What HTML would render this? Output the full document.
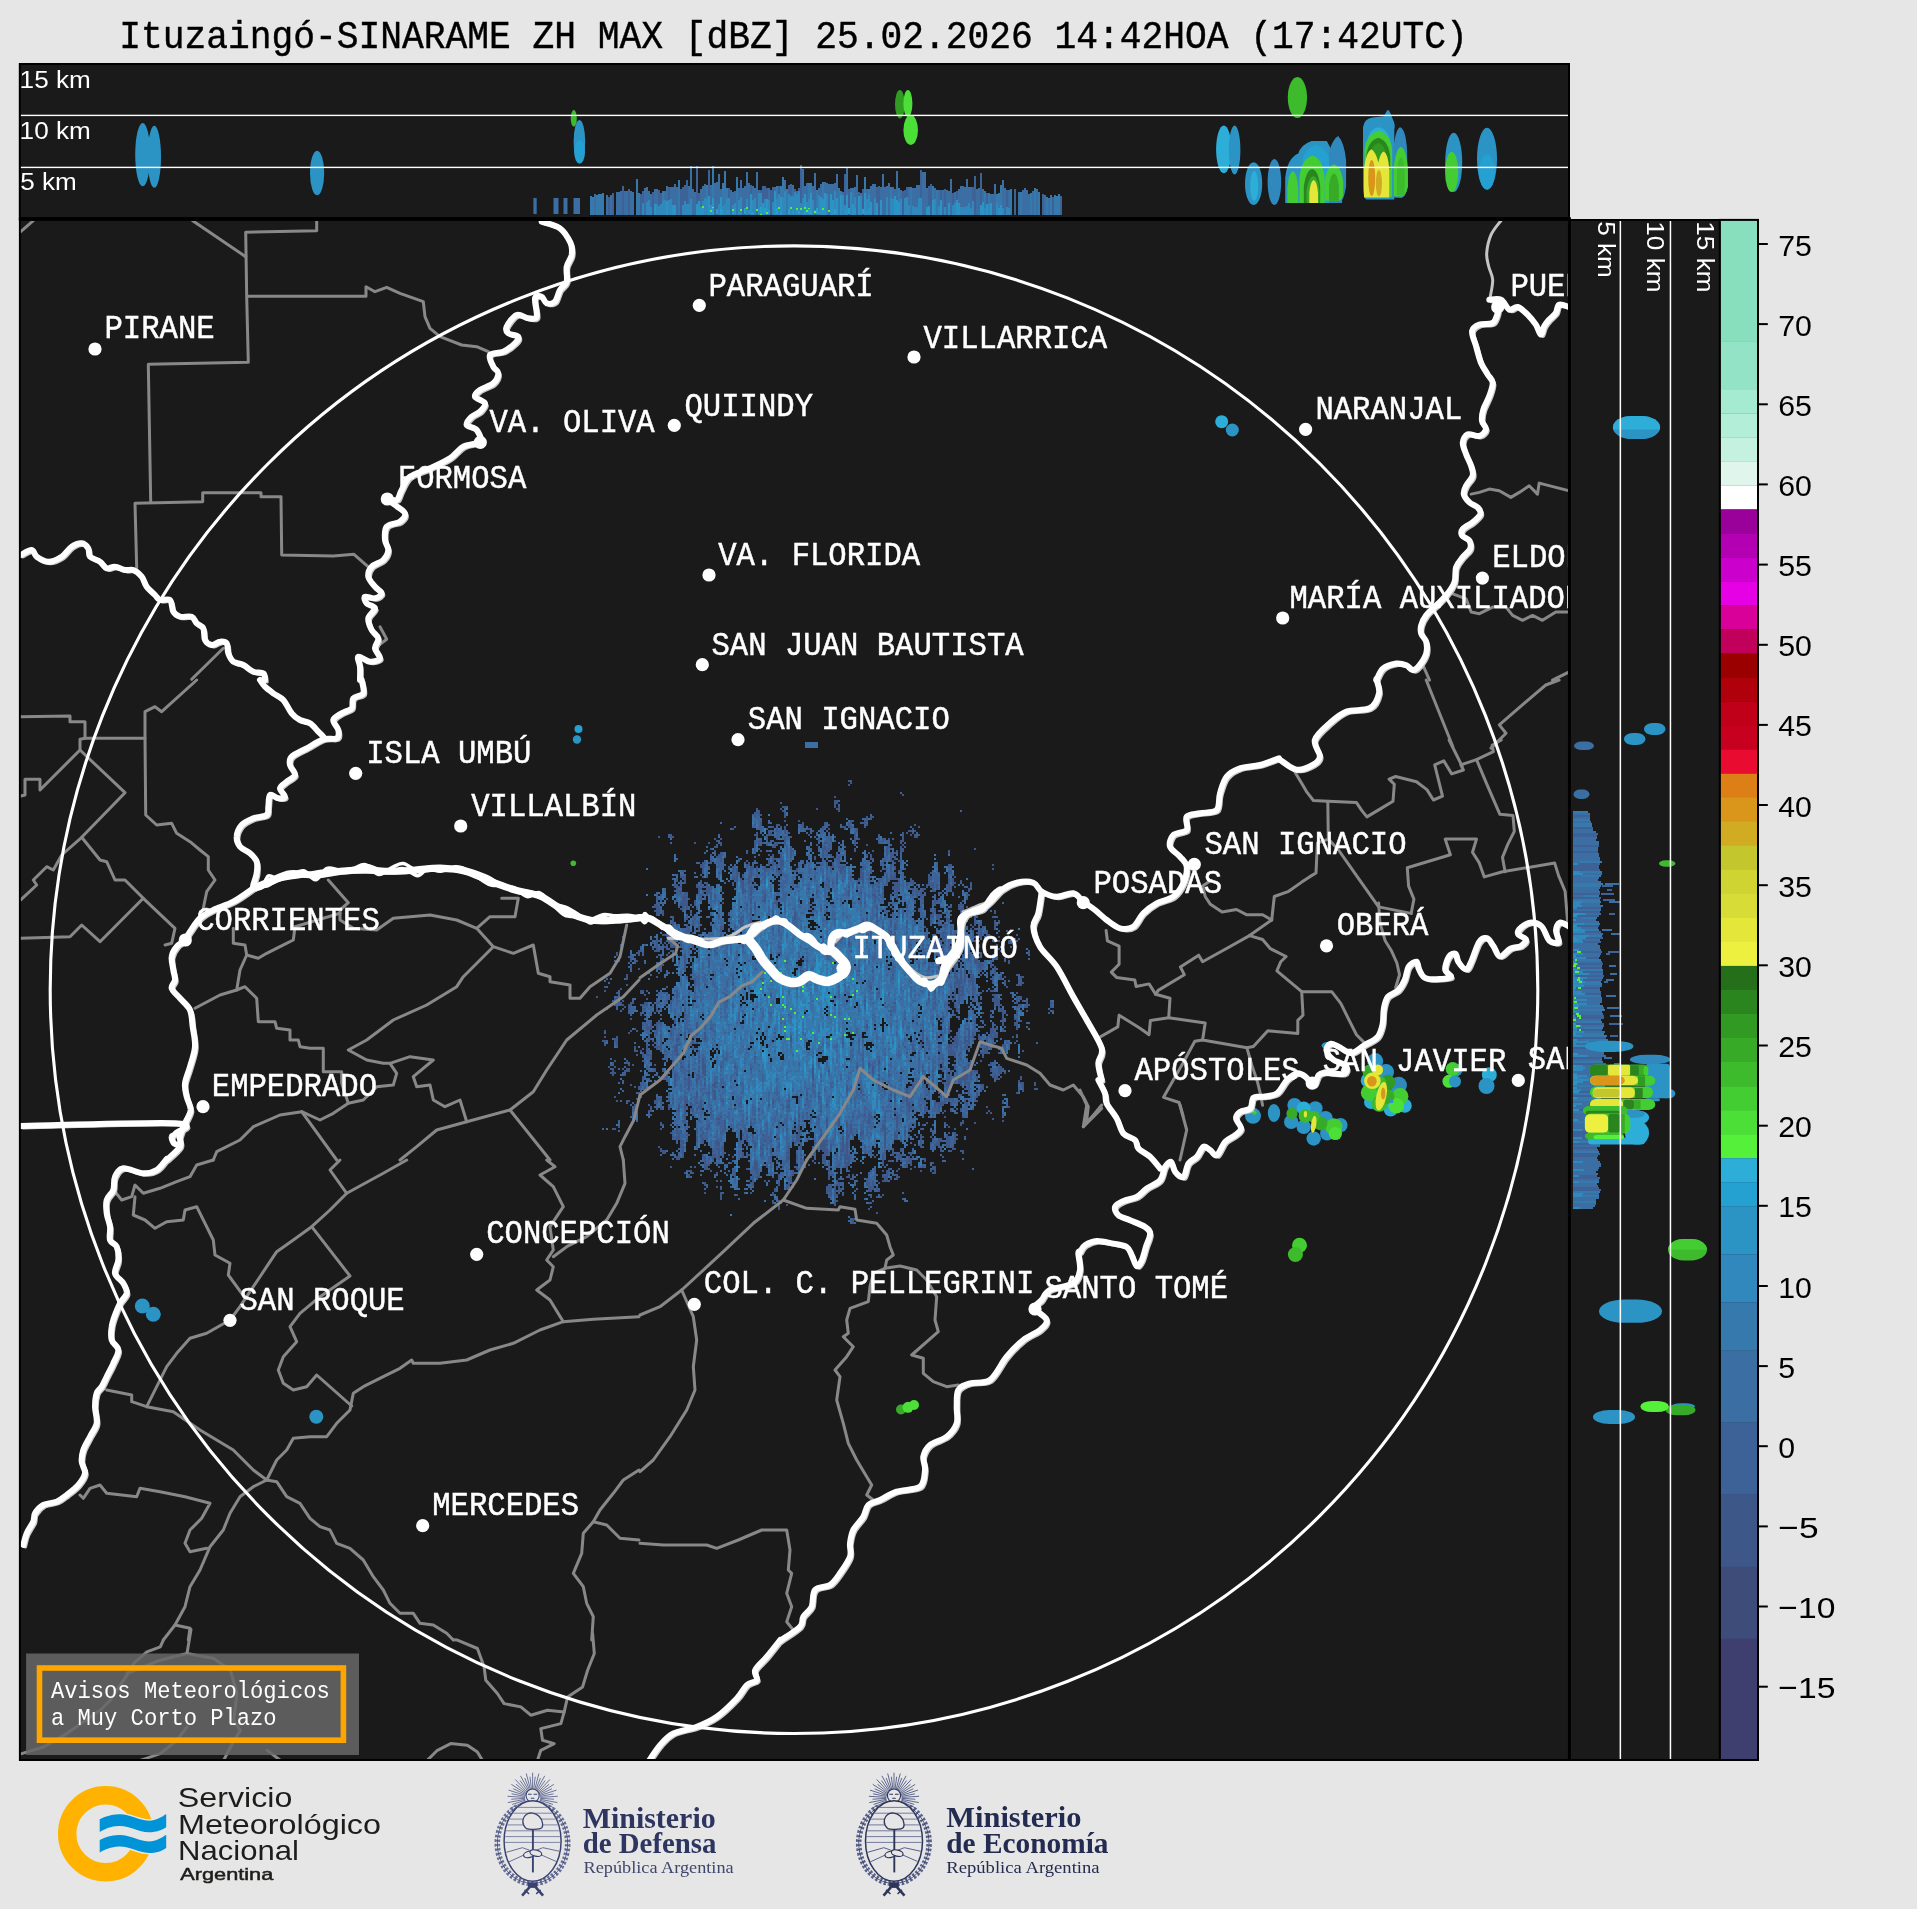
<!DOCTYPE html>
<html><head><meta charset="utf-8"><title>radar</title>
<style>html,body{margin:0;padding:0;background:#e6e6e6;overflow:hidden}svg{display:block}text{font-family:"Liberation Sans",sans-serif}.m{font-family:"Liberation Mono",monospace}.s{font-family:"Liberation Serif",serif}</style>
</head><body>
<svg width="1917" height="1909" viewBox="0 0 1917 1909" style="will-change:transform">
<rect x="18.8" y="63" width="1551.2" height="157" fill="#000"/>
<rect x="20.8" y="65" width="1547.2" height="152.3" fill="#1a1a1a"/>
<rect x="18.9" y="219" width="1702.4" height="1542" fill="#000"/>
<rect x="18.9" y="217.3" width="1552" height="4" fill="#000"/>
<rect x="20.85" y="220.9" width="1547.1" height="1538.1" fill="#1a1a1a"/>
<rect x="1570.9" y="220.9" width="148" height="1538.1" fill="#1a1a1a"/>
<text class="m" x="119.3" y="48.2" font-size="39.6" fill="#000" textLength="1348.5" lengthAdjust="spacingAndGlyphs" stroke="#000" stroke-width="0.45">Ituzaingó-SINARAME ZH MAX [dBZ] 25.02.2026 14:42HOA (17:42UTC)</text>
<clipPath id="ct"><rect x="20.8" y="65" width="1547.2" height="152.3"/></clipPath>
<g clip-path="url(#ct)">
<ellipse cx="142.7" cy="154.7" rx="7.5" ry="31.6" fill="#2b94c5"/>
<ellipse cx="154.3" cy="156.8" rx="6.7" ry="31" fill="#2b94c5"/>
<ellipse cx="317.1" cy="173" rx="7.1" ry="22.2" fill="#2b94c5"/>
<ellipse cx="573.8" cy="118.4" rx="3" ry="8.4" fill="#3dbb2d"/>
<ellipse cx="579.4" cy="141.7" rx="5.8" ry="21.8" fill="#2b94c5"/>
<ellipse cx="579.6" cy="152" rx="5.4" ry="11.5" fill="#25a1d1"/>
<ellipse cx="899.9" cy="104.2" rx="4.9" ry="14.2" fill="#319a23"/>
<ellipse cx="907.9" cy="103.4" rx="4.5" ry="13.4" fill="#4cdf38"/>
<ellipse cx="910.7" cy="130" rx="7.3" ry="15" fill="#4cdf38"/>
<ellipse cx="1223.8" cy="149.4" rx="7.7" ry="23.9" fill="#2daed9"/>
<ellipse cx="1234.6" cy="150" rx="5.8" ry="24.4" fill="#2b94c5"/>
<ellipse cx="1297.4" cy="97.5" rx="9.6" ry="20.6" fill="#3dbb2d"/>
<ellipse cx="1253.6" cy="183.7" rx="8.6" ry="21.4" fill="#2b94c5"/>
<ellipse cx="1254.2" cy="186" rx="4" ry="15" fill="#2daed9"/>
<ellipse cx="1274.4" cy="182" rx="6.8" ry="23" fill="#3088bd"/>
<ellipse cx="1487" cy="158.8" rx="10" ry="31" fill="#2b94c5"/>
<ellipse cx="1487" cy="172" rx="8" ry="17.5" fill="#25a1d1"/>
<ellipse cx="1453.7" cy="162.4" rx="8.5" ry="29.6" fill="#2b94c5"/>
<ellipse cx="1451.7" cy="172" rx="6.6" ry="20" fill="#44cd33"/>
<path d="M1285.2 202.9L1285.2 177.7Q1287.4 158 1298.3 153.6Q1300.5 144.8 1311.5 140.9L1326.8 140.9Q1330.1 147 1331.2 149.2L1331.2 202.9Z" fill="#2b94c5"/>
<path d="M1329 202.9L1329 151.4Q1333.4 138.3 1338.2 136.1Q1344.3 142.6 1346.1 160.2L1346.1 186.5Q1344.3 197.4 1342.1 200L1342.1 202.9Z" fill="#3088bd"/>
<path d="M1302.7 202.9L1302.7 158Q1307.1 147 1315.8 144.8Q1324.6 147 1329 158L1329 202.9Z" fill="#25a1d1"/>
<path d="M1287.4 202.9L1287.4 188.7Q1288.5 173.3 1292.8 171.1Q1297.2 173.3 1298.3 188.7L1298.3 202.9Z" fill="#44cd33"/>
<path d="M1299.4 202.9L1299.4 177.7Q1301.6 158 1312.6 155.8Q1322.4 158 1324.6 177.7L1324.6 202.9Z" fill="#44cd33"/>
<path d="M1303.8 202.9L1303.8 186.5Q1306 170 1312.1 168.9Q1318.5 170 1320.2 186.5L1320.2 202.9Z" fill="#2b851f"/>
<path d="M1306.6 202.9L1306.6 190.8Q1308.2 177.7 1313.2 175.9Q1318.5 177.7 1319.4 190.8L1319.4 202.9Z" fill="#37aa28"/>
<path d="M1309.3 202.9L1309.3 193Q1310.4 181 1313.7 179.9Q1316.9 181 1318 193L1318 202.9Z" fill="#e4e63a"/>
<path d="M1324.6 200.7L1324.6 182.1Q1326.8 165.6 1333.8 164.6Q1341 165.6 1343.2 182.1L1343.2 195.2Q1342.1 200.7 1337.8 200.7Z" fill="#44cd33"/>
<path d="M1329 200.7L1329 186.5Q1330.1 174.4 1333.8 173.3Q1337.8 174.4 1338.9 186.5L1338.9 200.7Z" fill="#37aa28"/>
<path d="M1363 186.5L1363 127.3Q1364 118.5 1372.8 117.4L1383.8 116.3Q1387.1 109.8 1388.2 109.8Q1390.3 112 1392.5 118.5Q1395.8 125.1 1394.3 129.5L1394.3 199.6L1366.2 199.6Q1363 197.4 1363 186.5Z" fill="#2b94c5"/>
<path d="M1393.6 197.4L1393.6 147Q1395.8 128.4 1400.2 127.3Q1405.7 129.5 1407 149.2L1407.9 186.5Q1405.7 197.4 1401.3 197.9Z" fill="#3088bd"/>
<path d="M1366.2 147Q1367.3 129.5 1378.3 127.3Q1389.2 128.4 1391.4 147Z" fill="#2daed9"/>
<path d="M1364.5 196.3L1364.5 149.2Q1366.2 135 1378.3 130.6Q1390.3 133.4 1392.1 149.2L1392.1 197Z" fill="#44cd33"/>
<path d="M1366.2 168.9L1366.2 158Q1367.3 140.9 1378.3 137.8Q1389.2 140.9 1390.3 158L1390.3 168.9Z" fill="#2b851f"/>
<path d="M1370.2 164.6L1370.2 155.8Q1371.7 144.8 1378.3 143.1Q1384.9 144.8 1386.4 155.8L1386.4 164.6Z" fill="#319a23"/>
<path d="M1364 197.4L1364 168.9Q1366.2 151.4 1371.7 149.2Q1376.1 152.5 1378.3 162.4Q1380.5 152.5 1383.8 151.4Q1388.2 153.6 1389.2 168.9L1389.2 197.4Z" fill="#e4e63a"/>
<ellipse cx="1371.7" cy="178.1" rx="3.5" ry="18" fill="#d9961b"/>
<ellipse cx="1378.9" cy="183.2" rx="3.1" ry="13.1" fill="#d1ac22"/>
<path d="M1393.6 196.3L1393.6 168.9Q1395.8 148.1 1400.9 147Q1406.1 148.1 1407.9 168.9L1407.9 186.5Q1405.7 196.3 1401.3 196.5Z" fill="#44cd33"/>
<path d="M1396.9 195.2L1396.9 173.3Q1398 158 1400.9 156.9Q1403.9 158 1404.8 173.3L1404.8 195.2Z" fill="#3dbb2d"/>
<rect x="533.4" y="198" width="3.3" height="16" fill="#3b6ea3"/>
<rect x="553.5" y="198" width="5" height="16" fill="#3b6ea3"/>
<rect x="563.5" y="198" width="4" height="16" fill="#3b6ea3"/>
<rect x="573.5" y="198" width="6.5" height="16" fill="#3b6ea3"/>
<path d="M591 195.7v19.1M593 197v17.8M597 195.2v19.6M599 193.5v21.3M601 193.6v21.2M603 193.1v21.7M637 179.4v35.4M639 193.3v21.5M645 204.6v10.2M653 205.8v9M663 191v23.8M677 201v13.8M679 179.7v35.1M679 198.5v16.3M681 204.5v10.3M693 202.8v12M695 204.3v10.5M707 185.4v29.4M713 166.4v48.4M715 201.1v13.7M717 195v19.8M723 182.5v32.3M725 171.1v43.7M727 188.1v26.7M731 204.6v10.2M737 176.8v38M737 202.6v12.2M743 201v13.8M745 199.6v15.2M749 196.4v18.4M757 193.6v21.2M771 192.5v22.3M777 185.5v29.3M781 185.8v29M783 177v37.8M787 189.2v25.6M787 201v13.8M809 183.2v31.6M811 183.4v31.4M815 192.6v22.2M817 189.6v25.2M817 192.6v22.2M823 182.3v32.5M829 195.1v19.7M839 187.5v27.3M839 199.6v15.2M841 190.9v23.9M849 204.5v10.3M853 188.1v26.7M857 200.7v14.1M863 199.1v15.7M865 176.9v37.9M869 188.9v25.9M873 198.1v16.7M879 194.9v19.9M883 198.6v16.2M885 199.6v15.2M889 204.6v10.2M891 186.6v28.2M899 188.4v26.4M903 201v13.8M911 186.8v28M911 197.1v17.7M923 199.8v15M925 205.7v9.1M931 198.5v16.3M933 186.4v28.4M937 190.4v24.4M937 203.6v11.2M943 203.3v11.5M947 205.1v9.7M951 203.9v10.9M975 203.4v11.4M977 202.1v12.7M979 208.8v6M985 190.9v23.9M989 193.1v21.7M993 207.3v7.5M995 207.4v7.4M997 193.9v20.9M999 193.2v21.6M1001 184.6v30.2M1005 208v6.8M1011 189.4v25.4M1021 192v22.8M1031 193.1v21.7M1035 188.3v26.5M1039 192.1v22.7M1047 196.5v18.3M1051 195.4v19.4M1055 194.5v20.3M1057 195.8v19M1059 194.2v20.6" stroke="#367aad" stroke-width="2" fill="none" shape-rendering="crispEdges"/>
<path d="M595 194.4v20.4M607 195.4v19.4M611 194.6v20.2M617 191.7v23.1M619 191.9v22.9M621 190.5v24.3M625 191.3v23.5M627 190.6v24.2M631 190.6v24.2M633 191.8v23M645 187.5v27.3M647 187.3v27.5M649 191.1v23.7M651 194.2v20.6M655 188.8v26M657 189.4v25.4M665 190.6v24.2M667 186.3v28.5M671 186.6v28.2M673 187v27.8M675 184v30.8M677 187.4v27.4M689 185.5v29.3M691 165.6v49.2M693 189.1v25.7M695 192v22.8M701 188.6v26.2M703 186.2v28.6M705 183.6v31.2M711 185.4v29.4M715 182.5v32.3M717 182.4v32.4M719 173.8v41M721 188.6v26.2M731 189.6v25.2M733 191.6v23.2M735 190.7v24.1M739 187.9v26.9M741 180v34.8M743 187.5v27.3M745 186.4v28.4M747 171.6v43.2M749 182.9v31.9M753 185.5v29.3M755 188.2v26.6M757 171.5v43.3M759 190.3v24.5M769 188.3v26.5M775 187.3v27.5M785 180.4v34.4M793 185.3v29.5M797 190.6v24.2M803 168.8v46M805 186.3v28.5M807 183.4v31.4M813 186.3v28.5M815 172.8v42M819 188v26.8M821 184.3v30.5M825 181.8v33M827 182.5v32.3M829 183.7v31.1M831 184v30.8M833 184v30.8M835 182.8v32M837 173.6v41.2M843 191.6v23.2M847 168.2v46.6M851 188.1v26.7M855 187.2v27.6M857 175.2v39.6M861 192.5v22.3M867 188.9v25.9M871 186v28.8M873 184.3v30.5M875 183.8v31M881 187.2v27.6M883 173.6v41.2M885 186.7v28.1M887 186.4v28.4M889 183.3v31.5M893 186.9v27.9M895 189.3v25.5M897 170.5v44.3M901 190.4v24.4M909 187v27.8M913 188v26.8M915 187.7v27.1M917 185.4v29.4M919 184.7v30.1M923 172.2v42.6M925 171.7v43.1M927 188v26.8M935 187.9v26.9M939 190v24.8M943 190.1v24.7M947 189.7v25.1M949 191.2v23.6M951 178.9v35.9M955 192.1v22.7M959 188.5v26.3M961 185.7v29.1M963 186.2v28.6M965 186.5v28.3M967 178.5v36.3M969 187.4v27.4M971 187.1v27.7M977 189.1v25.7M979 188.4v26.4M983 188.6v26.2M991 194.1v20.7M993 193.7v21.1M995 183.8v31M1003 180.1v34.7M1005 188.1v26.7M1009 189.7v25.1M1019 191.9v22.9M1023 190.3v24.5M1025 188.1v26.7M1027 190.1v24.7M1029 193.5v21.3M1033 190.5v24.3M1037 189.1v25.7M1045 194.7v20.1M1049 197.5v17.3" stroke="#3b6ea3" stroke-width="2" fill="none" shape-rendering="crispEdges"/>
<path d="M609 196.6v18.2M613 193.3v21.5M623 186.1v28.7M629 189.3v25.5M641 193.6v21.2M643 190.9v23.9M653 192v22.8M659 189.9v24.9M661 193.1v21.7M669 187.3v27.5M681 188.8v26M683 186.9v27.9M685 185.3v29.5M687 180.2v34.6M697 165.8v49M699 192.6v22.2M709 169.8v45M729 188v26.8M751 185v29.8M761 189.5v25.3M763 185.5v29.3M765 185.6v29.2M767 187.9v26.9M771 189.5v25.3M773 187.3v27.5M779 185.6v29.2M789 184.7v30.1M791 183.7v31.1M795 189v25.8M799 187.5v27.3M801 165.3v49.5M845 173.9v40.9M849 188.5v26.3M859 191.6v23.2M863 189.1v25.7M877 187.3v27.5M879 185.6v29.2M903 190.9v23.9M905 190.4v24.4M907 186.6v28.2M921 169.6v45.2M929 185.7v29.1M931 184v30.8M941 190.3v24.5M945 189.2v25.6M953 192.9v21.9M957 190.5v24.3M973 187.4v27.4M975 175.5v39.3M981 172.8v42M987 193.2v21.6M1007 190v24.8M1015 189.4v25.4M1043 194.4v20.4M1053 196.6v18.2M1061 196.2v18.6" stroke="#3c6298" stroke-width="2" fill="none" shape-rendering="crispEdges"/>
<path d="M643 202.7v12.1M647 202.3v12.5M649 200.2v14.6M651 206.5v8.3M657 203.7v11.1M659 205.6v9.2M661 204.4v10.4M663 201.2v13.6M665 200.4v14.4M669 200.4v14.4M671 199.3v15.5M683 204.6v10.2M685 200.5v14.3M687 203.7v11.1M689 203.9v10.9M691 199.3v15.5M703 200.8v14M705 198v16.8M707 198.9v15.9M719 204.4v10.4M723 205.6v9.2M725 204.1v10.7M727 197.7v17.1M729 197.8v17M733 205v9.8M735 202.7v12.1M739 199.7v15.1M741 196.9v17.9M747 199.1v15.7M753 200.2v14.6M755 197.7v17.1M759 193.3v21.5M761 192.5v22.3M765 198.6v16.2M769 200.4v14.4M773 202.3v12.5M777 199.3v15.5M779 194.2v20.6M783 197.3v17.5M785 190.6v24.2M789 194v20.8M791 195.8v19M793 196.1v18.7M795 192v22.8M797 194v20.8M799 190.5v24.3M801 202.9v11.9M803 197.5v17.3M807 201.6v13.2M809 199.1v15.7M813 200v14.8M819 194.7v20.1M827 193.5v21.3M835 191.1v23.7M843 194.6v20.2M845 204.5v10.3M851 191.7v23.1M855 197v17.8M861 195.5v19.3M867 199.1v15.7M869 195.2v19.6M875 198.1v16.7M887 197v17.8M891 197.7v17.1M893 198.9v15.9M901 199v15.8M905 197.9v16.9M907 197.2v17.6M909 205.1v9.7M913 206.3v8.5M915 207v7.8M917 207.2v7.6M919 197.9v16.9M921 197.8v17M935 199.3v15.5M939 205.7v9.1M945 207.1v7.7M953 205.2v9.6M955 202.5v12.3M961 207.4v7.4M963 206.7v8.1M965 207v7.8M967 205.9v8.9M969 202.5v12.3M971 207.5v7.3M973 201.4v13.4M985 208.2v6.6M989 204.3v10.5M997 202.9v11.9M1003 207.7v7.1M1007 206.6v8.2M1009 207.9v6.9" stroke="#3088bd" stroke-width="2" fill="none" shape-rendering="crispEdges"/>
<path d="M655 204.1v10.7M667 200.5v14.3M673 204.9v9.9M675 205.2v9.6M697 204.3v10.5M699 201.1v13.7M701 206.6v8.2M703 207v6.8M709 196.1v18.7M711 205.3v9.5M713 198v16.8M721 196.7v18.1M723 209.5v4.3M727 209.6v4.2M729 210.1v3.7M735 208.1v5.7M739 211.5v2.3M741 210.5v3.3M749 210v3.8M751 193.6v21.2M759 208v5.8M763 202.9v11.9M767 198.6v16.2M767 209.6v4.2M775 191.4v23.4M781 196.5v18.3M793 209.5v4.3M797 207.9v5.9M805 193.6v21.2M807 207.3v6.5M811 192.7v22.1M815 210.1v3.7M819 211.5v2.3M821 197.4v17.4M823 198.6v16.2M823 209.1v4.7M825 192.8v22M825 211.7v2.1M831 194.4v20.4M833 199.8v15M833 208.7v5.1M837 197.5v17.3M837 211.7v2.1M841 194.8v20M841 208v5.8M845 209.1v4.7M847 195.1v19.7M847 208.3v5.5M853 203.5v11.3M855 207.9v5.9M859 196.1v18.7M865 193.2v21.6M865 209.7v4.1M867 211.3v2.5M869 207.9v5.9M871 201.9v12.9M877 203.3v11.5M881 199.7v15.1M895 196v18.8M897 200.3v14.5M899 201.8v13M927 207.4v7.4M929 206.4v8.4M933 199.7v15.1M941 200.4v14.4M949 202.9v11.9M957 200.3v14.5M959 202.9v11.9M981 204.8v10M983 202v12.8M987 203.6v11.2M991 203.4v11.4M999 208.4v6.4M1001 204.7v10.1" stroke="#2b94c5" stroke-width="2" fill="none" shape-rendering="crispEdges"/>
<path d="M703 206.4v2M711 210.2v2M713 206.8v2M717 208.5v2M733 209.4v2M741 209.3v2M747 207.4v2M757 209.4v2M761 212.5v2M767 212v2M779 207.4v2M791 206.6v2M797 208v2M801 207.8v2M805 207.4v2M807 209.9v2M809 207.9v2M815 211.4v2M817 208.6v2M823 208.1v2M829 209.9v2M835 212.4v2" stroke="#55f03a" stroke-width="2" fill="none" shape-rendering="crispEdges"/>
<path d="M713 208.1v5.7M717 208.6v5.2M721 209.4v4.4M733 211v2.8M745 207.5v6.3M753 211.7v2.1M761 207.1v6.7M765 208.4v5.4M769 209.5v4.3M777 207.5v6.3M781 211.5v2.3M789 209.4v4.4M799 210.7v3.1M805 211.6v2.2M809 209.4v4.4M811 211.4v2.4M817 208.1v5.7M835 208.7v5.1M849 207.5v6.3M863 209.4v4.4" stroke="#25a1d1" stroke-width="2" fill="none" shape-rendering="crispEdges"/>
<rect x="20.5" y="114.7" width="1547.6" height="1.4" fill="#fff"/>
<rect x="20.5" y="166.7" width="1547.6" height="1.4" fill="#fff"/>
</g>
<text x="19.6" y="87.5" font-size="24.6" fill="#fff" textLength="71.2" lengthAdjust="spacingAndGlyphs">15 km</text>
<text x="19.6" y="138.9" font-size="24.6" fill="#fff" textLength="71.2" lengthAdjust="spacingAndGlyphs">10 km</text>
<text x="20.2" y="190.2" font-size="24.6" fill="#fff" textLength="56.5" lengthAdjust="spacingAndGlyphs">5 km</text>
<g clip-path="url(#cm2)">
<clipPath id="cm2"><rect x="20.85" y="220.9" width="1547.1" height="1538.1"/></clipPath>
<path d="M597 996v2M603 1040v2M605 986v2M605 990v2M605 1030v2M605 1036v2M605 1040v2M605 1044v2M609 1066v2M611 1072v2M613 1000v2M613 1062v2M613 1068v8M613 1128v2M615 998v2M615 1038v4M615 1060v2M615 1066v2M615 1072v2M615 1096v2M615 1128v2M617 952v4M617 992v2M617 996v4M617 1036v10M617 1100v2M619 956v6M619 1126v2M621 944v4M621 988v2M621 1002v4M623 1000v2M623 1004v2M623 1008v2M623 1068v2M625 1006v2M625 1070v2M625 1074v2M627 974v6M627 984v2M627 1060v4M627 1068v4M627 1100v2M629 956v2M629 1004v6M629 1032v2M629 1064v2M629 1068v4M629 1100v2M631 960v2M631 966v2M631 1002v4M631 1018v2M631 1030v2M631 1084v2M633 1002v2M633 1064v2M633 1116v2M635 1028v2M635 1046v6M635 1086v2M635 1104v12M637 952v2M637 960v2M637 1030v2M637 1050v2M637 1054v2M637 1098v2M639 950v6M639 968v2M639 1086v4M639 1092v2M641 950v2M641 990v4M641 1004v2M641 1012v4M641 1050v2M641 1084v4M643 990v2M643 1004v2M643 1008v2M643 1024v2M643 1048v2M643 1052v6M643 1060v2M643 1076v4M645 944v2M645 994v2M645 1002v4M645 1008v2M645 1022v2M645 1086v6M647 990v2M647 998v2M647 1002v4M647 1024v6M647 1044v6M647 1052v4M647 1066v2M649 1026v4M649 1034v2M649 1038v2M649 1050v2M649 1054v2M649 1086v2M649 1104v2M649 1110v2M651 1022v8M651 1032v2M651 1054v6M651 1106v6M651 1114v2M653 942v2M653 948v2M653 1040v2M655 904v4M655 910v2M655 950v2M655 1024v2M655 1032v2M655 1036v2M655 1046v2M655 1064v2M655 1068v4M655 1100v4M657 896v4M657 904v12M657 920v2M657 940v12M657 976v2M657 1002v2M657 1008v4M657 1022v12M657 1046v4M657 1098v6M659 836v2M659 902v2M659 906v8M659 950v2M659 954v2M659 964v2M659 972v2M659 1002v2M659 1020v4M659 1046v2M659 1098v2M659 1146v2M661 894v2M661 956v4M661 964v2M661 1022v4M661 1030v2M661 1034v18M661 1098v6M661 1106v4M661 1122v4M661 1128v2M661 1148v4M663 910v6M663 934v2M663 944v2M663 964v2M663 1070v2M663 1076v2M663 1124v2M663 1150v4M665 934v2M665 942v2M665 946v2M665 992v2M665 1050v2M665 1054v2M665 1150v4M667 898v2M667 930v2M667 936v2M667 944v6M667 954v2M667 986v2M667 994v2M667 1000v2M667 1076v2M667 1080v2M669 938v2M669 952v2M669 1094v2M669 1098v4M669 1104v6M671 834v4M671 932v4M671 942v2M671 946v2M671 950v2M671 1000v6M671 1030v6M671 1132v2M671 1166v2M673 836v2M673 916v12M673 946v2M673 954v2M673 1060v2M673 1068v2M673 1098v2M673 1102v2M673 1136v2M675 884v4M675 946v2M675 1018v6M675 1046v6M675 1074v12M677 878v4M677 884v6M677 892v2M677 924v2M677 990v8M677 1038v4M677 1044v12M677 1074v2M677 1110v2M677 1124v10M677 1136v4M677 1156v4M679 886v2M679 890v2M679 930v2M679 956v2M679 960v4M679 1022v2M679 1034v2M679 1038v2M679 1044v2M679 1104v8M679 1132v8M679 1156v4M681 876v2M681 886v2M681 890v4M681 902v4M681 908v2M681 940v6M681 1062v2M681 1066v2M681 1130v4M681 1140v2M681 1144v4M683 870v2M683 876v2M683 896v14M683 936v2M683 948v2M683 1066v2M683 1120v2M683 1140v4M683 1146v12M685 876v8M685 892v14M685 954v16M685 1008v4M685 1014v2M685 1018v2M685 1032v8M685 1078v2M685 1096v2M685 1100v24M685 1172v2M687 892v2M687 896v2M687 900v10M687 914v6M687 924v4M687 930v2M687 976v2M687 1098v6M687 1106v2M687 1134v2M687 1138v4M689 898v2M689 928v4M689 936v2M689 962v2M689 998v2M689 1030v2M689 1064v4M689 1070v4M689 1076v14M689 1134v2M689 1170v2M689 1174v4M691 912v2M691 934v4M691 978v2M691 1098v2M691 1102v4M691 1108v2M691 1170v2M693 916v2M693 920v6M693 932v2M693 940v2M693 944v6M693 956v2M693 962v2M693 1002v4M693 1040v4M693 1048v2M693 1108v4M693 1114v2M693 1172v2M695 842v2M695 900v6M695 918v2M695 978v8M695 992v2M695 1166v2M697 884v4M697 908v2M697 1022v8M697 1034v2M697 1042v2M697 1074v2M697 1078v6M697 1092v6M697 1102v2M697 1108v2M697 1128v6M697 1136v6M697 1146v2M699 886v8M699 922v2M699 926v6M699 934v2M699 940v2M699 1050v2M699 1056v2M699 1060v2M699 1066v2M699 1070v2M699 1074v6M699 1106v2M699 1120v2M701 864v4M701 874v2M701 880v6M701 888v2M701 894v2M701 898v2M701 1100v10M701 1128v2M701 1134v4M703 862v12M703 876v2M703 886v2M703 890v4M703 1058v16M703 1132v2M703 1138v6M703 1154v4M705 862v2M705 890v2M705 984v2M705 1032v8M705 1064v12M705 1078v2M705 1082v4M705 1156v14M705 1182v4M705 1192v2M707 876v2M707 882v14M707 1128v2M707 1138v2M707 1164v6M709 842v2M709 862v2M709 866v2M709 886v8M709 960v8M709 1092v2M709 1124v4M709 1158v2M709 1164v2M709 1168v2M711 848v2M711 854v2M711 860v4M711 886v4M711 892v8M711 906v2M711 914v2M711 924v2M711 942v2M711 948v2M711 1028v2M711 1108v2M711 1112v2M711 1170v2M713 1084v2M713 1090v2M713 1150v2M713 1154v6M715 838v2M715 846v2M715 850v2M715 894v4M715 946v2M715 950v2M715 1082v6M715 1090v10M715 1154v4M715 1162v2M717 840v2M717 846v2M717 856v2M717 866v2M717 944v4M717 952v2M717 1082v2M717 1118v2M717 1140v6M717 1148v2M717 1172v2M717 1180v2M717 1186v2M719 854v4M719 872v2M719 914v4M719 1118v2M719 1122v2M719 1142v4M719 1148v12M721 838v2M721 842v4M721 852v10M721 926v6M721 934v8M721 1066v2M721 1116v2M721 1132v2M721 1188v2M721 1192v8M723 902v2M723 926v4M723 1100v2M723 1130v2M723 1146v4M723 1152v2M725 938v2M725 1058v2M725 1120v10M727 994v2M727 998v4M729 866v4M729 912v2M729 942v2M729 1154v2M731 916v2M731 1162v2M733 828v2M733 866v6M733 876v4M733 882v4M733 976v4M733 982v4M733 1128v2M733 1156v2M733 1170v2M735 878v2M735 926v2M735 1066v2M735 1108v2M735 1172v6M737 868v14M737 1074v2M737 1194v2M739 858v4M739 920v2M739 1140v2M741 878v4M741 918v8M741 1006v2M741 1102v2M741 1140v2M743 874v4M743 880v14M743 916v2M743 920v2M743 926v2M743 944v4M743 1134v2M743 1148v2M743 1152v6M745 890v2M745 1128v2M747 852v2M747 860v2M747 864v4M747 904v2M747 1118v2M747 1130v2M747 1134v8M747 1154v2M747 1168v2M749 862v4M749 876v8M749 1154v2M751 866v12M751 880v2M751 886v10M751 898v6M751 908v6M751 918v8M751 928v2M751 1068v2M751 1122v4M751 1178v2M751 1182v2M751 1192v2M753 866v4M753 942v2M753 1018v2M753 1134v4M753 1140v2M753 1176v10M755 812v6M755 824v2M755 834v2M755 840v8M755 850v2M755 902v8M755 930v2M755 1056v2M755 1118v2M755 1142v6M755 1160v10M757 808v2M757 812v2M757 832v6M757 866v6M757 876v2M757 1162v12M757 1176v4M759 810v6M759 840v6M759 848v2M759 926v2M759 1108v2M759 1174v4M761 814v2M761 822v4M761 840v2M761 850v2M761 1146v4M761 1154v2M763 842v2M763 900v2M763 984v2M763 1134v2M763 1144v2M763 1148v2M763 1152v2M765 866v6M765 876v2M765 894v8M765 1140v2M765 1180v2M767 828v2M767 834v6M767 844v2M767 1148v2M767 1164v4M769 830v6M769 850v2M769 854v2M769 858v8M769 1104v2M771 832v4M771 890v2M771 994v2M771 1140v2M771 1148v6M771 1156v2M771 1162v2M771 1166v2M771 1174v2M773 826v2M773 830v2M773 846v2M773 854v12M773 868v2M773 910v6M773 918v2M773 922v2M773 928v2M773 1100v4M773 1192v4M773 1200v4M775 844v4M775 858v2M775 898v2M775 902v2M775 1032v2M775 1188v4M777 824v2M777 828v4M777 838v2M777 842v4M777 864v8M777 900v6M777 1134v2M777 1138v2M777 1156v2M777 1166v2M779 824v2M779 870v4M779 884v2M779 916v2M779 924v2M779 930v2M779 946v2M779 952v2M779 1122v2M779 1138v2M779 1142v6M779 1174v6M779 1182v4M779 1200v2M779 1204v6M781 802v2M781 808v2M781 826v2M781 854v20M781 952v2M781 1168v2M783 806v2M783 810v2M783 860v6M783 1166v2M785 806v2M785 812v6M785 820v2M785 826v8M785 836v8M785 908v2M787 1106v2M787 1128v2M787 1152v2M787 1156v6M787 1172v2M787 1184v6M787 1204v2M789 832v2M789 1100v2M789 1104v4M789 1146v14M789 1178v2M789 1184v2M791 836v2M791 846v12M791 1036v6M791 1176v6M793 850v2M793 1140v2M793 1170v6M793 1182v2M793 1186v2M795 912v8M795 1118v2M795 1124v2M795 1128v2M795 1132v2M795 1142v2M797 868v4M797 884v4M797 1134v8M797 1154v6M797 1162v2M797 1166v4M799 820v2M799 866v2M799 898v4M799 1114v4M799 1120v2M799 1124v18M801 966v2M801 970v2M801 1130v2M801 1134v2M801 1138v2M801 1142v8M801 1154v2M801 1158v2M801 1162v2M803 822v6M803 958v2M803 970v2M803 1116v2M803 1120v2M805 864v2M805 1104v2M807 960v2M807 970v2M807 976v2M807 1092v4M807 1098v2M807 1112v2M809 828v2M809 834v2M809 888v2M809 902v2M809 1132v2M809 1136v2M809 1164v2M811 1118v2M811 1156v2M813 830v2M813 1066v14M813 1084v2M813 1138v2M813 1152v2M813 1160v2M815 856v4M815 876v2M815 1142v2M815 1146v8M817 808v2M817 844v2M817 890v4M817 1116v2M817 1146v4M819 838v2M819 1092v2M819 1096v4M819 1118v2M821 864v2M821 908v2M821 1106v2M821 1110v2M821 1130v2M821 1134v6M821 1142v8M823 826v4M823 848v10M823 876v2M823 1138v14M823 1154v8M825 822v4M825 842v2M825 846v4M825 1140v26M827 842v2M827 850v2M827 854v2M827 862v8M827 878v2M827 884v2M827 910v2M827 914v2M827 1104v2M827 1118v10M827 1140v2M827 1144v2M827 1148v6M827 1186v8M829 824v2M829 828v2M829 844v2M829 848v2M829 880v2M829 886v2M829 896v2M829 954v2M829 1070v2M829 1162v4M829 1168v4M829 1174v6M829 1186v6M829 1194v2M831 838v4M831 854v2M831 866v2M831 870v2M831 1144v8M831 1166v2M831 1170v2M831 1174v2M831 1184v12M833 856v2M833 862v6M833 882v2M833 1174v2M835 796v2M835 800v8M835 836v2M835 840v2M835 918v2M835 1186v20M837 800v4M837 808v2M837 854v2M837 858v2M837 874v10M837 1154v2M837 1166v2M837 1172v2M837 1180v2M837 1184v2M837 1194v2M837 1200v2M839 806v6M839 856v8M839 866v2M839 1114v2M839 1118v8M839 1164v2M839 1178v2M839 1182v10M841 866v8M841 1150v2M841 1154v2M841 1158v2M841 1188v2M843 826v2M843 866v4M843 880v2M843 932v2M843 1042v2M843 1132v2M843 1136v16M843 1186v2M843 1194v2M845 826v4M845 866v2M845 870v2M845 1154v10M845 1166v2M847 1086v6M847 1122v6M847 1130v30M847 1162v6M847 1176v2M849 780v2M849 784v2M849 822v6M849 886v2M849 890v6M849 942v4M849 1134v4M849 1156v10M849 1170v2M849 1174v4M851 780v4M851 820v4M851 826v2M851 876v2M851 950v2M851 1124v10M851 1178v2M853 820v2M853 1116v2M853 1134v2M853 1174v2M853 1178v2M853 1218v6M855 832v14M855 848v4M857 828v4M857 886v4M857 1066v2M857 1130v2M859 838v2M859 878v4M859 970v2M859 1040v2M861 868v12M861 892v2M861 902v2M861 1088v6M861 1132v4M863 822v2M863 866v4M863 872v12M863 920v2M863 1040v2M863 1058v2M863 1094v2M863 1130v4M865 820v4M865 826v2M865 902v2M865 1000v2M865 1004v2M865 1114v2M865 1146v2M865 1152v2M867 816v6M867 824v2M867 844v2M867 854v2M867 918v6M867 928v2M867 934v2M867 938v2M867 1024v4M867 1178v8M869 860v2M869 878v2M869 1062v6M869 1114v2M869 1118v6M869 1182v10M869 1208v2M871 816v4M871 854v6M871 862v2M871 868v4M871 922v2M871 926v8M871 986v4M871 1116v2M871 1150v2M871 1170v2M871 1186v6M871 1196v2M871 1202v2M873 816v2M873 850v2M873 858v2M873 884v4M873 894v2M873 970v2M873 1066v8M873 1180v10M875 894v4M875 900v2M875 1156v2M877 906v4M877 912v6M877 920v2M877 928v6M877 1154v2M877 1188v2M877 1196v2M877 1212v2M879 834v2M879 838v2M879 842v2M879 880v4M879 886v2M879 890v2M879 894v2M879 948v2M879 992v2M879 1060v4M879 1074v2M879 1078v2M879 1082v4M879 1182v2M879 1190v2M881 870v2M881 1196v2M883 838v4M883 862v2M883 866v2M883 888v2M883 892v2M883 896v2M883 926v14M883 1124v6M883 1154v12M883 1170v2M883 1174v4M883 1180v2M883 1194v2M885 860v2M885 864v2M885 868v2M885 872v2M885 910v2M885 1002v2M885 1116v2M885 1120v2M885 1126v22M885 1152v2M885 1176v6M887 846v10M887 874v10M887 906v2M887 912v2M887 1170v12M889 838v2M889 846v2M889 1070v2M889 1074v2M889 1098v4M889 1160v2M889 1168v4M891 848v2M891 852v10M891 864v8M891 874v6M891 920v6M891 930v8M891 940v2M891 1010v2M891 1014v2M891 1094v2M891 1160v2M891 1178v2M893 838v2M893 854v2M893 860v2M893 876v4M893 882v2M893 886v4M893 908v2M893 912v2M893 934v2M893 974v2M893 978v2M893 1148v8M895 852v2M895 856v4M895 862v2M895 866v4M895 872v8M895 882v8M895 892v2M895 924v6M895 932v4M895 938v6M895 1002v2M895 1094v8M895 1112v2M895 1132v8M895 1156v2M897 850v2M897 878v2M897 882v18M897 942v2M897 1116v12M897 1130v2M897 1134v6M897 1154v2M897 1170v2M897 1174v6M899 860v2M899 870v2M899 880v10M899 908v2M899 912v2M899 1154v6M899 1168v2M899 1176v2M901 840v4M901 846v6M901 860v2M901 1140v2M901 1148v4M901 1154v4M901 1160v2M901 1164v2M903 794v2M903 832v10M903 844v2M903 848v4M903 910v8M905 868v2M905 876v2M905 938v2M905 962v2M905 1018v2M905 1046v2M905 1092v2M905 1126v2M905 1130v6M905 1164v2M907 832v2M907 882v4M907 904v4M907 920v4M907 926v2M907 932v2M907 1052v2M907 1088v18M907 1160v8M909 830v2M909 938v2M909 942v6M909 1086v2M909 1102v10M909 1128v4M909 1134v4M909 1156v6M911 830v2M911 834v2M911 878v6M911 944v2M911 948v4M911 1106v2M911 1152v4M911 1158v8M911 1168v2M913 828v2M913 832v2M913 880v6M913 888v4M913 894v2M913 938v2M913 1044v6M913 1084v6M913 1156v2M915 824v2M915 830v2M915 834v4M915 900v4M915 906v2M915 910v2M915 920v2M915 958v2M915 1050v2M915 1166v2M917 836v2M917 884v2M917 888v10M917 1014v2M917 1022v2M917 1082v2M917 1136v2M919 826v2M919 834v2M919 890v2M919 908v4M919 964v4M919 1052v2M919 1058v2M919 1072v2M921 892v6M921 906v2M921 930v2M921 1042v2M921 1104v2M921 1128v2M921 1134v14M921 1170v2M923 888v4M923 894v2M923 898v2M923 902v2M923 940v2M923 944v2M923 948v2M923 954v2M923 1030v12M923 1044v2M923 1066v2M923 1070v2M923 1076v2M923 1124v2M923 1136v2M923 1164v4M925 888v2M925 926v2M925 952v4M925 962v2M925 1106v6M925 1158v4M927 884v4M927 928v2M927 936v4M927 1038v2M927 1094v2M927 1102v2M927 1106v6M927 1122v2M929 874v12M929 966v4M929 992v4M929 998v2M929 1048v2M929 1058v2M929 1078v8M929 1090v4M931 872v2M931 876v4M931 884v2M931 908v2M931 914v4M931 920v4M931 1136v2M931 1142v2M931 1170v2M933 882v10M933 912v6M933 934v2M933 970v2M933 1024v2M933 1070v2M933 1074v16M933 1114v2M933 1124v2M933 1130v2M933 1138v2M933 1162v2M933 1166v4M933 1172v2M935 890v2M935 900v6M935 908v4M935 938v10M935 988v6M935 996v2M935 1002v2M935 1100v8M935 1144v2M935 1166v8M937 884v6M937 900v2M937 914v6M937 922v2M937 932v2M937 938v14M937 954v2M937 1102v2M937 1142v4M939 872v2M939 914v8M939 924v2M939 942v2M939 956v4M939 962v8M939 1046v2M939 1050v2M939 1058v2M939 1064v2M939 1092v2M939 1096v2M939 1102v10M939 1138v8M941 892v2M941 900v2M941 914v2M941 924v2M941 952v6M941 966v2M941 970v8M941 982v2M941 1024v2M941 1096v2M941 1102v4M941 1138v4M941 1146v6M943 932v10M943 944v10M943 978v8M943 1016v6M943 1058v2M943 1062v2M943 1066v2M943 1070v2M943 1078v2M943 1082v2M943 1102v4M943 1112v2M943 1156v2M945 916v2M945 924v4M945 932v2M945 936v2M945 940v2M945 944v2M945 1098v6M945 1110v2M945 1116v2M945 1122v2M947 884v2M947 888v2M947 892v2M947 912v2M947 918v2M947 924v2M947 1072v14M947 1092v2M947 1096v4M947 1124v2M947 1134v14M949 850v4M949 864v4M949 870v4M949 878v14M949 918v4M949 940v2M949 946v2M949 952v6M949 968v2M949 974v4M949 1002v2M949 1006v2M949 1026v8M949 1044v4M949 1050v6M949 1074v18M949 1094v2M949 1098v4M949 1126v2M949 1132v2M949 1136v12M951 864v2M951 870v4M951 886v4M951 906v2M951 910v2M951 914v2M951 926v2M951 930v8M951 946v2M951 958v2M951 962v2M951 986v2M951 994v2M951 1008v2M951 1036v2M951 1040v2M951 1044v12M951 1070v2M951 1074v2M951 1082v4M951 1098v2M951 1102v4M951 1110v2M951 1150v2M953 878v8M953 892v2M953 954v14M953 998v4M953 1012v2M953 1038v2M953 1044v2M953 1050v6M953 1098v4M953 1146v4M955 876v2M955 882v2M955 886v2M955 932v6M955 946v2M955 950v28M955 982v6M955 990v10M955 1004v4M955 1014v2M955 1036v8M955 1046v2M955 1052v6M955 1060v2M955 1064v6M955 1080v2M955 1128v2M955 1132v12M955 1148v2M957 956v2M957 962v2M957 976v8M957 1008v4M957 1034v14M957 1138v2M959 904v6M959 916v2M959 928v2M959 980v24M959 1008v2M959 1018v2M959 1028v2M959 1054v2M959 1078v6M959 1096v2M959 1100v2M961 880v2M961 904v2M961 908v16M961 932v2M961 964v2M961 970v14M961 986v2M961 990v2M961 994v2M961 1052v2M961 1058v2M961 1078v8M961 1094v2M961 1108v4M961 1122v4M961 1150v2M963 900v2M963 904v14M963 920v10M963 932v2M963 938v2M963 942v8M963 954v2M963 986v10M963 1076v4M963 1116v2M963 1120v4M963 1150v4M965 942v8M965 968v14M965 1036v8M965 1046v2M965 1066v6M965 1074v12M965 1088v2M965 1092v2M965 1100v4M967 894v2M967 898v2M967 906v2M967 910v4M967 916v2M967 948v10M967 1018v2M967 1028v2M967 1040v2M967 1044v2M967 1048v2M967 1070v2M967 1074v6M967 1082v2M967 1102v4M969 888v4M969 894v2M969 930v2M969 954v6M969 980v2M969 1028v16M969 1064v4M969 1082v12M971 882v2M971 886v2M971 924v2M971 928v2M971 970v12M971 1046v2M971 1066v14M971 1096v2M971 1104v2M973 912v2M973 926v2M973 930v2M973 974v22M973 998v4M973 1032v6M973 1040v2M973 1108v2M975 848v2M975 914v12M975 928v2M975 936v2M975 940v2M975 954v2M975 958v6M975 988v2M975 1020v4M975 1026v2M975 1038v2M975 1070v2M975 1122v2M977 916v2M977 932v2M977 936v2M977 940v2M977 948v2M977 954v2M977 958v6M977 994v2M977 1070v2M977 1076v6M977 1092v6M977 1100v2M979 934v2M979 944v4M979 956v2M979 962v6M979 1002v2M979 1030v2M979 1034v6M979 1042v2M981 924v2M981 928v10M981 952v2M981 962v10M981 974v2M981 992v2M981 1040v6M981 1052v2M981 1060v2M981 1084v2M981 1088v2M983 964v2M983 990v2M983 1012v2M983 1020v2M983 1052v2M983 1056v2M983 1084v6M985 1024v2M985 1048v6M987 930v12M987 1036v18M987 1106v2M987 1112v2M989 934v2M989 1110v2M991 962v6M991 970v2M991 974v2M991 978v2M991 990v2M991 1010v2M991 1014v2M991 1028v10M991 1062v4M991 1068v4M991 1112v2M993 864v2M993 868v2M993 916v2M993 976v8M993 986v2M993 990v2M993 994v2M993 1000v2M993 1028v6M993 1036v4M993 1046v2M993 1072v2M993 1076v2M993 1118v2M995 910v4M995 920v10M995 938v2M995 958v2M995 966v8M995 994v10M995 1024v2M995 1028v2M995 1032v6M995 1074v4M997 916v2M997 944v2M997 948v2M997 954v2M997 996v10M997 1028v2M997 1034v4M997 1076v4M999 920v4M999 930v2M999 936v2M999 940v2M999 948v2M999 998v10M999 1052v2M999 1064v10M999 1078v2M1001 972v2M1001 976v4M1001 1004v2M1001 1008v4M1001 1066v8M1001 1076v2M1003 948v2M1003 1010v16M1003 1028v4M1003 1044v2M1003 1100v4M1003 1114v2M1003 1120v2M1005 976v2M1005 980v4M1005 1012v2M1005 1044v8M1005 1072v2M1007 930v2M1007 986v2M1007 1042v2M1009 932v2M1009 940v4M1009 960v4M1009 1106v2M1013 938v2M1013 1036v2M1015 938v2M1015 1018v2M1015 1022v4M1015 1042v2M1017 934v2M1017 974v2M1017 984v2M1017 992v2M1017 996v8M1017 1006v2M1017 1010v6M1017 1018v12M1017 1034v2M1017 1040v2M1017 1092v2M1019 980v2M1019 984v2M1019 998v2M1019 1004v2M1019 1080v2M1019 1090v2M1021 976v4M1021 982v4M1021 996v4M1021 1004v4M1021 1020v2M1021 1076v4M1021 1082v2M1023 976v2M1023 982v2M1023 1000v2M1023 1050v2M1023 1082v10M1025 1006v2M1027 1000v8M1027 1010v2M1029 950v4M1029 1004v2M1035 1082v4M1035 1088v2M1037 1088v2M1049 1012v2M1051 1002v2M1051 1006v2M1053 1010v2" stroke="#3d5788" stroke-width="2" fill="none" shape-rendering="crispEdges"/>
<path d="M603 1128v2M605 980v2M605 1032v2M605 1042v2M607 978v2M607 986v2M607 1040v2M609 982v2M611 978v2M611 1058v2M611 1064v2M611 1068v2M613 1038v2M613 1064v2M615 960v2M615 996v2M615 1000v2M615 1004v2M615 1042v4M617 1000v10M617 1046v2M619 990v6M619 998v2M619 1002v4M619 1068v2M619 1082v2M619 1120v6M619 1130v2M621 1010v2M621 1074v2M621 1100v2M623 936v2M623 1072v4M623 1080v4M623 1090v2M625 978v2M625 1062v2M625 1066v2M625 1072v2M627 1102v2M629 962v2M629 966v2M629 1010v4M629 1062v2M631 954v6M631 964v2M631 968v4M631 1006v10M631 1104v2M631 1116v2M633 956v2M633 998v4M633 1006v6M633 1102v2M633 1106v6M633 1118v2M635 958v6M635 1008v2M635 1042v2M635 1116v4M637 1092v2M637 1110v2M637 1120v2M641 946v4M641 1070v2M641 1082v2M641 1088v4M643 950v6M643 992v2M643 1006v2M643 1010v4M643 1022v2M643 1026v4M643 1080v6M645 962v2M645 1006v2M645 1010v2M645 1014v2M645 1018v2M645 1024v8M645 1040v2M645 1054v4M645 1060v4M645 1076v4M645 1082v4M647 1006v2M647 1016v2M647 1020v4M647 1030v4M647 1038v6M647 1050v2M647 1056v4M647 1064v2M647 1068v2M647 1072v2M647 1078v2M649 972v2M649 1008v2M649 1012v2M649 1020v4M649 1030v4M649 1036v2M649 1040v2M649 1044v2M649 1048v2M649 1052v2M649 1056v8M649 1066v6M649 1074v2M649 1078v4M649 1112v4M651 974v2M651 1006v10M651 1020v2M651 1038v2M651 1050v4M651 1062v2M651 1070v2M653 906v2M653 940v2M653 946v2M653 1006v2M653 1010v2M653 1044v2M653 1068v4M655 936v2M655 940v8M655 1002v2M655 1012v2M655 1030v2M655 1034v2M655 1042v2M655 1074v2M655 1080v2M655 1106v2M657 892v4M657 900v4M657 938v2M657 956v2M657 962v2M657 968v2M657 990v2M657 998v4M657 1004v4M657 1034v2M657 1040v6M657 1074v2M657 1094v4M657 1104v6M659 898v2M659 904v2M659 914v2M659 940v2M659 946v4M659 962v2M659 966v4M659 992v4M659 1000v2M659 1006v2M659 1010v4M659 1024v6M659 1048v2M659 1096v2M659 1100v2M661 896v6M661 906v8M661 940v4M661 946v4M661 954v2M661 960v4M661 966v6M661 990v10M661 1004v2M661 1008v2M661 1014v2M661 1018v2M661 1026v4M661 1032v2M661 1096v2M661 1104v2M661 1154v2M663 902v2M663 946v6M663 954v2M663 992v2M663 996v2M663 1058v2M663 1068v2M663 1078v2M663 1102v2M663 1108v2M665 888v4M665 976v2M665 1000v6M665 1008v2M665 1048v2M665 1052v2M665 1056v4M665 1076v4M667 932v4M667 940v2M667 970v4M667 992v2M667 996v4M667 1006v2M667 1028v2M667 1050v12M667 1072v4M667 1078v2M669 834v4M669 934v4M669 940v4M669 948v2M669 972v2M669 996v4M669 1038v2M669 1050v4M669 1078v8M669 1092v2M669 1096v2M671 842v2M671 916v2M671 920v4M671 936v6M671 944v2M671 1006v6M671 1028v2M671 1036v4M671 1042v2M671 1054v2M671 1058v2M671 1104v4M671 1124v2M673 878v2M673 928v4M673 938v8M673 950v4M673 956v6M673 998v4M673 1026v16M673 1046v2M673 1050v10M673 1062v2M673 1070v4M673 1094v4M673 1100v2M673 1104v2M673 1130v6M673 1138v2M673 1152v2M673 1158v2M675 874v2M675 880v4M675 890v2M675 900v4M675 944v2M675 990v2M675 994v4M675 1008v8M675 1026v4M675 1044v2M675 1052v4M675 1070v4M675 1086v2M675 1120v4M675 1130v4M675 1136v4M675 1154v4M677 858v2M677 874v2M677 890v2M677 894v8M677 926v2M677 934v2M677 972v2M677 988v2M677 998v8M677 1034v4M677 1042v2M677 1058v4M677 1064v2M677 1072v2M677 1076v6M677 1084v2M677 1092v2M677 1108v2M677 1112v4M677 1118v4M677 1134v2M677 1140v4M677 1150v2M679 888v2M679 892v4M679 906v2M679 924v2M679 928v2M679 934v6M679 964v4M679 992v6M679 1000v2M679 1014v4M679 1024v2M679 1028v2M679 1032v2M679 1036v2M679 1040v4M679 1054v2M679 1058v4M679 1076v4M679 1098v2M679 1102v2M679 1112v8M679 1128v4M679 1148v2M679 1152v4M681 870v2M681 874v2M681 880v6M681 888v2M681 894v4M681 900v2M681 936v4M681 946v2M681 950v2M681 970v6M681 978v8M681 1006v6M681 1026v2M681 1030v2M681 1042v4M681 1054v2M681 1058v4M681 1064v2M681 1068v4M681 1084v8M681 1096v8M681 1106v2M681 1126v2M681 1134v6M681 1142v2M681 1148v6M681 1156v2M683 872v4M683 878v2M683 882v2M683 894v2M683 910v2M683 928v8M683 938v4M683 944v4M683 954v4M683 968v2M683 996v4M683 1060v6M683 1068v6M683 1098v2M683 1106v2M683 1114v4M683 1122v2M683 1134v4M683 1144v2M685 870v2M685 874v2M685 906v4M685 918v4M685 928v10M685 950v4M685 970v2M685 996v2M685 1000v8M685 1012v2M685 1016v2M685 1022v10M685 1040v2M685 1054v2M685 1068v10M685 1080v8M685 1090v6M685 1098v2M685 1126v4M685 1132v6M685 1142v2M685 1146v2M687 894v2M687 898v2M687 928v2M687 932v2M687 936v2M687 958v2M687 966v2M687 978v2M687 1014v16M687 1070v2M687 1074v2M687 1078v8M687 1088v2M687 1092v2M687 1096v2M687 1108v2M687 1112v2M687 1122v8M687 1132v2M687 1136v2M687 1170v2M687 1174v2M689 906v4M689 920v4M689 926v2M689 932v2M689 938v2M689 946v10M689 992v4M689 1002v2M689 1006v12M689 1020v2M689 1024v2M689 1028v2M689 1032v2M689 1044v2M689 1048v2M689 1056v2M689 1060v4M689 1068v2M689 1090v2M689 1126v2M691 904v2M691 910v2M691 914v2M691 924v2M691 930v2M691 940v2M691 944v2M691 956v2M691 974v2M691 986v2M691 990v2M691 1028v4M691 1034v2M691 1038v2M691 1042v2M691 1074v4M691 1080v6M691 1094v2M691 1110v2M691 1166v2M691 1172v2M691 1176v2M693 906v2M693 918v2M693 964v12M693 978v2M693 998v2M693 1006v2M693 1036v2M693 1046v2M693 1056v2M693 1064v2M693 1068v2M693 1088v2M693 1096v2M693 1104v4M693 1112v2M695 872v2M695 876v2M695 914v4M695 920v6M695 928v4M695 948v2M695 974v4M695 986v6M695 994v6M695 1036v2M695 1042v2M695 1048v2M695 1058v2M695 1062v2M695 1068v2M695 1072v2M695 1096v10M695 1112v2M695 1116v2M695 1154v2M697 862v2M697 894v2M697 906v2M697 912v6M697 920v4M697 926v2M697 930v2M697 936v2M697 976v10M697 996v2M697 1006v2M697 1030v4M697 1048v2M697 1052v2M697 1076v2M697 1084v4M697 1090v2M697 1098v4M697 1106v2M697 1110v4M697 1122v6M697 1134v2M697 1142v4M697 1148v2M699 862v2M699 884v2M699 894v6M699 918v4M699 924v2M699 942v6M699 950v2M699 956v6M699 968v2M699 974v18M699 996v2M699 1012v6M699 1032v2M699 1052v4M699 1058v2M699 1062v2M699 1068v2M699 1072v2M699 1102v4M699 1108v2M699 1112v2M699 1118v2M701 886v2M701 896v2M701 900v2M701 910v2M701 916v2M701 924v2M701 936v2M701 990v6M701 998v4M701 1076v2M701 1080v6M701 1088v4M701 1096v4M701 1110v8M701 1120v4M701 1126v2M701 1130v2M701 1138v6M701 1164v2M701 1170v2M701 1174v2M703 884v2M703 894v2M703 962v8M703 972v2M703 976v6M703 996v2M703 1004v2M703 1012v2M703 1038v2M703 1054v4M703 1074v4M703 1088v2M703 1092v4M703 1100v2M703 1104v4M703 1110v4M703 1126v2M703 1130v2M703 1134v4M703 1158v4M703 1182v2M705 852v2M705 860v2M705 864v4M705 882v2M705 886v2M705 896v4M705 928v2M705 934v4M705 940v2M705 974v10M705 986v2M705 1024v6M705 1040v2M705 1056v8M705 1080v2M705 1086v4M705 1092v2M705 1128v2M705 1132v8M705 1144v2M705 1188v2M707 846v2M707 870v6M707 916v2M707 958v2M707 974v2M707 978v4M707 984v2M707 1036v6M707 1092v4M707 1112v2M707 1118v10M707 1130v8M707 1140v2M707 1160v4M707 1184v4M709 868v2M709 932v10M709 956v4M709 970v4M709 1010v2M709 1014v4M709 1078v2M709 1084v8M709 1094v14M709 1120v4M709 1128v2M709 1156v2M709 1160v4M711 856v4M711 890v2M711 900v6M711 912v2M711 922v2M711 932v4M711 938v4M711 946v2M711 950v2M711 954v2M711 1020v8M711 1104v4M711 1110v2M711 1114v6M711 1122v2M711 1128v2M711 1134v2M711 1140v8M711 1156v2M711 1162v2M713 858v4M713 900v2M713 932v4M713 970v4M713 976v10M713 1024v8M713 1038v2M713 1044v4M713 1050v2M713 1086v4M713 1092v8M713 1110v2M713 1114v6M713 1148v2M713 1152v2M713 1160v2M715 852v4M715 862v2M715 888v2M715 898v6M715 922v6M715 940v6M715 948v2M715 952v4M715 972v6M715 982v6M715 990v2M715 998v6M715 1024v2M715 1030v6M715 1040v2M715 1076v6M715 1136v2M715 1140v14M715 1174v2M717 844v2M717 858v6M717 898v2M717 928v2M717 940v4M717 948v2M717 954v2M717 986v4M717 992v6M717 1008v2M717 1056v2M717 1060v2M717 1076v6M717 1086v2M717 1106v4M717 1116v2M717 1120v6M717 1130v10M717 1146v2M717 1150v10M717 1162v2M717 1174v2M719 834v2M719 840v4M719 858v10M719 870v2M719 874v6M719 900v6M719 908v4M719 918v2M719 922v2M719 930v2M719 936v4M719 1090v2M719 1114v4M719 1120v2M719 1124v2M719 1138v4M719 1146v2M719 1160v4M719 1166v2M721 822v2M721 862v12M721 888v4M721 918v8M721 932v2M721 942v4M721 968v2M721 972v2M721 1008v2M721 1012v2M721 1016v2M721 1062v4M721 1068v4M721 1074v2M721 1078v10M721 1094v8M721 1112v4M721 1118v14M721 1134v8M721 1146v6M721 1154v2M721 1180v2M721 1186v2M723 852v4M723 858v12M723 892v2M723 898v2M723 920v6M723 932v2M723 942v2M723 946v2M723 964v2M723 972v2M723 992v2M723 1050v2M723 1054v4M723 1060v8M723 1078v6M723 1088v2M723 1092v2M723 1098v2M723 1102v4M723 1120v10M723 1132v4M723 1142v4M723 1150v2M723 1154v4M723 1192v2M725 856v2M725 864v2M725 882v2M725 940v6M725 950v4M725 962v2M725 988v2M725 992v6M725 1000v14M725 1016v2M725 1032v2M725 1082v6M725 1090v2M725 1114v2M725 1118v2M725 1130v4M725 1152v2M725 1164v6M727 942v8M727 952v6M727 980v8M727 990v2M727 996v2M727 1002v6M727 1014v4M727 1052v10M727 1116v2M727 1164v2M727 1174v2M729 914v2M729 918v4M729 924v2M729 928v4M729 936v6M729 978v2M729 1024v2M729 1032v2M729 1098v2M729 1108v2M729 1112v8M729 1128v2M729 1162v2M729 1170v2M731 828v2M731 918v2M731 922v2M731 940v14M731 974v2M731 1056v2M731 1076v6M731 1086v2M731 1104v2M731 1108v2M731 1124v4M731 1186v2M733 872v4M733 966v2M733 972v4M733 980v2M733 988v2M733 992v2M733 1002v6M733 1050v2M733 1074v2M733 1092v2M733 1118v4M733 1124v4M733 1160v2M733 1168v2M733 1172v4M735 826v2M735 864v14M735 880v2M735 888v2M735 924v2M735 928v6M735 958v2M735 986v2M735 1032v2M735 1036v2M735 1062v4M735 1068v2M735 1072v2M735 1078v2M735 1106v2M735 1168v4M735 1178v6M735 1194v2M737 882v4M737 926v2M737 930v2M737 950v10M737 1022v2M737 1066v8M737 1096v2M737 1100v2M737 1124v4M737 1130v2M737 1186v2M739 872v4M739 900v12M739 914v4M739 922v2M739 1012v10M739 1098v2M739 1102v6M739 1110v2M739 1122v4M739 1128v2M739 1132v8M739 1142v6M739 1150v10M739 1178v2M739 1198v2M741 882v6M741 912v2M741 916v2M741 926v4M741 938v2M741 1002v2M741 1036v4M741 1082v4M741 1092v2M741 1096v6M741 1104v4M741 1110v2M741 1114v2M741 1120v2M741 1124v2M741 1128v2M741 1142v6M741 1150v8M743 910v2M743 914v2M743 918v2M743 922v4M743 932v2M743 938v2M743 948v6M743 962v4M743 1010v6M743 1026v2M743 1046v2M743 1082v12M743 1110v2M743 1114v14M743 1132v2M743 1136v8M745 862v2M745 872v2M745 878v2M745 884v2M745 888v2M745 892v2M745 896v2M745 902v2M745 908v2M745 952v2M745 978v2M745 984v4M745 1058v2M745 1062v2M745 1124v4M745 1130v4M745 1136v4M745 1144v2M745 1188v2M745 1192v2M747 850v2M747 868v2M747 878v2M747 882v2M747 890v2M747 902v2M747 906v8M747 916v2M747 1048v2M747 1052v2M747 1104v2M747 1112v2M747 1116v2M747 1122v2M747 1132v2M747 1146v4M747 1152v2M747 1156v2M749 866v10M749 884v16M749 914v2M749 920v4M749 926v2M749 936v4M749 942v2M749 960v2M749 974v2M749 982v2M749 986v4M749 1086v2M749 1136v2M749 1142v4M749 1160v2M749 1168v2M749 1180v2M749 1184v4M751 878v2M751 882v4M751 896v2M751 904v4M751 914v4M751 926v2M751 930v2M751 936v6M751 944v4M751 950v2M751 992v2M751 1036v4M751 1044v2M751 1064v4M751 1070v4M751 1118v4M751 1134v2M751 1170v4M751 1176v2M751 1184v6M753 814v2M753 826v2M753 862v4M753 870v6M753 880v2M753 884v10M753 896v2M753 922v2M753 926v2M753 940v2M753 944v6M753 1020v2M753 1066v2M753 1104v12M753 1118v2M753 1122v4M753 1138v2M753 1142v2M753 1166v10M753 1186v2M755 820v4M755 826v2M755 848v2M755 852v2M755 856v2M755 860v2M755 874v2M755 882v4M755 910v6M755 944v2M755 948v2M755 954v2M755 968v2M755 1010v2M755 1014v2M755 1052v2M755 1058v6M755 1106v10M755 1120v4M755 1138v4M755 1148v4M755 1154v2M755 1158v2M755 1170v8M757 810v2M757 814v6M757 828v2M757 840v4M757 862v2M757 872v4M757 958v6M757 968v2M757 1006v2M757 1130v2M757 1134v6M757 1142v4M757 1160v2M757 1174v2M759 816v14M759 838v2M759 854v2M759 874v2M759 922v4M759 928v4M759 950v2M759 954v6M759 1064v2M759 1070v2M759 1102v2M759 1110v2M759 1114v2M759 1118v2M759 1168v6M761 818v4M761 826v8M761 838v2M761 842v4M761 864v2M761 874v2M761 880v4M761 978v2M761 1008v2M761 1120v2M761 1128v6M761 1138v8M761 1150v4M761 1156v2M763 828v2M763 834v2M763 866v4M763 872v4M763 878v2M763 890v4M763 896v4M763 978v4M763 1012v6M763 1074v8M763 1110v4M763 1136v8M763 1146v2M763 1150v2M763 1154v6M763 1164v2M765 872v4M765 878v6M765 890v4M765 902v2M765 924v6M765 1116v2M765 1124v2M765 1130v2M765 1134v6M765 1144v2M767 840v4M767 850v2M767 868v4M767 914v2M767 944v2M767 1030v2M767 1122v26M767 1152v4M767 1162v2M767 1174v2M769 822v2M769 826v2M769 842v2M769 868v8M769 900v2M769 906v10M769 1012v2M769 1092v12M769 1106v2M769 1136v8M769 1156v8M769 1172v2M769 1180v2M771 822v2M771 826v2M771 830v2M771 840v4M771 856v2M771 862v2M771 866v4M771 884v6M771 920v6M771 942v2M771 948v6M771 972v2M771 976v4M771 992v2M771 996v2M771 1012v6M771 1130v10M771 1142v6M771 1154v2M771 1158v4M771 1164v2M771 1168v6M773 834v2M773 840v2M773 844v2M773 866v2M773 870v2M773 902v8M773 916v2M773 920v2M773 924v4M773 930v6M773 938v2M773 1000v4M773 1098v2M773 1104v4M773 1118v2M773 1122v4M773 1154v2M773 1172v2M773 1176v2M775 830v2M775 836v2M775 842v2M775 862v4M775 874v2M775 878v2M775 894v4M775 900v2M775 1028v2M775 1036v2M775 1040v2M775 1050v2M775 1092v2M775 1100v2M775 1116v6M775 1158v2M775 1172v2M775 1194v2M775 1198v2M777 826v2M777 832v6M777 858v4M777 872v4M777 892v4M777 906v2M777 952v4M777 958v6M777 966v2M777 1078v4M777 1086v10M777 1098v2M777 1110v6M777 1136v2M777 1140v2M777 1146v6M777 1154v2M777 1160v4M777 1168v2M777 1172v2M777 1180v2M777 1186v6M777 1196v2M779 830v8M779 842v2M779 852v2M779 858v2M779 862v4M779 874v2M779 880v2M779 888v2M779 892v4M779 898v4M779 914v2M779 918v6M779 926v4M779 932v4M779 940v6M779 948v2M779 1092v2M779 1096v6M779 1120v2M779 1124v10M779 1136v2M779 1148v4M779 1166v2M779 1180v2M781 828v6M781 842v2M781 848v2M781 852v2M781 876v4M781 882v6M781 898v2M781 906v2M781 918v2M781 932v8M781 942v2M781 946v6M781 954v2M781 1018v2M781 1022v2M781 1104v2M781 1114v4M781 1164v2M781 1172v4M781 1202v2M783 834v6M783 852v2M783 856v4M783 866v4M783 872v4M783 880v22M783 926v2M783 930v2M783 1104v6M783 1122v2M783 1128v4M783 1160v6M783 1168v2M783 1172v6M785 808v4M785 844v2M785 874v4M785 880v4M785 886v2M785 892v16M785 910v4M785 1022v2M785 1118v6M785 1160v6M787 806v2M787 824v2M787 830v10M787 844v14M787 860v2M787 874v10M787 892v4M787 934v4M787 958v2M787 962v2M787 1072v2M787 1100v6M787 1108v4M787 1114v14M787 1130v22M787 1154v2M787 1162v2M787 1166v6M787 1174v6M789 836v4M789 904v2M789 990v4M789 1014v2M789 1094v6M789 1102v2M789 1108v4M789 1138v2M789 1142v4M789 1160v6M789 1168v2M789 1176v2M789 1180v4M789 1186v4M791 858v4M791 866v4M791 882v2M791 888v2M791 1016v2M791 1034v2M791 1042v6M791 1118v2M791 1170v6M791 1182v2M793 852v4M793 870v2M793 876v12M793 908v2M793 916v14M793 938v4M793 1054v2M793 1088v4M793 1128v2M793 1134v6M795 854v2M795 864v2M795 870v4M795 876v2M795 886v2M795 892v2M795 906v6M795 920v16M795 1116v2M795 1120v2M795 1136v2M795 1140v2M795 1144v2M795 1166v2M795 1172v2M797 874v2M797 912v18M797 988v2M797 994v2M797 1094v2M797 1128v2M797 1142v2M797 1150v4M797 1160v2M797 1172v2M799 826v2M799 862v4M799 868v2M799 872v2M799 886v2M799 890v2M799 896v2M799 904v4M799 918v2M799 952v6M799 1062v4M799 1096v8M799 1106v8M799 1118v2M799 1122v2M799 1142v2M799 1146v4M799 1168v2M801 824v8M801 860v2M801 864v2M801 872v2M801 906v2M801 912v2M801 920v2M801 924v6M801 946v2M801 968v2M801 972v8M801 1096v2M801 1132v2M801 1150v4M801 1156v2M801 1160v2M801 1164v6M803 828v2M803 860v4M803 872v2M803 876v6M803 884v2M803 912v2M803 962v4M803 1032v2M803 1112v4M803 1118v2M803 1124v4M803 1154v2M803 1158v10M805 828v4M805 840v2M805 866v2M805 908v2M805 926v2M805 948v2M805 1010v2M805 1034v2M805 1040v2M805 1082v2M805 1086v2M805 1154v2M805 1166v2M807 826v4M807 832v2M807 862v2M807 884v2M807 888v2M807 892v2M807 948v2M807 952v2M807 956v4M807 962v8M807 972v4M807 978v2M807 1088v4M807 1096v2M807 1100v6M807 1108v2M807 1114v6M807 1138v4M809 846v6M809 854v6M809 862v12M809 876v2M809 882v6M809 890v4M809 896v4M809 904v6M809 932v4M809 1052v2M809 1088v2M809 1100v8M809 1116v2M809 1122v2M809 1138v2M811 828v6M811 848v4M811 862v2M811 868v6M811 880v2M811 904v2M811 908v2M811 912v2M811 932v2M811 936v8M811 968v2M811 972v4M811 992v2M811 1094v4M811 1100v2M811 1116v2M811 1120v4M811 1130v2M813 896v2M813 902v2M813 906v2M813 910v4M813 916v2M813 930v2M813 940v2M813 944v2M813 966v4M813 1000v2M813 1052v2M813 1056v2M813 1064v2M813 1080v4M813 1086v8M813 1146v4M813 1154v2M815 836v2M815 866v2M815 870v6M815 878v4M815 908v4M815 960v2M815 980v2M815 984v2M815 1084v4M815 1090v8M815 1138v4M815 1144v2M815 1154v6M815 1162v2M817 832v4M817 838v2M817 862v2M817 866v4M817 872v2M817 880v2M817 884v6M817 894v4M817 910v4M817 1118v8M817 1142v2M819 840v4M819 846v6M819 862v2M819 886v2M819 890v2M819 896v2M819 1048v2M819 1062v6M819 1094v2M819 1100v4M819 1110v2M819 1114v4M819 1120v10M819 1136v10M819 1162v2M821 828v10M821 862v2M821 866v6M821 892v2M821 904v4M821 910v2M821 1046v2M821 1054v2M821 1074v4M821 1080v2M821 1096v10M821 1108v2M821 1112v4M821 1128v2M821 1132v2M821 1140v2M823 830v4M823 844v4M823 858v8M823 868v8M823 878v4M823 918v4M823 924v2M823 936v6M823 1042v4M823 1050v2M823 1134v4M823 1162v2M825 826v4M825 836v2M825 840v2M825 844v2M825 850v8M825 860v2M825 882v16M825 900v2M825 904v2M825 910v4M825 920v2M825 1088v4M827 822v6M827 830v2M827 836v6M827 846v4M827 852v2M827 856v4M827 870v8M827 880v4M827 886v4M827 892v4M827 902v2M827 908v2M827 920v4M827 930v6M827 952v8M827 1042v2M827 1060v8M827 1098v6M827 1106v2M827 1116v2M827 1128v12M827 1142v2M827 1154v2M829 832v12M829 846v2M829 850v2M829 854v2M829 860v2M829 876v4M829 882v4M829 888v4M829 946v8M829 956v4M829 1012v4M829 1044v2M829 1068v2M829 1072v4M829 1096v2M829 1100v2M829 1150v6M829 1160v2M829 1166v2M829 1172v2M829 1184v2M829 1192v2M829 1196v2M831 836v2M831 842v8M831 856v2M831 860v2M831 868v2M831 872v2M831 904v2M831 918v2M831 948v2M831 978v2M831 1082v6M831 1140v4M831 1172v2M831 1196v4M833 878v4M833 884v4M833 904v4M833 910v10M833 1082v2M833 1086v2M833 1138v8M833 1172v2M833 1180v2M835 858v4M835 866v2M835 890v2M835 906v2M835 912v4M835 920v6M835 944v4M835 950v2M835 956v2M835 1046v2M835 1122v2M835 1128v12M835 1144v2M835 1154v2M835 1158v2M835 1162v2M835 1166v2M835 1184v2M837 852v2M837 856v2M837 860v8M837 872v2M837 884v2M837 888v2M837 898v2M837 944v2M837 958v2M837 982v2M837 1044v4M837 1050v2M837 1060v2M837 1080v2M837 1118v2M837 1122v4M837 1152v2M837 1156v10M837 1182v2M837 1190v2M837 1196v2M839 800v2M839 804v2M839 846v6M839 854v2M839 864v2M839 868v4M839 938v4M839 986v2M839 990v8M839 1012v2M839 1112v2M839 1116v2M839 1126v2M839 1132v2M839 1160v4M839 1166v2M839 1192v2M841 824v4M841 844v2M841 848v4M841 854v4M841 860v2M841 864v2M841 898v4M841 904v2M841 936v8M841 1074v6M841 1138v2M841 1142v8M841 1152v2M841 1156v2M841 1160v6M841 1168v4M841 1178v2M841 1182v4M841 1190v2M843 842v2M843 850v2M843 854v2M843 864v2M843 870v10M843 894v2M843 912v4M843 930v2M843 934v6M843 1022v2M843 1034v8M843 1044v4M843 1104v2M843 1128v2M843 1134v2M843 1152v4M843 1166v2M843 1178v2M843 1182v4M843 1188v2M843 1192v2M845 846v2M845 850v6M845 864v2M845 868v2M845 872v6M845 888v2M845 894v2M845 942v2M845 984v4M845 990v2M845 1144v10M845 1164v2M847 818v2M847 862v2M847 890v6M847 916v2M847 992v2M847 1002v2M847 1080v2M847 1084v2M847 1092v4M847 1102v2M847 1120v2M847 1128v2M847 1160v2M847 1168v4M849 866v8M849 876v4M849 882v4M849 888v2M849 896v2M849 932v2M849 936v6M849 946v2M849 986v2M849 992v4M849 1000v2M849 1072v2M849 1076v4M849 1088v2M849 1116v2M849 1124v10M849 1138v10M849 1150v6M849 1182v2M849 1220v2M851 824v2M851 828v2M851 872v4M851 878v4M851 934v2M851 942v6M851 964v2M851 970v2M851 1050v12M851 1072v2M851 1086v2M851 1098v6M851 1120v4M851 1154v8M851 1166v2M851 1218v6M853 826v2M853 882v6M853 892v2M853 896v4M853 902v2M853 906v2M853 1042v2M853 1048v4M853 1054v4M853 1070v2M853 1112v4M853 1118v4M853 1124v2M853 1128v6M853 1136v4M853 1148v2M853 1152v2M853 1158v4M853 1176v2M855 828v4M855 902v2M855 938v2M855 990v8M855 1096v12M855 1110v2M855 1124v2M855 1128v2M855 1132v2M855 1156v2M855 1160v2M855 1176v2M855 1180v6M855 1190v2M855 1194v2M855 1198v2M855 1218v2M855 1222v2M857 832v2M857 836v4M857 842v2M857 880v6M857 970v2M857 974v2M857 1028v6M857 1062v4M857 1068v2M857 1090v8M857 1116v4M857 1124v2M857 1128v2M857 1132v2M857 1180v2M857 1188v2M859 892v4M859 900v4M859 938v2M859 946v2M859 954v2M859 960v10M859 974v2M859 1006v6M859 1038v2M859 1042v12M859 1066v2M859 1082v2M859 1094v2M859 1098v2M859 1102v2M859 1110v8M861 822v2M861 886v6M861 894v8M861 904v4M861 910v2M861 914v2M861 922v2M861 1054v2M861 1080v8M861 1096v2M861 1114v2M861 1124v8M861 1136v4M863 818v2M863 862v4M863 870v2M863 884v4M863 918v2M863 1038v2M863 1042v6M863 1050v8M863 1060v12M863 1090v2M863 1098v4M863 1114v4M863 1120v10M863 1134v6M863 1142v4M863 1150v2M865 818v2M865 824v2M865 860v2M865 864v6M865 892v10M865 904v4M865 960v2M865 968v2M865 996v4M865 1002v2M865 1006v4M865 1026v2M865 1034v2M865 1094v2M865 1100v2M865 1106v8M865 1116v6M865 1144v2M865 1148v4M865 1156v2M865 1198v2M867 822v2M867 856v2M867 862v2M867 866v2M867 870v6M867 878v2M867 914v4M867 924v4M867 930v4M867 936v2M867 940v4M867 946v2M867 1020v2M867 1028v2M867 1096v2M867 1108v2M867 1116v2M867 1120v4M867 1126v10M867 1150v4M869 852v2M869 872v6M869 880v8M869 894v4M869 934v2M869 948v10M869 960v4M869 980v8M869 990v2M869 1072v2M869 1110v4M869 1116v2M869 1124v4M869 1132v2M869 1136v4M869 1146v2M869 1150v4M869 1172v10M869 1194v2M869 1202v2M871 814v2M871 872v2M871 876v2M871 880v2M871 884v2M871 916v6M871 924v2M871 934v4M871 982v4M871 992v2M871 998v2M871 1064v2M871 1112v4M871 1118v12M871 1132v4M871 1148v2M871 1152v4M871 1172v2M871 1178v8M871 1194v2M871 1206v2M873 860v2M873 878v4M873 888v6M873 896v4M873 902v2M873 906v14M873 924v2M873 956v6M873 966v4M873 972v2M873 976v6M873 992v2M873 1002v2M873 1014v2M873 1018v2M873 1062v4M873 1074v4M873 1116v4M873 1122v6M873 1154v2M873 1176v2M873 1200v2M875 884v2M875 888v6M875 898v2M875 902v6M875 914v2M875 944v6M875 952v8M875 1016v2M875 1020v2M875 1026v2M875 1060v4M875 1066v2M875 1112v2M875 1138v2M875 1146v2M875 1166v14M875 1182v4M875 1188v4M877 838v2M877 882v6M877 890v2M877 896v4M877 904v2M877 910v2M877 918v2M877 922v6M877 934v4M877 962v2M877 992v8M877 1034v6M877 1046v2M877 1056v2M877 1142v2M877 1174v2M877 1180v2M877 1186v2M877 1190v2M879 836v2M879 840v2M879 878v2M879 884v2M879 888v2M879 892v2M879 898v4M879 920v2M879 928v2M879 936v4M879 942v6M879 950v2M879 956v4M879 988v4M879 994v4M879 1056v4M879 1064v8M879 1076v2M879 1080v2M879 1086v4M879 1092v2M879 1150v2M879 1188v2M879 1194v4M881 840v4M881 862v4M881 878v4M881 894v4M881 900v4M881 908v2M881 914v6M881 956v2M881 962v6M881 1090v2M881 1094v2M881 1098v2M881 1128v4M883 842v2M883 858v4M883 864v2M883 868v2M883 876v12M883 890v2M883 894v2M883 898v4M883 920v6M883 940v2M883 944v6M883 1042v2M883 1050v2M883 1078v2M883 1082v4M883 1088v4M883 1096v2M883 1106v4M883 1120v4M883 1130v2M883 1152v2M885 838v4M885 850v2M885 856v4M885 876v2M885 884v2M885 908v2M885 912v2M885 916v4M885 934v8M885 1006v2M885 1048v2M885 1052v4M885 1066v2M885 1084v4M885 1090v6M885 1110v6M885 1118v2M885 1122v4M885 1148v4M885 1154v6M885 1166v2M885 1174v2M887 840v4M887 856v4M887 868v2M887 872v2M887 884v2M887 910v2M887 914v4M887 958v2M887 962v8M887 974v2M887 1006v2M887 1106v2M887 1110v2M887 1128v2M887 1132v2M887 1164v2M889 840v6M889 848v6M889 860v2M889 878v4M889 902v2M889 910v2M889 926v14M889 992v4M889 1004v2M889 1010v2M889 1042v2M889 1048v2M889 1064v2M889 1072v2M889 1076v2M889 1080v4M889 1094v4M889 1104v4M889 1110v2M889 1130v2M889 1144v2M889 1148v4M889 1172v4M889 1180v2M891 832v2M891 844v2M891 872v2M891 894v6M891 902v2M891 914v2M891 918v2M891 926v2M891 938v2M891 942v12M891 968v4M891 976v6M891 1006v2M891 1012v2M891 1018v2M891 1022v6M891 1062v6M891 1074v2M891 1084v10M891 1096v4M891 1106v2M891 1110v2M891 1114v4M891 1124v2M891 1134v2M891 1154v2M891 1168v2M891 1172v2M893 850v4M893 856v2M893 862v6M893 870v6M893 892v2M893 900v6M893 914v4M893 936v8M893 964v10M893 976v2M893 982v2M893 1002v2M893 1006v6M893 1042v2M893 1088v2M893 1118v2M893 1142v2M893 1160v2M893 1172v4M895 890v2M895 894v4M895 902v2M895 914v2M895 918v2M895 922v2M895 930v2M895 936v2M895 944v2M895 966v2M895 970v2M895 998v2M895 1004v8M895 1068v2M895 1086v2M895 1090v4M895 1102v6M895 1110v2M895 1116v4M895 1130v2M895 1152v2M895 1174v2M895 1178v2M897 852v4M897 858v2M897 902v2M897 920v10M897 940v2M897 954v6M897 1020v2M897 1026v2M897 1032v4M897 1054v2M897 1072v2M897 1112v4M897 1128v2M897 1132v2M897 1152v2M897 1156v6M899 872v2M899 878v2M899 890v2M899 910v2M899 914v4M899 946v4M899 1044v4M899 1050v8M899 1080v2M899 1088v2M899 1114v12M899 1128v4M899 1152v2M901 792v2M901 852v8M901 862v4M901 868v4M901 874v2M901 884v2M901 900v2M901 988v2M901 998v2M901 1054v2M901 1068v2M901 1076v6M901 1084v2M901 1106v6M901 1114v2M901 1118v2M901 1122v2M901 1136v4M901 1158v2M903 872v20M903 908v2M903 918v4M903 990v2M903 1020v8M903 1042v4M903 1070v2M903 1094v10M903 1106v2M903 1110v2M903 1148v4M903 1154v2M903 1160v2M903 1166v2M903 1192v2M903 1198v2M905 842v2M905 846v2M905 894v2M905 900v2M905 934v4M905 940v6M905 952v10M905 964v4M905 974v2M905 1010v8M905 1038v4M905 1088v2M905 1098v4M905 1128v2M905 1136v4M905 1158v4M905 1166v2M905 1200v2M907 886v4M907 908v10M907 924v2M907 928v4M907 1026v4M907 1048v2M907 1056v2M907 1076v2M907 1106v10M907 1118v4M907 1156v4M909 882v4M909 888v2M909 900v4M909 910v2M909 936v2M909 940v2M909 948v8M909 964v4M909 980v2M909 1022v2M909 1026v4M909 1060v2M909 1088v10M909 1100v2M909 1112v8M909 1124v4M909 1152v2M909 1162v2M911 826v2M911 888v2M911 894v4M911 912v2M911 916v2M911 936v8M911 946v2M911 952v4M911 966v2M911 972v2M911 976v4M911 982v2M911 986v12M911 1004v2M911 1034v2M911 1042v4M911 1058v2M911 1082v2M911 1088v18M911 1108v4M911 1114v2M911 1122v6M911 1130v2M911 1142v2M913 830v2M913 892v2M913 896v4M913 910v2M913 920v2M913 924v12M913 1000v2M913 1010v2M913 1016v4M913 1022v2M913 1040v4M913 1050v2M913 1082v2M913 1090v4M913 1096v2M913 1100v4M913 1106v4M913 1112v2M913 1118v2M913 1122v2M913 1128v2M913 1148v6M913 1158v2M915 882v2M915 888v8M915 922v4M915 950v2M915 954v4M915 960v2M915 990v2M915 994v4M915 1000v2M915 1034v8M915 1044v2M915 1048v2M915 1056v2M915 1068v2M915 1072v4M915 1078v4M915 1084v10M915 1108v2M915 1122v6M915 1134v2M915 1144v2M917 832v4M917 940v2M917 962v2M917 1016v4M917 1024v2M917 1078v4M917 1088v2M917 1110v2M917 1158v2M919 886v2M919 892v4M919 898v2M919 930v2M919 938v2M919 960v4M919 968v4M919 974v2M919 994v2M919 1032v2M919 1050v2M919 1054v4M919 1060v12M919 1078v4M919 1098v10M919 1144v2M921 888v4M921 898v8M921 908v10M921 926v2M921 942v2M921 948v2M921 976v4M921 982v2M921 986v2M921 990v2M921 1024v2M921 1028v2M921 1034v2M921 1038v2M921 1044v6M921 1094v8M921 1106v6M921 1166v2M923 896v2M923 900v2M923 908v2M923 912v6M923 936v4M923 942v2M923 946v2M923 950v4M923 956v4M923 962v4M923 990v4M923 1020v10M923 1064v2M923 1068v2M923 1072v2M923 1078v10M923 1098v6M923 1112v6M923 1128v2M923 1140v4M923 1146v2M923 1158v2M925 892v4M925 916v2M925 932v6M925 948v4M925 956v6M925 1048v10M925 1070v6M925 1084v14M925 1100v6M925 1112v2M925 1164v4M927 918v2M927 930v6M927 944v2M927 948v2M927 970v2M927 974v2M927 978v2M927 1002v4M927 1036v2M927 1040v6M927 1088v6M927 1098v2M929 944v8M929 962v4M929 970v2M929 974v2M929 982v2M929 988v4M929 996v2M929 1000v4M929 1040v8M929 1056v2M929 1062v2M929 1066v8M929 1076v2M929 1086v2M929 1094v6M929 1112v2M929 1116v2M931 880v4M931 886v2M931 910v2M931 918v2M931 924v2M931 962v2M931 966v2M931 1010v2M931 1016v4M931 1128v4M931 1144v6M931 1162v2M931 1168v2M933 866v2M933 870v4M933 876v4M933 896v2M933 900v12M933 918v6M933 936v2M933 944v2M933 962v6M933 972v2M933 978v2M933 982v2M933 994v2M933 998v2M933 1002v8M933 1014v6M933 1022v2M933 1030v2M933 1036v2M933 1058v12M933 1072v2M933 1108v4M933 1116v2M933 1132v4M933 1140v4M933 1146v4M935 872v16M935 894v6M935 912v2M935 934v2M935 948v4M935 986v2M935 994v2M935 998v4M935 1004v6M935 1056v2M935 1060v4M935 1066v4M935 1108v4M935 1132v2M935 1136v2M935 1140v4M935 1146v4M937 862v6M937 870v2M937 874v10M937 902v2M937 928v4M937 952v2M937 960v2M937 966v2M937 970v8M937 1004v2M937 1010v2M937 1014v4M937 1032v8M937 1042v2M937 1104v10M937 1140v2M939 876v6M939 884v2M939 888v2M939 892v4M939 898v6M939 910v2M939 922v2M939 932v2M939 938v4M939 944v8M939 954v2M939 960v2M939 970v4M939 986v8M939 1000v2M939 1016v2M939 1044v2M939 1048v2M939 1054v4M939 1060v4M939 1066v4M939 1112v2M939 1146v2M941 896v4M941 902v2M941 906v2M941 910v2M941 916v2M941 920v4M941 928v2M941 932v6M941 940v4M941 948v2M941 962v2M941 968v2M941 978v4M941 986v2M941 1020v2M941 1030v4M941 1036v2M941 1044v16M941 1062v2M941 1068v2M941 1074v4M941 1080v2M941 1094v2M941 1098v4M941 1106v2M941 1154v2M943 890v2M943 906v2M943 912v2M943 924v4M943 930v2M943 958v4M943 968v2M943 976v2M943 986v2M943 992v2M943 1012v4M943 1022v2M943 1028v2M943 1032v10M943 1054v4M943 1060v2M943 1064v2M943 1068v2M943 1100v2M943 1140v2M943 1150v2M943 1160v2M945 912v2M945 922v2M945 928v4M945 934v2M945 938v2M945 942v2M945 946v2M945 950v6M945 962v2M945 968v2M945 1002v6M945 1016v2M945 1026v8M945 1066v4M945 1082v6M945 1124v2M945 1136v2M945 1140v2M945 1144v2M945 1160v2M947 886v2M947 890v2M947 894v2M947 908v4M947 916v2M947 920v2M947 926v4M947 932v4M947 952v4M947 980v2M947 994v2M947 1002v4M947 1008v8M947 1046v4M947 1068v4M947 1086v4M947 1100v2M949 868v2M949 874v4M949 906v2M949 914v2M949 922v2M949 936v4M949 942v4M949 948v4M949 962v2M949 970v2M949 978v2M949 984v2M949 1022v4M949 1038v2M949 1048v2M949 1058v2M949 1068v4M949 1150v2M951 866v4M951 874v2M951 878v4M951 884v2M951 890v2M951 904v2M951 920v2M951 924v2M951 928v2M951 938v6M951 948v2M951 952v6M951 960v2M951 964v10M951 976v2M951 982v4M951 988v6M951 996v4M951 1014v4M951 1030v2M951 1072v2M951 1076v6M951 1086v2M951 1100v2M951 1108v2M951 1136v12M953 874v2M953 924v6M953 934v6M953 990v2M953 994v2M953 1010v2M953 1014v2M953 1042v2M953 1046v4M953 1070v2M953 1082v2M953 1102v4M953 1108v2M953 1132v2M953 1136v10M955 930v2M955 978v4M955 988v2M955 1002v2M955 1044v2M955 1048v4M955 1072v2M955 1076v4M955 1082v2M955 1100v4M955 1112v2M957 930v4M957 936v2M957 954v2M957 958v4M957 966v2M957 972v4M957 984v4M957 1000v8M957 1016v2M957 1032v2M957 1048v4M957 1066v2M957 1070v6M957 1078v2M957 1098v8M957 1108v2M957 1112v2M957 1134v2M959 896v2M959 930v6M959 938v2M959 956v2M959 972v2M959 978v2M959 1004v2M959 1010v2M959 1016v2M959 1030v16M959 1052v2M959 1056v10M959 1076v2M959 1094v2M961 810v2M961 882v2M961 902v2M961 906v2M961 926v6M961 958v2M961 962v2M961 966v4M961 984v2M961 988v2M961 992v2M961 996v6M961 1036v2M961 1040v12M961 1054v4M961 1060v2M961 1064v2M961 1076v2M961 1102v2M963 930v2M963 934v4M963 940v2M963 956v2M963 978v8M963 996v8M963 1042v2M963 1048v2M963 1060v4M963 1066v10M963 1080v2M963 1108v2M963 1112v4M963 1158v2M965 886v2M965 892v2M965 910v2M965 914v6M965 922v2M965 938v4M965 950v6M965 962v6M965 982v4M965 994v2M965 1024v12M965 1044v2M965 1048v2M965 1056v2M965 1072v2M965 1098v2M965 1104v14M965 1136v4M967 886v2M967 892v2M967 896v2M967 926v2M967 940v8M967 958v4M967 976v2M967 988v4M967 1022v4M967 1036v2M967 1042v2M967 1046v2M967 1054v2M967 1058v2M967 1062v8M967 1072v2M967 1080v2M967 1084v6M967 1092v2M967 1098v2M967 1106v6M967 1114v4M969 934v2M969 948v6M969 960v2M969 970v2M969 978v2M969 982v6M969 990v4M969 1014v2M969 1020v2M969 1024v4M969 1044v2M969 1048v4M969 1062v2M969 1068v2M969 1074v8M969 1094v2M969 1100v2M971 884v2M971 888v2M971 916v2M971 946v2M971 952v6M971 960v4M971 966v4M971 982v4M971 988v2M971 996v2M971 1004v2M971 1008v2M971 1036v2M971 1062v4M971 1080v2M971 1088v2M971 1094v2M971 1098v4M973 932v6M973 940v2M973 1004v4M973 1010v4M973 1016v6M973 1024v2M973 1028v4M973 1038v2M973 1070v6M973 1078v2M973 1168v2M975 978v10M975 990v12M975 1016v4M975 1024v2M975 1028v8M975 1064v2M975 1072v2M975 1076v2M975 1096v6M975 1104v2M977 920v4M977 928v2M977 952v2M977 956v2M977 964v6M977 996v2M977 1000v2M977 1030v2M977 1072v2M977 1084v4M977 1090v2M979 922v12M979 936v2M979 940v2M979 960v2M979 968v6M979 986v2M979 994v2M979 1004v4M979 1074v2M979 1092v4M981 920v4M981 938v2M981 954v4M981 996v4M981 1002v2M981 1020v2M981 1026v2M981 1036v4M981 1046v2M981 1050v2M981 1086v2M981 1090v2M983 926v4M983 932v4M983 962v2M983 966v4M983 972v2M983 1022v2M983 1026v2M983 1036v2M983 1040v12M983 1054v2M985 926v2M985 930v4M985 938v2M985 960v4M985 966v2M985 970v2M985 1034v2M985 1038v2M985 1044v4M987 964v2M987 972v4M987 990v2M987 1032v2M987 1086v2M989 988v2M989 1034v4M989 1042v2M989 1046v2M989 1052v2M989 1064v2M991 910v2M991 960v2M991 972v2M991 1016v2M991 1038v2M991 1048v2M991 1074v2M993 894v2M993 954v2M993 960v2M993 964v2M993 968v6M993 998v2M993 1016v2M993 1022v6M993 1034v2M993 1040v4M993 1062v4M993 1068v4M993 1074v2M995 916v2M995 974v2M995 990v2M995 1004v4M995 1030v2M995 1042v2M995 1060v6M995 1068v6M995 1078v4M997 924v2M997 946v2M997 956v4M997 968v2M997 982v2M997 986v2M997 990v2M997 994v2M997 1026v2M997 1032v2M997 1066v10M999 976v4M999 994v2M999 1008v4M999 1074v2M1001 946v2M1001 950v2M1001 974v2M1001 994v2M1001 998v2M1001 1020v2M1001 1038v2M1001 1048v4M1003 902v2M1003 1008v2M1003 1046v4M1003 1068v4M1003 1094v2M1003 1106v2M1003 1112v2M1003 1116v2M1005 958v4M1005 984v2M1005 1010v2M1005 1018v4M1005 1026v2M1005 1030v2M1005 1040v2M1005 1070v2M1007 1014v2M1007 1040v2M1007 1102v6M1009 980v2M1009 1042v8M1011 942v2M1011 946v2M1011 992v2M1013 1000v2M1013 1006v2M1015 1002v2M1015 1014v4M1017 940v2M1017 1008v2M1017 1016v2M1017 1036v2M1019 938v2M1019 974v6M1019 982v2M1019 996v2M1019 1000v2M1019 1006v2M1019 1020v2M1019 1082v2M1019 1086v4M1019 1092v2M1021 980v2M1021 1010v2M1021 1084v4M1025 1000v2M1025 1004v2M1027 998v2M1027 1022v2M1027 1026v2M1029 954v2M1029 958v2M1029 1022v2M1037 1042v2M1049 1008v2M1051 1000v2M1051 1004v2M1051 1010v2M1053 1002v6" stroke="#3c6298" stroke-width="2" fill="none" shape-rendering="crispEdges"/>
<path d="M607 1008v2M607 1042v2M607 1128v2M611 916v2M611 1062v2M615 956v2M615 1046v2M617 1124v2M619 996v2M619 1000v2M619 1092v2M621 1078v2M621 1088v2M625 1058v2M631 950v4M633 954v2M633 958v2M633 1012v2M633 1028v2M633 1112v4M635 954v2M635 998v2M635 1006v2M635 1010v2M637 1010v2M637 1112v4M639 1046v2M641 1034v2M641 1052v2M641 1096v2M643 946v4M643 1032v2M643 1036v2M643 1086v4M645 960v2M645 1032v6M645 1058v2M645 1074v2M647 868v2M647 1008v8M647 1018v2M647 1060v4M647 1074v2M647 1084v2M647 1114v2M649 978v2M649 992v2M649 1002v6M649 1014v4M649 1024v2M649 1064v2M649 1116v2M651 938v2M651 942v4M651 1002v2M651 1064v2M651 1068v2M651 1080v2M653 1004v2M653 1008v2M653 1026v2M653 1030v2M653 1038v2M653 1076v2M653 1110v2M655 894v2M657 934v4M657 964v4M657 970v2M657 994v2M657 1036v4M657 1072v2M659 892v2M659 896v2M659 944v2M659 996v4M659 1004v2M659 1030v2M659 1034v12M659 1102v6M661 902v2M661 932v2M661 938v2M661 1002v2M661 1006v2M661 1010v2M663 888v8M663 898v2M663 904v2M663 952v2M663 958v2M663 994v2M663 998v10M663 1022v6M663 1032v10M663 1044v6M663 1052v2M663 1106v2M663 1126v2M665 892v6M665 900v4M665 974v2M665 988v2M665 994v6M665 1024v4M665 1044v4M665 1062v2M665 1070v6M667 974v2M667 1002v2M667 1026v2M667 1030v2M667 1040v6M667 1048v2M667 1096v2M667 1100v2M667 1150v2M669 994v2M669 1006v2M669 1026v2M669 1032v6M669 1040v8M669 1054v4M669 1072v2M669 1088v2M671 838v2M671 1012v2M671 1040v2M671 1044v4M671 1050v4M671 1056v2M671 1094v8M671 1154v2M673 874v2M673 884v2M673 898v2M673 932v2M673 936v2M673 972v2M673 988v6M673 996v2M673 1002v10M673 1018v2M673 1024v2M673 1042v4M673 1048v2M673 1074v4M673 1082v2M673 1086v8M673 1106v2M673 1116v2M673 1122v2M673 1154v2M675 854v6M675 878v2M675 894v2M675 922v12M675 938v4M675 954v2M675 986v4M675 992v2M675 998v10M675 1030v6M675 1038v6M675 1056v14M675 1088v6M675 1100v2M675 1106v2M675 1112v2M675 1118v2M675 1124v2M675 1128v2M675 1134v2M677 876v2M677 928v6M677 940v2M677 968v2M677 986v2M677 1006v12M677 1020v2M677 1028v6M677 1056v2M677 1062v2M677 1066v6M677 1082v2M677 1088v4M677 1094v14M677 1116v2M677 1122v2M679 870v2M679 882v2M679 896v2M679 900v6M679 926v2M679 932v2M679 942v2M679 946v2M679 974v2M679 982v2M679 988v4M679 998v2M679 1002v8M679 1012v2M679 1026v2M679 1030v2M679 1048v6M679 1056v2M679 1068v2M679 1072v4M679 1080v10M679 1096v2M679 1100v2M679 1120v6M681 872v2M681 898v2M681 928v8M681 958v12M681 976v2M681 986v2M681 1000v6M681 1012v4M681 1020v6M681 1028v2M681 1032v2M681 1036v6M681 1046v4M681 1056v2M681 1072v6M681 1080v4M681 1094v2M681 1104v2M681 1120v6M681 1128v2M681 1154v2M683 892v2M683 942v2M683 950v4M683 958v10M683 972v2M683 986v10M683 1002v2M683 1018v2M683 1032v4M683 1074v18M683 1094v4M683 1100v2M683 1104v2M683 1108v6M683 1118v2M683 1124v4M683 1130v4M683 1138v2M685 910v4M685 916v2M685 924v2M685 938v12M685 974v22M685 998v2M685 1020v2M685 1042v4M685 1050v2M685 1058v10M685 1088v2M685 1130v2M685 1138v4M685 1148v2M687 934v2M687 938v20M687 960v4M687 990v2M687 994v4M687 1002v4M687 1008v6M687 1030v4M687 1046v2M687 1052v4M687 1058v4M687 1064v6M687 1072v2M687 1076v2M687 1086v2M687 1090v2M687 1094v2M687 1114v2M687 1120v2M687 1172v2M687 1176v2M689 916v2M689 942v4M689 956v2M689 982v4M689 990v2M689 1018v2M689 1022v2M689 1026v2M689 1038v2M689 1042v2M689 1046v2M689 1050v6M689 1058v2M689 1092v2M689 1100v6M691 918v6M691 926v4M691 946v2M691 950v4M691 958v4M691 966v2M691 992v4M691 1020v2M691 1024v4M691 1032v2M691 1036v2M691 1040v2M691 1044v2M691 1070v2M691 1078v2M691 1086v8M691 1096v2M691 1100v2M691 1112v2M693 976v2M693 994v4M693 1008v2M693 1024v2M693 1028v8M693 1054v2M693 1058v6M693 1066v2M693 1070v2M693 1082v6M693 1090v6M693 1098v6M695 926v2M695 952v2M695 972v2M695 1002v6M695 1014v16M695 1032v4M695 1038v4M695 1050v2M695 1060v2M695 1064v4M695 1070v2M695 1074v8M695 1084v2M695 1088v2M695 1092v4M695 1106v6M695 1114v2M695 1128v2M695 1146v4M697 876v2M697 896v4M697 902v4M697 918v2M697 924v2M697 938v4M697 944v4M697 950v2M697 958v6M697 972v4M697 986v4M697 992v4M697 998v8M697 1018v4M697 1036v2M697 1054v2M697 1058v2M697 1062v4M697 1068v6M697 1088v2M697 1104v2M697 1116v2M697 1120v2M699 882v2M699 900v2M699 904v4M699 910v2M699 916v2M699 938v2M699 948v2M699 952v4M699 962v6M699 970v4M699 992v2M699 1004v4M699 1010v2M699 1018v14M699 1034v4M699 1042v2M699 1046v4M699 1064v2M699 1080v6M699 1088v2M699 1096v6M699 1110v2M699 1114v4M699 1122v16M699 1140v2M701 890v4M701 902v2M701 934v2M701 938v4M701 968v6M701 976v4M701 982v4M701 996v2M701 1002v2M701 1008v2M701 1012v4M701 1022v4M701 1028v4M701 1034v4M701 1042v4M701 1054v16M701 1072v4M701 1078v2M701 1086v2M701 1092v4M701 1118v2M701 1124v2M701 1132v2M701 1150v2M701 1160v2M703 898v2M703 932v2M703 938v6M703 948v2M703 958v4M703 970v2M703 974v2M703 982v2M703 986v10M703 998v2M703 1002v2M703 1006v6M703 1016v2M703 1020v4M703 1032v6M703 1040v2M703 1048v6M703 1078v2M703 1084v4M703 1090v2M703 1096v4M703 1102v2M703 1114v12M703 1128v2M703 1164v4M703 1170v2M705 868v8M705 894v2M705 932v2M705 938v2M705 942v4M705 954v2M705 958v2M705 962v2M705 966v4M705 972v2M705 988v6M705 996v2M705 1020v4M705 1030v2M705 1042v4M705 1050v6M705 1076v2M705 1090v2M705 1108v4M705 1116v2M705 1120v2M705 1124v4M705 1154v2M707 850v2M707 860v10M707 934v8M707 944v2M707 948v4M707 954v4M707 960v2M707 966v2M707 970v2M707 982v2M707 988v4M707 994v6M707 1018v4M707 1024v12M707 1042v6M707 1052v2M707 1060v2M707 1066v2M707 1070v2M707 1074v2M707 1088v4M707 1096v4M707 1104v6M707 1116v2M707 1154v6M709 884v2M709 894v6M709 902v2M709 916v2M709 942v4M709 952v2M709 968v2M709 974v4M709 982v2M709 986v6M709 994v8M709 1006v4M709 1012v2M709 1018v2M709 1024v2M709 1028v2M709 1032v2M709 1038v2M709 1046v2M709 1050v2M709 1062v4M709 1072v2M709 1076v2M709 1080v4M709 1108v2M709 1118v2M709 1130v8M709 1142v4M709 1152v2M711 936v2M711 944v2M711 952v2M711 956v10M711 968v2M711 980v6M711 990v10M711 1002v4M711 1008v2M711 1016v2M711 1030v8M711 1042v2M711 1056v2M711 1086v2M711 1092v2M711 1100v4M711 1124v4M711 1130v4M711 1136v4M711 1158v4M713 848v2M713 852v2M713 856v2M713 886v4M713 892v2M713 902v8M713 912v4M713 918v4M713 924v8M713 936v2M713 940v2M713 948v2M713 960v10M713 986v2M713 990v8M713 1004v2M713 1012v2M713 1022v2M713 1032v6M713 1040v4M713 1072v2M713 1076v8M713 1100v2M713 1106v2M713 1112v2M713 1120v4M713 1130v2M713 1136v2M713 1140v8M715 858v4M715 890v4M715 904v2M715 920v2M715 928v2M715 936v4M715 956v4M715 962v10M715 978v4M715 988v2M715 992v6M715 1004v8M715 1014v2M715 1018v2M715 1022v2M715 1026v4M715 1036v4M715 1042v8M715 1072v4M715 1088v2M715 1100v6M715 1118v8M715 1128v2M715 1132v4M715 1176v2M717 864v2M717 868v2M717 876v2M717 884v14M717 900v2M717 914v14M717 930v10M717 950v2M717 956v4M717 962v4M717 968v4M717 974v2M717 982v2M717 990v2M717 998v10M717 1010v2M717 1046v2M717 1050v6M717 1058v2M717 1062v12M717 1084v2M717 1088v2M717 1096v10M717 1110v6M717 1126v4M717 1160v2M717 1164v2M719 836v2M719 868v2M719 884v4M719 894v6M719 906v2M719 912v2M719 920v2M719 926v4M719 932v4M719 940v2M719 944v2M719 950v2M719 954v6M719 962v4M719 970v2M719 1038v2M719 1042v8M719 1082v8M719 1092v4M719 1098v2M719 1112v2M719 1126v6M719 1134v4M721 874v2M721 894v6M721 904v2M721 910v8M721 946v4M721 962v6M721 970v2M721 976v6M721 984v2M721 988v6M721 996v12M721 1010v2M721 1014v2M721 1018v4M721 1032v2M721 1036v2M721 1040v2M721 1044v2M721 1060v2M721 1072v2M721 1076v2M721 1088v6M721 1102v10M721 1142v4M721 1152v2M721 1158v2M721 1162v2M721 1170v2M723 856v2M723 880v2M723 912v4M723 918v2M723 934v8M723 944v2M723 950v4M723 956v8M723 966v6M723 974v18M723 998v12M723 1016v2M723 1026v8M723 1052v2M723 1058v2M723 1068v10M723 1084v2M723 1090v2M723 1094v4M723 1106v2M723 1110v10M723 1136v6M723 1162v2M725 852v4M725 870v2M725 946v4M725 954v2M725 960v2M725 964v4M725 976v12M725 990v2M725 998v2M725 1014v2M725 1018v4M725 1030v2M725 1034v10M725 1052v6M725 1060v6M725 1076v2M725 1080v2M725 1088v2M725 1092v4M725 1098v10M725 1110v2M725 1116v2M725 1136v2M725 1140v2M725 1172v2M727 934v2M727 940v2M727 950v2M727 958v2M727 962v2M727 970v2M727 976v4M727 988v2M727 992v2M727 1008v2M727 1012v2M727 1018v8M727 1032v2M727 1046v6M727 1074v6M727 1110v6M727 1128v4M727 1158v2M727 1166v2M729 872v2M729 880v2M729 944v2M729 956v8M729 966v2M729 972v6M729 980v8M729 990v14M729 1008v2M729 1012v2M729 1026v6M729 1034v2M729 1052v8M729 1092v2M729 1102v2M729 1106v2M729 1110v2M729 1120v6M731 864v2M731 870v2M731 876v4M731 910v6M731 920v2M731 924v4M731 938v2M731 954v6M731 968v6M731 976v2M731 980v2M731 1024v2M731 1030v2M731 1052v2M731 1060v4M731 1070v2M731 1074v2M731 1082v4M731 1088v2M731 1092v12M731 1106v2M731 1110v14M731 1174v6M731 1182v2M733 906v12M733 920v6M733 928v2M733 962v4M733 968v4M733 986v2M733 990v2M733 994v4M733 1008v6M733 1018v2M733 1024v2M733 1028v2M733 1040v2M733 1044v6M733 1052v12M733 1076v2M733 1082v10M733 1094v2M733 1108v10M733 1122v2M733 1130v2M733 1180v8M735 898v2M735 902v2M735 906v2M735 914v2M735 918v6M735 934v10M735 952v2M735 956v2M735 960v6M735 972v4M735 978v2M735 982v2M735 988v10M735 1026v2M735 1030v2M735 1038v2M735 1058v4M735 1070v2M735 1074v4M735 1082v6M735 1090v6M735 1098v6M735 1114v4M735 1126v2M735 1148v2M735 1160v4M735 1166v2M735 1184v6M737 856v2M737 862v2M737 866v2M737 886v6M737 916v2M737 928v2M737 932v4M737 946v4M737 960v4M737 970v2M737 974v6M737 1018v4M737 1024v4M737 1030v2M737 1042v2M737 1058v2M737 1062v4M737 1076v8M737 1086v10M737 1098v2M737 1102v8M737 1116v2M737 1120v4M737 1128v2M737 1132v2M737 1136v2M737 1146v2M737 1150v10M737 1162v4M737 1180v6M737 1188v2M739 876v2M739 892v8M739 912v2M739 918v2M739 926v10M739 940v2M739 944v4M739 956v2M739 966v2M739 978v2M739 992v2M739 996v2M739 1008v4M739 1022v4M739 1048v6M739 1058v2M739 1066v2M739 1094v4M739 1100v2M739 1108v2M739 1112v6M739 1126v2M739 1130v2M739 1148v2M739 1166v2M739 1188v2M741 858v2M741 888v2M741 898v2M741 914v2M741 930v2M741 934v4M741 944v2M741 998v2M741 1008v4M741 1024v6M741 1032v2M741 1040v14M741 1076v6M741 1086v6M741 1094v2M741 1108v2M741 1112v2M741 1116v4M741 1122v2M741 1126v2M741 1148v2M743 894v16M743 912v2M743 928v4M743 934v2M743 954v4M743 960v2M743 968v10M743 986v8M743 1018v2M743 1024v2M743 1028v2M743 1040v6M743 1048v4M743 1070v2M743 1074v2M743 1078v4M743 1094v4M743 1106v2M743 1112v2M743 1128v4M745 864v4M745 874v4M745 880v4M745 886v2M745 894v2M745 898v4M745 904v4M745 910v2M745 924v12M745 938v14M745 954v6M745 974v4M745 980v4M745 990v12M745 1006v4M745 1012v2M745 1016v8M745 1030v10M745 1048v2M745 1052v6M745 1060v2M745 1064v6M745 1120v4M745 1134v2M745 1156v2M747 870v2M747 874v2M747 880v2M747 884v4M747 892v2M747 896v6M747 914v2M747 918v2M747 924v2M747 932v2M747 936v4M747 954v8M747 964v2M747 968v2M747 982v2M747 1006v2M747 1030v6M747 1038v4M747 1044v4M747 1050v2M747 1054v8M747 1072v2M747 1106v6M747 1114v2M747 1120v2M747 1124v2M747 1128v2M747 1180v2M747 1184v2M747 1188v2M749 900v10M749 912v2M749 916v4M749 924v2M749 928v8M749 940v2M749 944v4M749 958v2M749 972v2M749 976v2M749 980v2M749 984v2M749 990v2M749 1014v10M749 1026v2M749 1030v2M749 1046v2M749 1052v6M749 1062v4M749 1078v8M749 1088v4M749 1132v4M749 1138v4M751 932v4M751 942v2M751 948v2M751 952v10M751 988v2M751 1000v4M751 1032v4M751 1040v2M751 1048v2M751 1060v4M751 1074v8M751 1108v10M751 1132v2M751 1136v6M751 1152v18M753 816v6M753 824v2M753 848v6M753 876v4M753 898v2M753 902v2M753 906v2M753 916v4M753 924v2M753 938v2M753 950v2M753 962v6M753 972v2M753 1002v4M753 1014v4M753 1022v6M753 1030v2M753 1036v6M753 1044v6M753 1058v2M753 1062v4M753 1068v2M753 1074v4M753 1080v6M753 1100v4M753 1116v2M753 1120v2M753 1126v2M753 1144v8M753 1162v4M753 1190v2M755 818v2M755 862v2M755 868v6M755 876v2M755 888v6M755 896v6M755 916v4M755 926v4M755 934v6M755 942v2M755 946v2M755 950v4M755 956v2M755 960v8M755 970v4M755 1006v4M755 1012v2M755 1018v2M755 1032v2M755 1050v2M755 1054v2M755 1064v8M755 1074v2M755 1080v8M755 1094v2M755 1098v8M755 1116v2M755 1124v6M755 1136v2M755 1152v2M755 1156v2M755 1180v2M757 820v4M757 826v2M757 838v2M757 844v6M757 884v2M757 890v4M757 896v6M757 906v12M757 940v2M757 946v2M757 952v2M757 956v2M757 964v4M757 970v2M757 978v2M757 1000v6M757 1040v2M757 1056v4M757 1062v8M757 1122v2M757 1126v4M757 1132v2M757 1140v2M757 1146v4M757 1156v4M759 868v4M759 876v2M759 886v4M759 892v2M759 896v6M759 904v2M759 908v8M759 918v2M759 932v2M759 946v2M759 952v2M759 960v8M759 972v4M759 1018v2M759 1022v4M759 1034v2M759 1056v4M759 1066v4M759 1072v8M759 1098v2M759 1104v4M759 1112v2M759 1116v2M759 1120v4M759 1134v2M759 1160v8M761 866v8M761 876v2M761 890v4M761 896v8M761 912v2M761 918v2M761 928v10M761 940v4M761 968v4M761 998v2M761 1002v4M761 1010v4M761 1016v6M761 1024v6M761 1032v4M761 1044v6M761 1052v8M761 1070v12M761 1104v12M761 1118v2M761 1122v6M761 1134v4M761 1158v6M761 1166v6M761 1176v2M763 826v2M763 830v2M763 870v2M763 876v2M763 880v4M763 886v4M763 894v2M763 902v8M763 912v4M763 938v12M763 958v6M763 974v4M763 986v8M763 1006v6M763 1018v4M763 1064v10M763 1082v8M763 1092v2M763 1096v14M763 1114v6M763 1130v4M763 1160v4M765 836v2M765 842v2M765 884v6M765 904v8M765 930v6M765 940v2M765 956v4M765 970v2M765 996v2M765 1030v2M765 1074v8M765 1092v6M765 1102v2M765 1118v6M765 1126v4M765 1132v2M765 1142v2M765 1146v2M765 1156v4M765 1164v2M765 1200v2M767 858v2M767 864v2M767 872v4M767 890v8M767 912v2M767 916v4M767 924v2M767 940v4M767 946v2M767 998v6M767 1026v4M767 1032v8M767 1088v2M767 1092v10M767 1106v6M767 1114v2M767 1120v2M767 1150v2M767 1156v6M767 1182v4M769 820v2M769 844v2M769 878v4M769 884v4M769 892v2M769 896v2M769 902v4M769 920v2M769 932v8M769 988v2M769 1006v6M769 1014v8M769 1024v2M769 1044v4M769 1050v2M769 1056v4M769 1062v2M769 1090v2M769 1108v4M769 1128v2M769 1132v4M769 1144v2M769 1148v6M769 1166v4M769 1174v2M771 858v4M771 870v4M771 876v4M771 882v2M771 892v6M771 910v2M771 914v2M771 918v2M771 926v8M771 936v2M771 940v2M771 944v4M771 970v2M771 974v2M771 982v4M771 988v4M771 998v6M771 1006v6M771 1018v6M771 1038v8M771 1048v2M771 1056v2M771 1062v8M771 1082v12M771 1116v6M771 1124v6M771 1194v2M773 872v2M773 876v6M773 936v2M773 942v4M773 952v6M773 978v4M773 984v2M773 988v2M773 992v2M773 996v4M773 1004v4M773 1010v4M773 1032v2M773 1036v4M773 1042v2M773 1046v2M773 1058v4M773 1092v6M773 1108v2M773 1112v6M773 1120v2M773 1126v8M773 1138v4M773 1144v4M773 1152v2M773 1162v6M773 1174v2M775 828v2M775 832v4M775 866v8M775 892v2M775 904v6M775 934v10M775 946v4M775 952v2M775 990v10M775 1002v2M775 1026v2M775 1030v2M775 1034v2M775 1038v2M775 1046v4M775 1052v2M775 1056v4M775 1088v4M775 1094v6M775 1102v6M775 1110v6M775 1122v2M775 1126v2M775 1150v6M775 1202v2M777 876v2M777 908v6M777 920v2M777 928v10M777 940v2M777 944v8M777 964v2M777 968v8M777 990v2M777 1016v2M777 1020v2M777 1024v8M777 1068v2M777 1074v4M777 1082v4M777 1096v2M777 1100v2M777 1108v2M777 1116v6M777 1124v2M777 1128v6M777 1142v4M777 1152v2M777 1182v2M777 1198v4M779 828v2M779 838v2M779 850v2M779 860v2M779 866v2M779 908v6M779 936v4M779 950v2M779 956v2M779 970v2M779 980v2M779 1070v2M779 1078v2M779 1082v10M779 1094v2M779 1102v2M779 1116v4M779 1134v2M779 1140v2M779 1152v8M779 1162v4M781 834v2M781 838v2M781 846v2M781 880v2M781 888v6M781 896v2M781 900v4M781 910v2M781 914v4M781 920v12M781 940v2M781 944v2M781 956v2M781 1014v4M781 1020v2M781 1024v6M781 1066v6M781 1086v2M781 1098v6M781 1108v6M781 1118v2M781 1124v4M781 1156v4M781 1176v4M783 830v4M783 842v2M783 848v2M783 854v2M783 870v2M783 876v4M783 918v2M783 922v2M783 928v2M783 932v4M783 984v2M783 990v6M783 1002v2M783 1008v2M783 1016v2M783 1020v4M783 1042v12M783 1060v6M783 1068v2M783 1076v2M783 1098v6M783 1110v8M783 1120v2M783 1126v2M783 1132v6M783 1148v2M783 1156v4M785 834v2M785 846v6M785 862v2M785 866v2M785 872v2M785 878v2M785 884v2M785 888v4M785 914v6M785 952v2M785 956v2M785 962v2M785 1020v2M785 1024v2M785 1028v2M785 1032v12M785 1052v2M785 1058v4M785 1090v2M785 1096v2M785 1100v2M785 1106v2M785 1114v4M785 1124v4M785 1136v4M785 1146v4M785 1152v8M785 1166v4M785 1172v2M785 1186v4M787 808v2M787 812v4M787 840v2M787 858v2M787 864v10M787 884v4M787 890v2M787 896v4M787 932v2M787 938v4M787 954v4M787 960v2M787 964v6M787 996v2M787 1004v4M787 1044v8M787 1054v4M787 1070v2M787 1074v6M787 1098v2M787 1112v2M787 1164v2M787 1180v2M789 840v2M789 848v16M789 868v2M789 872v14M789 888v6M789 898v6M789 906v4M789 914v4M789 920v6M789 942v8M789 952v14M789 968v6M789 984v4M789 994v2M789 1002v2M789 1012v2M789 1016v6M789 1060v8M789 1070v2M789 1092v2M789 1112v8M789 1128v2M789 1132v6M789 1140v2M789 1166v2M789 1170v6M791 870v4M791 876v6M791 884v2M791 890v4M791 896v4M791 902v4M791 908v2M791 912v2M791 942v2M791 948v6M791 964v2M791 978v8M791 1012v4M791 1018v6M791 1032v2M791 1048v6M791 1070v2M791 1098v4M791 1108v4M791 1116v2M791 1120v2M791 1136v2M791 1140v8M793 848v2M793 856v4M793 874v2M793 890v2M793 896v12M793 936v2M793 942v12M793 956v2M793 1010v2M793 1052v2M793 1056v2M793 1060v6M793 1082v6M793 1094v2M793 1098v2M793 1120v2M793 1124v4M795 850v2M795 874v2M795 878v2M795 884v2M795 888v2M795 894v2M795 898v8M795 936v2M795 1062v4M795 1070v2M795 1094v2M795 1098v2M795 1102v2M795 1106v2M795 1110v6M795 1134v2M795 1138v2M797 888v4M797 910v2M797 952v2M797 960v2M797 964v4M797 970v8M797 980v8M797 990v4M797 996v4M797 1012v2M797 1026v2M797 1030v12M797 1070v2M797 1080v2M797 1090v4M797 1124v4M797 1130v2M797 1144v2M799 824v2M799 828v6M799 870v2M799 876v4M799 882v4M799 888v2M799 892v4M799 902v2M799 908v4M799 916v2M799 920v8M799 938v2M799 946v2M799 950v2M799 958v2M799 966v2M799 1066v6M799 1090v2M799 1104v2M799 1150v18M799 1170v2M801 862v2M801 866v6M801 878v2M801 888v2M801 896v2M801 904v2M801 908v4M801 914v6M801 922v2M801 930v6M801 942v4M801 948v4M801 956v2M801 980v6M801 988v4M801 1080v4M801 1086v8M801 1098v12M801 1112v14M801 1170v2M803 830v2M803 868v4M803 874v2M803 882v2M803 886v4M803 900v12M803 914v2M803 920v2M803 942v2M803 948v2M803 952v4M803 966v4M803 972v4M803 1022v10M803 1034v2M803 1058v2M803 1070v2M803 1074v2M803 1090v6M803 1110v2M803 1122v2M803 1128v2M803 1132v2M805 868v8M805 878v2M805 884v2M805 900v8M805 910v6M805 928v14M805 944v2M805 952v2M805 958v4M805 968v2M805 972v6M805 1014v2M805 1036v4M805 1042v6M805 1080v2M805 1084v2M805 1088v2M805 1098v6M805 1106v14M805 1122v4M805 1138v4M807 846v4M807 854v2M807 860v2M807 864v20M807 886v2M807 890v2M807 894v4M807 904v8M807 918v4M807 926v2M807 950v2M807 954v2M807 980v6M807 1030v2M807 1038v4M807 1050v8M807 1060v6M807 1084v4M807 1106v2M807 1110v2M807 1130v2M809 852v2M809 874v2M809 878v2M809 894v2M809 900v2M809 912v2M809 936v4M809 946v4M809 952v12M809 1002v2M809 1046v2M809 1050v2M809 1054v2M809 1058v2M809 1070v2M809 1076v12M809 1092v8M809 1108v8M809 1118v2M811 836v2M811 842v4M811 854v8M811 864v4M811 874v4M811 882v4M811 888v2M811 892v2M811 896v2M811 926v2M811 930v2M811 934v2M811 944v8M811 954v2M811 960v2M811 964v4M811 970v2M811 976v2M811 984v2M811 988v2M811 994v16M811 1050v2M811 1054v2M811 1070v4M811 1086v6M811 1098v2M811 1102v12M811 1124v4M813 852v2M813 868v14M813 888v6M813 918v2M813 932v8M813 942v2M813 946v8M813 958v8M813 972v6M813 1004v10M813 1016v6M813 1046v6M813 1054v2M813 1060v4M813 1094v4M813 1108v2M813 1112v4M813 1120v4M815 864v2M815 882v4M815 894v10M815 906v2M815 912v4M815 918v2M815 956v4M815 964v2M815 978v2M815 982v2M815 986v6M815 1034v8M815 1078v6M815 1088v2M815 1098v4M815 1104v2M815 1122v4M815 1128v10M815 1178v2M817 870v2M817 874v6M817 882v2M817 898v2M817 906v2M817 914v4M817 922v2M817 926v4M817 932v2M817 940v2M817 944v2M817 948v4M817 984v8M817 1038v2M817 1050v2M817 1058v8M817 1076v2M817 1126v8M817 1140v2M817 1144v2M819 830v2M819 836v2M819 854v2M819 866v14M819 882v4M819 888v2M819 892v4M819 898v10M819 928v6M819 940v2M819 1002v2M819 1024v8M819 1044v4M819 1050v2M819 1054v4M819 1068v2M819 1084v8M819 1104v6M819 1130v6M819 1146v6M821 840v2M821 848v2M821 852v6M821 872v2M821 898v6M821 912v6M821 942v2M821 974v8M821 1008v10M821 1048v4M821 1056v2M821 1068v2M821 1072v2M821 1078v2M821 1082v12M821 1118v4M821 1126v2M823 834v6M823 842v2M823 866v2M823 890v2M823 900v2M823 914v4M823 922v2M823 926v4M823 934v2M823 942v6M823 1016v4M823 1022v6M823 1038v4M823 1046v4M823 1080v2M823 1122v2M823 1126v2M823 1132v2M823 1166v2M825 832v4M825 838v2M825 862v6M825 880v2M825 898v2M825 902v2M825 906v4M825 916v4M825 922v6M825 1068v2M825 1072v4M825 1086v2M825 1092v6M825 1106v2M825 1120v4M825 1132v2M825 1138v2M827 844v2M827 890v2M827 896v2M827 900v2M827 904v2M827 924v6M827 936v16M827 964v2M827 968v2M827 972v2M827 984v2M827 1016v2M827 1026v2M827 1038v2M827 1044v4M827 1068v4M827 1086v2M827 1090v8M827 1108v8M827 1146v2M827 1160v6M829 856v2M829 866v10M829 902v4M829 928v2M829 936v10M829 960v2M829 1006v2M829 1010v2M829 1016v4M829 1022v2M829 1038v6M829 1046v2M829 1066v2M829 1076v2M829 1082v2M829 1088v2M829 1094v2M829 1098v2M829 1102v20M829 1128v2M829 1140v4M831 874v8M831 884v2M831 906v12M831 922v8M831 932v6M831 942v6M831 950v4M831 958v6M831 976v2M831 980v2M831 1018v6M831 1028v2M831 1074v8M831 1088v12M831 1138v2M831 1202v2M833 834v2M833 870v8M833 888v2M833 898v4M833 908v2M833 920v6M833 932v2M833 938v4M833 966v10M833 1002v2M833 1012v2M833 1044v4M833 1058v6M833 1076v2M833 1080v2M833 1084v2M833 1132v6M833 1146v2M833 1156v2M833 1160v2M833 1166v6M833 1176v2M833 1188v2M833 1192v4M833 1202v2M835 862v4M835 868v6M835 876v14M835 892v6M835 900v6M835 908v4M835 916v2M835 926v2M835 930v2M835 936v8M835 948v2M835 954v2M835 958v4M835 964v6M835 998v6M835 1006v10M835 1028v4M835 1044v2M835 1048v2M835 1066v6M835 1074v2M835 1114v8M835 1124v4M835 1140v4M835 1146v6M835 1156v2M835 1160v2M835 1164v2M835 1168v2M835 1174v6M835 1182v2M837 868v4M837 886v2M837 890v8M837 902v2M837 912v2M837 938v6M837 946v2M837 950v2M837 956v2M837 962v2M837 978v4M837 986v2M837 992v2M837 996v2M837 1042v2M837 1048v2M837 1052v8M837 1062v2M837 1066v4M837 1076v4M837 1082v6M837 1102v2M837 1114v2M837 1120v2M837 1144v2M839 842v2M839 872v6M839 894v2M839 898v2M839 910v2M839 918v2M839 934v2M839 942v6M839 950v4M839 966v6M839 984v2M839 988v2M839 998v2M839 1004v8M839 1014v4M839 1022v10M839 1054v4M839 1062v6M839 1070v6M839 1090v4M839 1096v8M839 1106v6M839 1130v2M839 1134v4M839 1142v2M839 1156v4M841 852v2M841 858v2M841 874v6M841 894v4M841 902v2M841 906v2M841 916v2M841 924v2M841 934v2M841 944v6M841 954v4M841 964v2M841 968v4M841 1004v2M841 1008v2M841 1012v4M841 1018v2M841 1038v2M841 1072v2M841 1080v2M841 1094v2M841 1116v4M841 1124v2M841 1134v4M841 1140v2M841 1166v2M841 1172v2M841 1176v2M843 840v2M843 844v6M843 860v2M843 882v4M843 896v6M843 904v8M843 916v6M843 928v2M843 940v8M843 958v6M843 966v6M843 996v10M843 1020v2M843 1024v10M843 1048v2M843 1064v4M843 1086v2M843 1096v2M843 1102v2M843 1106v6M843 1124v4M843 1156v4M843 1162v4M845 856v4M845 878v2M845 890v4M845 896v4M845 902v2M845 908v2M845 912v6M845 938v4M845 944v4M845 978v6M845 988v2M845 992v2M845 996v14M845 1020v2M845 1024v6M845 1056v4M845 1062v10M845 1074v2M845 1116v2M845 1120v2M845 1142v2M847 822v4M847 884v6M847 896v20M847 918v2M847 926v4M847 934v2M847 950v4M847 966v2M847 988v4M847 994v6M847 1004v2M847 1008v2M847 1060v2M847 1074v4M847 1082v2M847 1096v6M847 1104v8M847 1114v6M849 820v2M849 874v2M849 880v2M849 898v2M849 914v10M849 926v2M849 934v2M849 948v16M849 982v2M849 988v4M849 998v2M849 1002v2M849 1006v4M849 1012v4M849 1070v2M849 1074v2M849 1080v8M849 1090v2M849 1108v2M849 1112v4M849 1118v6M849 1148v2M849 1216v2M851 830v4M851 838v2M851 864v2M851 870v2M851 882v4M851 914v4M851 922v10M851 936v2M851 940v2M851 948v2M851 952v2M851 956v4M851 962v2M851 966v4M851 972v4M851 1012v2M851 1016v4M851 1026v8M851 1046v4M851 1062v10M851 1074v8M851 1084v2M851 1088v10M851 1104v10M851 1116v4M851 1134v2M851 1138v2M851 1150v2M851 1162v2M853 824v2M853 828v4M853 840v4M853 866v2M853 870v2M853 874v2M853 878v4M853 888v4M853 894v2M853 900v2M853 904v2M853 938v2M853 960v4M853 966v8M853 1004v6M853 1014v2M853 1040v2M853 1044v4M853 1052v2M853 1058v2M853 1062v2M853 1066v4M853 1094v2M853 1098v2M853 1110v2M853 1122v2M853 1126v2M853 1146v2M853 1154v4M853 1184v4M853 1192v2M855 880v2M855 894v4M855 900v2M855 904v4M855 920v2M855 936v2M855 940v2M855 960v2M855 966v4M855 998v2M855 1002v2M855 1012v2M855 1018v14M855 1036v2M855 1040v2M855 1060v4M855 1066v2M855 1092v4M855 1108v2M855 1112v12M855 1126v2M855 1130v2M855 1134v2M855 1152v2M855 1196v2M857 834v2M857 846v2M857 892v4M857 898v6M857 906v6M857 936v2M857 966v4M857 972v2M857 976v4M857 1014v2M857 1026v2M857 1034v2M857 1042v2M857 1050v12M857 1070v4M857 1078v6M857 1088v2M857 1098v6M857 1108v4M857 1114v2M857 1120v4M857 1126v2M857 1152v2M857 1174v2M859 884v8M859 896v2M859 904v6M859 928v6M859 940v6M859 948v4M859 956v4M859 972v2M859 976v4M859 982v2M859 1004v2M859 1012v4M859 1018v2M859 1028v10M859 1054v2M859 1058v8M859 1068v14M859 1086v2M859 1090v4M859 1096v2M859 1106v4M859 1118v2M859 1124v2M859 1136v4M861 862v4M861 880v4M861 908v2M861 912v2M861 916v6M861 924v10M861 936v4M861 942v2M861 946v2M861 950v12M861 964v2M861 970v2M861 976v14M861 992v2M861 1010v2M861 1034v4M861 1052v2M861 1056v6M861 1064v2M861 1068v12M861 1094v2M861 1098v2M861 1112v2M861 1116v8M861 1140v2M861 1146v2M861 1160v2M861 1172v2M863 852v2M863 858v4M863 888v6M863 908v10M863 922v4M863 930v12M863 980v2M863 992v2M863 1000v2M863 1048v2M863 1072v2M863 1086v4M863 1092v2M863 1096v2M863 1102v12M863 1118v2M863 1146v4M863 1162v2M865 850v10M865 862v2M865 872v8M865 882v2M865 886v6M865 908v14M865 948v2M865 958v2M865 962v6M865 970v8M865 988v8M865 1010v4M865 1018v8M865 1028v4M865 1046v2M865 1076v2M865 1084v4M865 1098v2M865 1104v2M865 1122v2M865 1126v2M865 1134v8M865 1178v2M865 1182v6M865 1192v2M867 860v2M867 864v2M867 868v2M867 876v2M867 880v4M867 894v2M867 904v4M867 944v2M867 948v2M867 966v4M867 972v2M867 982v8M867 1022v2M867 1030v2M867 1040v2M867 1050v6M867 1092v2M867 1098v10M867 1110v6M867 1118v2M867 1124v2M867 1136v2M867 1146v4M867 1186v2M867 1190v2M867 1202v2M869 818v2M869 862v6M869 870v2M869 888v6M869 898v2M869 906v2M869 924v6M869 932v2M869 942v6M869 958v2M869 964v2M869 974v6M869 988v2M869 992v8M869 1002v2M869 1026v2M869 1052v10M869 1068v4M869 1074v2M869 1094v2M869 1102v8M869 1128v4M869 1134v2M869 1140v6M869 1148v2M869 1154v2M871 886v2M871 890v8M871 908v8M871 938v2M871 942v4M871 948v2M871 954v6M871 962v6M871 970v2M871 974v8M871 990v2M871 994v4M871 1000v6M871 1040v2M871 1056v2M871 1060v4M871 1066v8M871 1090v2M871 1104v8M871 1130v2M871 1136v2M871 1142v6M871 1156v2M871 1174v4M873 870v2M873 900v2M873 904v2M873 920v4M873 926v6M873 952v4M873 962v4M873 974v2M873 982v6M873 996v4M873 1004v10M873 1016v2M873 1020v6M873 1032v4M873 1038v6M873 1060v2M873 1078v4M873 1120v2M873 1128v2M873 1144v2M873 1150v2M873 1168v4M873 1174v2M873 1178v2M875 876v2M875 882v2M875 886v2M875 908v6M875 916v2M875 922v4M875 928v2M875 932v2M875 938v2M875 950v2M875 960v4M875 974v2M875 978v2M875 984v2M875 1002v2M875 1008v2M875 1012v4M875 1018v2M875 1022v2M875 1030v4M875 1064v2M875 1068v6M875 1110v2M875 1114v2M875 1118v2M875 1128v4M875 1134v4M875 1140v6M875 1180v2M877 888v2M877 892v4M877 900v4M877 944v2M877 950v12M877 964v2M877 968v2M877 986v2M877 990v2M877 1000v4M877 1008v2M877 1026v2M877 1030v4M877 1040v6M877 1048v2M877 1052v4M877 1058v4M877 1064v2M877 1078v2M877 1084v2M877 1096v12M877 1120v2M877 1126v2M877 1130v2M877 1138v2M877 1184v2M879 896v2M879 902v4M879 908v2M879 918v2M879 922v6M879 930v6M879 940v2M879 952v4M879 960v4M879 974v14M879 1012v2M879 1016v4M879 1022v2M879 1036v4M879 1050v6M879 1072v2M879 1090v2M879 1122v6M879 1130v4M881 838v2M881 860v2M881 882v6M881 898v2M881 906v2M881 910v2M881 920v4M881 938v2M881 946v2M881 958v4M881 968v14M881 986v2M881 1038v6M881 1046v4M881 1056v10M881 1068v2M881 1076v4M881 1082v8M881 1092v2M881 1096v2M881 1100v4M881 1106v2M881 1120v8M881 1132v4M881 1142v18M881 1162v2M883 902v2M883 908v2M883 918v2M883 942v2M883 950v8M883 1032v10M883 1044v6M883 1052v4M883 1058v2M883 1072v2M883 1080v2M883 1092v4M883 1098v8M883 1110v2M883 1116v4M883 1132v4M883 1142v2M883 1146v6M885 842v2M885 846v4M885 852v4M885 874v2M885 878v6M885 906v2M885 930v4M885 942v6M885 950v2M885 960v2M885 964v8M885 974v2M885 978v4M885 984v2M885 994v8M885 1004v2M885 1036v4M885 1050v2M885 1056v10M885 1070v12M885 1096v2M885 1102v2M885 1106v4M887 860v4M887 866v2M887 870v2M887 918v2M887 922v4M887 928v2M887 942v2M887 952v4M887 970v4M887 976v2M887 980v10M887 996v6M887 1004v2M887 1008v2M887 1014v8M887 1026v2M887 1080v2M887 1092v2M887 1100v2M887 1104v2M887 1108v2M887 1112v10M887 1126v2M887 1130v2M887 1134v2M887 1138v6M887 1146v4M889 854v6M889 866v12M889 904v2M889 918v8M889 940v4M889 958v4M889 966v2M889 970v6M889 984v8M889 996v8M889 1006v2M889 1016v2M889 1020v4M889 1046v2M889 1050v10M889 1062v2M889 1066v4M889 1078v2M889 1088v6M889 1102v2M889 1108v2M889 1112v10M889 1126v2M889 1132v2M889 1136v8M889 1146v2M889 1176v2M891 906v2M891 928v2M891 954v2M891 960v2M891 972v4M891 982v8M891 992v2M891 998v8M891 1008v2M891 1016v2M891 1020v2M891 1028v4M891 1056v2M891 1060v2M891 1068v6M891 1076v8M891 1102v4M891 1108v2M891 1112v2M891 1118v4M891 1126v2M891 1130v2M891 1136v4M891 1146v4M891 1176v2M893 848v2M893 868v2M893 896v2M893 918v4M893 926v8M893 944v4M893 950v4M893 956v2M893 960v4M893 980v2M893 984v4M893 994v2M893 1000v2M893 1004v2M893 1012v6M893 1020v2M893 1034v2M893 1038v4M893 1056v4M893 1066v2M893 1070v4M893 1080v2M893 1084v4M893 1090v4M893 1110v4M893 1120v2M893 1128v2M893 1134v2M893 1138v4M893 1170v2M895 904v10M895 916v2M895 920v2M895 946v20M895 968v2M895 972v10M895 988v10M895 1000v2M895 1012v2M895 1020v2M895 1060v8M895 1070v10M895 1082v4M895 1088v2M895 1120v10M897 904v2M897 912v4M897 918v2M897 930v2M897 934v6M897 944v10M897 960v2M897 964v2M897 988v2M897 992v2M897 1016v2M897 1022v4M897 1028v4M897 1036v2M897 1048v6M897 1056v4M897 1062v6M897 1070v2M897 1074v6M897 1082v2M897 1090v2M897 1094v2M897 1100v2M897 1104v8M899 898v6M899 918v4M899 924v12M899 938v2M899 942v4M899 950v2M899 954v2M899 962v2M899 966v4M899 996v2M899 1000v2M899 1038v6M899 1048v2M899 1058v4M899 1072v8M899 1084v4M899 1090v4M899 1108v6M899 1126v2M899 1134v2M899 1138v2M901 834v2M901 866v2M901 872v2M901 876v8M901 886v10M901 908v2M901 928v2M901 932v2M901 956v4M901 962v2M901 966v2M901 978v10M901 990v4M901 996v2M901 1000v6M901 1012v2M901 1046v8M901 1056v4M901 1062v6M901 1070v2M901 1074v2M901 1082v2M901 1086v8M901 1102v4M901 1112v2M901 1116v2M901 1120v2M901 1124v4M901 1130v6M903 860v10M903 892v14M903 924v6M903 934v4M903 950v2M903 958v10M903 970v4M903 982v2M903 986v2M903 992v16M903 1012v8M903 1028v2M903 1040v2M903 1046v4M903 1068v2M903 1072v8M903 1092v2M903 1104v2M903 1108v2M903 1112v2M903 1126v2M903 1140v4M903 1152v2M903 1158v2M903 1162v4M905 862v2M905 882v6M905 892v2M905 896v4M905 912v2M905 926v8M905 946v6M905 968v6M905 978v4M905 984v6M905 1006v2M905 1020v6M905 1032v6M905 1042v4M905 1048v6M905 1060v2M905 1066v2M905 1070v6M905 1078v6M905 1086v2M905 1090v2M905 1094v4M905 1102v12M905 1124v2M905 1144v4M905 1154v2M905 1162v2M905 1198v2M907 860v2M907 894v2M907 900v4M907 918v2M907 934v2M907 938v2M907 950v6M907 978v2M907 982v8M907 992v14M907 1020v6M907 1030v4M907 1036v12M907 1050v2M907 1054v2M907 1060v2M907 1068v8M907 1078v6M907 1116v2M907 1122v6M907 1130v4M907 1136v6M907 1144v2M907 1200v2M909 886v2M909 894v2M909 898v2M909 904v6M909 912v8M909 922v2M909 928v2M909 934v2M909 956v8M909 968v12M909 982v6M909 1024v2M909 1030v4M909 1040v2M909 1044v8M909 1054v2M909 1058v2M909 1098v2M909 1120v4M911 884v2M911 898v14M911 914v2M911 918v6M911 956v2M911 968v2M911 974v2M911 980v2M911 998v6M911 1006v4M911 1048v2M911 1052v2M911 1056v2M911 1062v6M911 1080v2M911 1086v2M911 1112v2M911 1116v6M911 1136v4M913 900v4M913 906v2M913 914v2M913 918v2M913 922v2M913 940v6M913 950v2M913 954v2M913 966v10M913 986v6M913 998v2M913 1002v2M913 1006v4M913 1012v4M913 1024v4M913 1056v2M913 1062v6M913 1094v2M913 1098v2M913 1114v2M913 1120v2M913 1126v2M913 1138v2M915 886v2M915 896v2M915 936v12M915 952v2M915 964v6M915 978v12M915 992v2M915 998v2M915 1008v2M915 1016v16M915 1042v2M915 1046v2M915 1054v2M915 1058v10M915 1070v2M915 1076v2M915 1082v2M915 1094v6M915 1106v2M915 1110v4M915 1116v6M915 1158v2M917 924v2M917 934v2M917 938v2M917 944v4M917 960v2M917 970v2M917 974v12M917 992v4M917 998v4M917 1006v8M917 1020v2M917 1026v4M917 1032v2M917 1042v2M917 1060v2M917 1064v8M917 1074v4M917 1084v4M917 1092v8M917 1102v2M917 1106v4M917 1118v2M917 1156v2M919 884v2M919 920v10M919 934v2M919 940v6M919 948v2M919 952v6M919 972v2M919 978v2M919 984v2M919 988v6M919 996v4M919 1002v2M919 1008v4M919 1020v2M919 1024v4M919 1030v2M919 1036v6M919 1044v6M919 1074v4M919 1082v6M919 1090v2M919 1096v2M919 1108v4M919 1114v2M919 1122v4M919 1140v4M919 1162v6M921 920v6M921 928v2M921 934v8M921 944v4M921 952v2M921 956v4M921 962v2M921 970v2M921 974v2M921 984v2M921 988v2M921 992v6M921 1004v2M921 1022v2M921 1026v2M921 1032v2M921 1036v2M921 1052v2M921 1056v2M921 1060v10M921 1088v2M921 1092v2M921 1102v2M921 1112v2M923 884v2M923 904v4M923 910v2M923 918v14M923 934v2M923 960v2M923 966v18M923 986v4M923 1012v8M923 1062v2M923 1074v2M923 1088v10M923 1104v8M925 910v6M925 938v4M925 944v2M925 964v4M925 970v2M925 974v2M925 978v2M925 984v2M925 988v4M925 1010v6M925 1030v2M925 1042v6M925 1058v6M925 1124v2M927 940v4M927 946v2M927 950v2M927 968v2M927 972v2M927 976v2M927 982v2M927 986v2M927 1000v2M927 1006v8M927 1016v4M927 1022v2M927 1028v8M927 1046v6M927 1054v8M927 1078v6M927 1096v2M929 932v2M929 938v4M929 972v2M929 976v6M929 984v4M929 1004v6M929 1014v2M929 1022v6M929 1030v2M929 1034v6M929 1050v6M929 1064v2M929 1110v2M931 890v2M931 964v2M931 968v6M931 1000v2M931 1004v2M931 1008v2M931 1012v4M931 1020v4M931 1042v20M931 1070v8M931 1082v2M931 1088v2M931 1092v26M931 1164v2M933 874v2M933 880v2M933 940v2M933 946v6M933 968v2M933 974v4M933 980v2M933 984v10M933 996v2M933 1000v2M933 1010v4M933 1020v2M933 1026v4M933 1032v4M933 1038v2M933 1042v2M933 1054v4M933 1090v4M933 1106v2M933 1112v2M933 1144v2M933 1150v2M935 858v2M935 862v8M935 888v2M935 914v2M935 954v2M935 966v2M935 984v2M935 1010v2M935 1028v2M935 1040v2M935 1048v2M935 1052v4M935 1058v2M935 1064v2M935 1070v2M935 1074v2M935 1112v6M935 1120v2M935 1128v4M935 1138v2M937 868v2M937 872v2M937 962v2M937 968v2M937 978v4M937 998v6M937 1006v4M937 1012v2M937 1020v2M937 1026v4M937 1040v2M937 1046v2M937 1050v4M937 1056v10M937 1078v12M937 1138v2M939 874v2M939 882v2M939 886v2M939 930v2M939 952v2M939 978v8M939 994v4M939 1002v2M939 1014v2M939 1030v6M939 1038v4M941 904v2M941 930v2M941 944v2M941 984v2M941 988v4M941 994v2M941 1006v2M941 1010v4M941 1016v2M941 1038v2M941 1060v2M941 1108v4M943 894v4M943 900v6M943 920v2M943 928v2M943 966v2M943 970v6M943 988v4M943 994v8M943 1010v2M943 1024v4M943 1030v2M943 1052v2M943 1096v4M943 1144v4M945 866v2M945 872v2M945 888v2M945 892v2M945 900v2M945 906v4M945 948v2M945 956v2M945 960v2M945 972v2M945 976v6M945 984v2M945 1000v2M945 1008v8M945 1018v8M945 1040v2M945 1044v2M945 1048v2M945 1054v2M945 1058v4M945 1070v4M945 1078v2M945 1088v10M945 1126v2M945 1132v4M947 866v4M947 904v2M947 914v2M947 922v2M947 930v2M947 936v16M947 956v2M947 972v2M947 976v4M947 982v2M947 996v6M947 1006v2M947 1016v2M947 1020v2M947 1024v2M947 1028v2M947 1044v2M947 1050v4M947 1056v12M947 1090v2M947 1094v2M947 1102v2M949 854v2M949 910v4M949 916v2M949 924v10M949 964v2M949 980v4M949 986v2M949 990v6M949 998v2M949 1008v2M949 1018v4M949 1062v2M951 876v2M951 882v2M951 950v2M951 974v2M951 978v4M953 866v2M953 872v2M953 894v2M953 930v4M953 940v2M953 950v4M953 972v2M953 976v14M953 1064v2M953 1076v6M953 1110v2M953 1134v2M955 1074v2M955 1098v2M955 1104v4M955 1110v2M957 964v2M957 968v2M957 994v6M957 1052v12M957 1068v2M957 1076v2M957 1080v4M957 1090v2M959 884v2M959 960v2M959 968v4M959 974v4M959 1006v2M959 1012v2M959 1046v6M959 1068v2M959 1074v2M961 934v8M961 1002v2M961 1024v4M961 1030v2M961 1034v2M961 1038v2M961 1062v2M961 1066v2M961 1072v4M961 1096v4M963 884v2M963 892v4M963 958v4M963 964v2M963 970v8M963 1032v2M963 1036v6M963 1046v2M963 1050v2M963 1054v2M963 1058v2M963 1064v2M963 1082v6M963 1090v4M963 1098v2M963 1106v2M963 1110v2M965 896v8M965 920v2M965 934v4M965 956v6M965 986v8M965 996v4M965 1020v4M965 1050v4M965 1058v8M967 878v2M967 920v2M967 928v2M967 932v6M967 962v6M967 974v2M967 978v4M967 984v4M967 992v2M967 996v2M967 1026v2M967 1030v6M967 1038v2M967 1060v2M967 1112v2M967 1128v2M969 936v4M969 946v2M969 962v8M969 972v2M969 988v2M969 994v2M969 1006v2M969 1010v4M969 1016v4M969 1022v2M969 1070v4M969 1098v2M969 1102v4M971 930v10M971 948v2M971 958v2M971 964v2M971 986v2M971 990v6M971 998v2M971 1002v2M971 1010v6M971 1030v6M971 1038v8M971 1060v2M971 1082v6M971 1090v4M971 1106v4M973 938v2M973 954v4M973 960v2M973 964v4M973 970v4M973 1014v2M973 1022v2M973 1026v2M973 1042v2M973 1076v2M973 1080v2M973 1084v24M975 964v4M975 976v2M975 1008v2M975 1014v2M975 1074v2M975 1078v4M975 1088v2M975 1092v4M977 970v8M977 984v10M977 998v2M977 1002v4M977 1008v2M977 1012v2M977 1016v2M977 1024v2M977 1062v2M979 952v2M979 976v2M979 992v2M979 1008v2M979 1012v4M979 1026v2M979 1054v2M979 1084v8M981 1012v2M981 1016v2M983 930v2M983 1038v2M985 928v2M985 936v2M985 964v2M985 968v2M985 974v2M985 1036v2M985 1042v2M985 1090v2M987 960v4M987 968v2M987 976v2M987 980v2M989 960v2M989 1038v4M989 1044v2M989 1048v2M991 1020v2M991 1040v8M993 898v2M993 940v2M993 958v2M993 1010v4M993 1066v2M995 892v2M995 896v4M995 952v2M995 956v2M995 976v4M995 988v2M995 1008v2M995 1066v2M997 922v2M997 928v2M997 932v2M997 972v10M997 988v2M997 1040v2M997 1062v2M999 974v2M999 996v2M999 1048v2M1001 1030v2M1001 1052v2M1003 978v2M1003 982v2M1003 1006v2M1003 1108v4M1005 1042v2M1005 1094v2M1005 1098v2M1005 1112v4M1007 1044v2M1007 1048v4M1007 1098v4M1009 1040v2M1009 1070v2M1011 940v2M1011 1042v2M1013 992v6M1015 994v2M1015 1006v4M1019 1008v4M1019 1014v4M1019 1024v4M1019 1052v2M1019 1056v2M1019 1084v2M1021 1012v4M1021 1088v2M1023 1006v4M1027 948v2M1027 952v2M1029 1028v2M1053 1000v2M1053 1012v2" stroke="#3b6ea3" stroke-width="2" fill="none" shape-rendering="crispEdges"/>
<path d="M633 962v2M637 1116v4M643 944v2M643 1034v2M643 1038v2M645 1064v4M645 1070v4M647 894v2M647 944v2M647 1034v2M647 1080v4M647 1086v2M649 1010v2M651 936v2M659 1032v2M659 1076v2M663 896v2M663 988v2M663 1028v4M663 1050v2M665 1028v4M665 1034v4M665 1042v2M665 1064v2M665 1068v2M667 1032v6M667 1090v2M669 1004v2M669 1008v6M669 1028v2M669 1076v2M671 1014v4M671 1048v2M671 1088v2M671 1092v2M671 1102v2M673 896v2M673 934v2M673 1012v6M673 1078v4M673 1084v2M673 1108v2M673 1112v2M673 1118v2M673 1126v2M675 860v2M675 896v2M675 934v4M675 964v2M675 1036v2M675 1094v6M675 1102v4M675 1108v2M675 1114v2M677 936v4M677 944v2M677 954v2M677 962v4M677 984v2M677 1018v2M677 1022v6M677 1086v2M679 898v2M679 968v6M679 984v4M679 1010v2M679 1046v2M679 1062v6M679 1070v2M679 1090v2M679 1094v2M681 956v2M681 988v6M681 998v2M681 1018v2M681 1050v4M681 1078v2M681 1092v2M681 1108v4M681 1116v4M683 970v2M683 976v10M683 1000v2M683 1006v6M683 1022v2M683 1026v6M683 1036v14M683 1092v2M683 1102v2M683 1128v2M685 914v2M685 1046v2M685 1052v2M685 1144v2M685 1150v2M687 980v4M687 988v2M687 992v2M687 998v4M687 1006v2M687 1034v4M687 1040v6M687 1048v4M687 1056v2M687 1062v2M689 1094v2M691 996v2M691 1008v2M691 1012v2M691 1016v4M691 1022v2M691 1048v6M691 1056v14M691 1072v2M691 1116v4M693 984v2M693 992v2M693 1010v4M693 1016v8M693 1026v2M693 1078v4M695 932v2M695 956v8M695 970v2M695 1008v6M695 1030v2M695 1056v2M695 1082v2M695 1086v2M695 1090v2M697 900v2M697 942v2M697 966v6M697 990v2M697 1008v2M697 1012v6M697 1056v2M697 1066v2M697 1114v2M699 902v2M699 908v2M699 912v2M699 994v2M699 998v6M699 1008v2M699 1086v2M699 1090v6M699 1138v2M699 1142v6M699 1162v2M701 942v8M701 954v2M701 958v2M701 962v6M701 974v2M701 980v2M701 986v4M701 1004v4M701 1010v2M701 1018v4M701 1026v2M701 1038v2M701 1046v2M701 1050v4M701 1070v2M703 934v2M703 944v4M703 950v6M703 984v2M703 1000v2M703 1024v8M703 1042v6M703 1080v4M705 876v2M705 946v8M705 956v2M705 960v2M705 964v2M705 970v2M705 998v22M705 1046v4M705 1094v8M705 1104v4M705 1122v2M705 1130v2M707 952v2M707 962v4M707 968v2M707 972v2M707 976v2M707 992v2M707 1000v4M707 1006v6M707 1014v4M707 1022v2M707 1048v4M707 1054v6M707 1062v4M707 1068v2M707 1072v2M707 1076v2M707 1080v2M707 1084v4M707 1100v4M709 872v2M709 900v2M709 908v2M709 950v2M709 978v4M709 984v2M709 992v2M709 1002v4M709 1020v4M709 1026v2M709 1030v2M709 1034v4M709 1040v2M709 1044v2M709 1048v2M709 1052v10M709 1066v6M709 1074v2M709 1110v4M709 1116v2M709 1138v4M711 966v2M711 970v4M711 976v2M711 986v4M711 1000v2M711 1006v2M711 1012v4M711 1018v2M711 1038v4M711 1046v2M711 1060v2M711 1066v4M711 1082v4M711 1088v4M711 1094v2M711 1098v2M711 1120v2M713 890v2M713 894v6M713 938v2M713 942v2M713 946v2M713 950v10M713 988v2M713 998v6M713 1006v6M713 1014v8M713 1058v4M713 1070v2M713 1074v2M713 1102v4M713 1108v2M713 1124v6M713 1134v2M713 1138v2M715 906v2M715 916v4M715 930v6M715 960v2M715 1012v2M715 1016v2M715 1020v2M715 1058v2M715 1064v2M715 1068v4M715 1108v4M715 1114v4M715 1126v2M715 1130v2M715 1138v2M717 870v6M717 902v4M717 908v4M717 960v2M717 966v2M717 972v2M717 976v6M717 984v2M717 1012v10M717 1024v4M717 1032v8M717 1042v2M717 1074v2M717 1090v6M719 888v6M719 924v2M719 942v2M719 948v2M719 952v2M719 960v2M719 966v4M719 972v4M719 978v2M719 984v2M719 988v6M719 998v2M719 1008v8M719 1018v4M719 1024v6M719 1032v4M719 1040v2M719 1054v12M719 1072v8M719 1096v2M719 1100v4M719 1106v6M719 1132v2M721 876v6M721 886v2M721 900v2M721 906v4M721 950v4M721 958v4M721 974v2M721 982v2M721 986v2M721 994v2M721 1022v10M721 1034v2M721 1038v2M721 1042v2M721 1056v2M721 1160v2M723 948v2M723 954v2M723 994v4M723 1010v6M723 1018v8M723 1034v2M723 1040v10M723 1108v2M725 932v2M725 956v2M725 968v4M725 974v2M725 1024v2M725 1028v2M725 1044v2M725 1050v2M725 1066v6M725 1074v2M725 1078v2M725 1096v2M725 1108v2M725 1112v2M725 1134v2M725 1138v2M727 878v2M727 966v4M727 972v2M727 1010v2M727 1026v6M727 1034v12M727 1062v4M727 1070v2M727 1080v6M727 1090v6M727 1098v4M727 1104v6M727 1118v2M727 1122v2M727 1126v2M729 946v4M729 964v2M729 968v4M729 988v2M729 1004v4M729 1010v2M729 1016v2M729 1020v4M729 1038v4M729 1044v8M729 1060v4M729 1066v16M729 1086v4M729 1094v4M729 1100v2M729 1104v2M729 1180v2M731 868v2M731 874v2M731 936v2M731 960v8M731 978v2M731 982v4M731 990v6M731 1004v2M731 1018v2M731 1022v2M731 1026v4M731 1042v10M731 1054v2M731 1058v2M731 1064v6M731 1072v2M731 1180v2M731 1214v2M733 902v4M733 926v2M733 940v16M733 960v2M733 998v4M733 1016v2M733 1020v4M733 1026v2M733 1030v10M733 1042v2M733 1066v2M733 1070v4M733 1078v4M733 1100v8M733 1178v2M735 896v2M735 904v2M735 908v6M735 916v2M735 944v8M735 954v2M735 966v6M735 976v2M735 980v2M735 984v2M735 998v4M735 1004v4M735 1022v4M735 1034v2M735 1040v6M735 1048v2M735 1088v2M735 1096v2M735 1110v2M735 1118v8M735 1128v4M735 1154v2M737 860v2M737 892v8M737 904v2M737 908v4M737 920v2M737 924v2M737 936v4M737 944v2M737 964v4M737 980v12M737 996v2M737 1000v4M737 1012v6M737 1028v2M737 1032v10M737 1044v4M737 1050v6M737 1060v2M737 1114v2M737 1118v2M737 1134v2M737 1142v2M737 1148v2M737 1160v2M737 1168v2M737 1178v2M739 878v4M739 886v4M739 924v2M739 938v2M739 948v6M739 958v4M739 964v2M739 968v8M739 982v10M739 994v2M739 998v10M739 1026v10M739 1042v6M739 1054v4M739 1060v6M739 1068v4M739 1074v2M739 1084v10M739 1118v4M741 890v8M741 900v6M741 908v4M741 946v2M741 962v2M741 990v4M741 996v2M741 1030v2M741 1034v2M741 1054v4M741 1068v4M741 1074v2M743 958v2M743 966v2M743 978v8M743 994v2M743 1000v2M743 1004v6M743 1030v2M743 1034v2M743 1038v2M743 1052v2M743 1056v2M743 1060v4M743 1066v4M743 1072v2M743 1076v2M743 1098v2M743 1104v2M743 1108v2M745 912v12M745 960v2M745 964v4M745 972v2M745 1004v2M745 1010v2M745 1024v6M745 1040v6M745 1050v2M745 1072v4M745 1078v2M745 1084v6M745 1092v4M745 1100v2M745 1112v8M747 872v2M747 876v2M747 888v2M747 894v2M747 920v4M747 930v2M747 934v2M747 940v2M747 944v10M747 962v2M747 966v2M747 970v2M747 974v8M747 984v4M747 1000v4M747 1010v2M747 1024v6M747 1036v2M747 1042v2M747 1062v10M747 1074v12M747 1088v2M747 1094v6M747 1126v2M747 1192v2M749 910v2M749 948v2M749 954v4M749 962v10M749 978v2M749 992v8M749 1002v12M749 1024v2M749 1028v2M749 1032v6M749 1042v4M749 1050v2M749 1058v4M749 1066v12M749 1092v6M749 1100v2M749 1116v2M749 1120v8M751 962v4M751 984v4M751 1006v2M751 1018v2M751 1028v4M751 1050v6M751 1058v2M751 1082v4M751 1092v2M751 1096v2M751 1104v4M751 1142v4M751 1148v4M753 822v2M753 894v2M753 900v2M753 904v2M753 908v4M753 928v10M753 952v4M753 960v2M753 968v4M753 974v2M753 980v2M753 984v2M753 988v2M753 992v2M753 1006v2M753 1012v2M753 1028v2M753 1032v4M753 1050v8M753 1060v2M753 1070v4M753 1086v4M753 1094v6M753 1152v6M753 1160v2M755 894v2M755 932v2M755 940v2M755 974v14M755 1002v4M755 1016v2M755 1020v2M755 1024v8M755 1034v2M755 1040v2M755 1046v4M755 1072v2M755 1076v4M755 1088v6M755 1096v2M755 1130v2M755 1134v2M755 1178v2M757 824v2M757 850v2M757 894v2M757 902v4M757 918v2M757 930v10M757 948v4M757 954v2M757 972v6M757 980v4M757 998v2M757 1008v10M757 1020v2M757 1024v2M757 1030v2M757 1034v4M757 1042v12M757 1060v2M757 1070v8M757 1092v2M757 1108v4M757 1114v8M757 1124v2M757 1150v6M759 890v2M759 894v2M759 902v2M759 934v4M759 944v2M759 948v2M759 968v4M759 976v6M759 1002v6M759 1012v6M759 1020v2M759 1026v2M759 1030v4M759 1050v6M759 1060v4M759 1080v4M759 1086v2M759 1092v6M759 1100v2M759 1124v10M759 1136v4M759 1150v2M759 1154v6M761 878v2M761 884v6M761 894v2M761 904v8M761 914v4M761 920v8M761 938v2M761 944v4M761 966v2M761 972v6M761 980v2M761 986v2M761 990v2M761 994v4M761 1000v2M761 1006v2M761 1014v2M761 1022v2M761 1030v2M761 1040v2M761 1050v2M761 1060v10M761 1084v2M761 1092v2M761 1096v2M761 1100v4M761 1116v2M763 884v2M763 910v2M763 916v2M763 932v4M763 950v4M763 956v2M763 964v10M763 998v6M763 1036v4M763 1046v2M763 1062v2M763 1090v2M763 1094v2M763 1126v2M765 830v2M765 838v2M765 922v2M765 936v4M765 942v4M765 948v8M765 960v10M765 978v2M765 992v2M765 1000v2M765 1004v2M765 1008v4M765 1014v4M765 1022v8M765 1032v4M765 1040v8M765 1070v4M765 1084v2M765 1090v2M765 1098v4M765 1104v2M765 1112v4M765 1148v4M765 1154v2M765 1160v2M767 876v2M767 888v2M767 898v14M767 920v4M767 926v8M767 948v4M767 962v2M767 966v6M767 982v8M767 992v6M767 1004v4M767 1022v4M767 1040v4M767 1062v8M767 1080v2M767 1086v2M767 1090v2M767 1104v2M767 1112v2M767 1116v4M769 814v2M769 876v2M769 882v2M769 888v4M769 894v2M769 898v2M769 922v2M769 928v2M769 942v2M769 954v8M769 972v4M769 980v2M769 984v4M769 990v6M769 1004v2M769 1022v2M769 1028v2M769 1036v2M769 1040v4M769 1048v2M769 1052v2M769 1060v2M769 1064v10M769 1078v2M769 1086v4M769 1122v6M769 1130v2M769 1146v2M769 1154v2M769 1164v2M769 1170v2M771 844v2M771 850v2M771 874v2M771 898v2M771 908v2M771 912v2M771 916v2M771 934v2M771 938v2M771 964v2M771 968v2M771 986v2M771 1024v4M771 1034v4M771 1046v2M771 1050v6M771 1070v2M771 1074v8M771 1094v6M771 1104v12M771 1122v2M773 884v6M773 894v8M773 940v2M773 946v6M773 960v6M773 972v6M773 982v2M773 986v2M773 990v2M773 994v2M773 1008v2M773 1016v6M773 1028v4M773 1034v2M773 1044v2M773 1050v8M773 1062v4M773 1068v6M773 1084v2M773 1110v2M773 1134v4M773 1142v2M773 1168v4M775 914v20M775 944v2M775 950v2M775 956v2M775 972v4M775 978v8M775 988v2M775 1000v2M775 1004v4M775 1024v2M775 1042v4M775 1054v2M775 1060v8M775 1070v2M775 1078v6M775 1086v2M775 1124v2M775 1140v10M775 1196v2M777 914v6M777 924v4M777 938v2M777 942v2M777 976v2M777 980v10M777 992v2M777 1008v2M777 1012v4M777 1018v2M777 1022v2M777 1032v6M777 1046v2M777 1054v8M777 1064v4M777 1070v4M777 1102v6M777 1122v2M779 958v2M779 964v6M779 972v8M779 986v12M779 1006v6M779 1056v14M779 1074v4M779 1080v2M779 1104v6M779 1112v4M781 894v2M781 958v10M781 970v2M781 976v2M781 1004v2M781 1008v6M781 1030v6M781 1040v4M781 1046v4M781 1054v2M781 1062v4M781 1072v14M781 1088v4M781 1094v4M781 1106v2M781 1120v2M781 1128v6M781 1144v2M781 1150v6M783 850v2M783 902v4M783 912v6M783 920v2M783 924v2M783 936v8M783 954v6M783 962v2M783 972v6M783 982v2M783 986v4M783 998v4M783 1006v2M783 1010v2M783 1014v2M783 1024v4M783 1038v4M783 1066v2M783 1070v6M783 1078v4M783 1084v2M783 1096v2M783 1118v2M783 1138v8M783 1152v4M785 852v2M785 860v2M785 864v2M785 870v2M785 920v4M785 948v4M785 954v2M785 958v2M785 964v4M785 970v10M785 982v4M785 988v2M785 1014v6M785 1044v8M785 1054v4M785 1062v4M785 1074v2M785 1080v2M785 1084v4M785 1092v4M785 1098v2M785 1102v4M785 1108v4M785 1128v4M785 1140v6M785 1150v2M785 1170v2M785 1174v2M785 1178v2M785 1182v4M787 842v2M787 862v2M787 888v2M787 900v8M787 910v2M787 916v6M787 924v8M787 942v2M787 946v8M787 970v4M787 976v2M787 990v2M787 994v2M787 998v6M787 1008v4M787 1014v4M787 1020v2M787 1024v2M787 1036v2M787 1040v4M787 1052v2M787 1058v8M787 1068v2M787 1080v2M787 1094v2M789 842v6M789 864v4M789 870v2M789 886v2M789 896v2M789 910v4M789 918v2M789 926v2M789 932v10M789 950v2M789 966v2M789 974v2M789 982v2M789 988v2M789 996v6M789 1004v8M789 1022v2M789 1040v2M789 1044v2M789 1048v8M789 1058v2M789 1068v2M789 1072v2M789 1076v6M789 1088v4M789 1120v2M789 1124v4M789 1130v2M791 874v2M791 894v2M791 900v2M791 906v2M791 910v2M791 914v4M791 930v6M791 938v4M791 944v4M791 954v4M791 960v4M791 966v4M791 972v6M791 986v6M791 994v14M791 1010v2M791 1024v2M791 1028v4M791 1054v16M791 1072v6M791 1080v2M791 1096v2M791 1102v6M791 1114v2M791 1122v10M791 1134v2M791 1138v2M793 892v4M793 910v6M793 930v6M793 954v2M793 958v2M793 966v6M793 980v2M793 986v4M793 1004v6M793 1012v6M793 1024v2M793 1032v4M793 1038v6M793 1046v6M793 1058v2M793 1066v10M793 1080v2M793 1092v2M793 1100v12M793 1122v2M795 852v2M795 890v2M795 896v2M795 938v2M795 946v6M795 954v4M795 960v8M795 980v2M795 986v4M795 992v2M795 996v2M795 1008v4M795 1060v2M795 1066v4M795 1072v4M795 1078v2M795 1082v12M795 1100v2M795 1104v2M795 1108v2M797 892v4M797 900v2M797 904v6M797 930v2M797 934v4M797 942v2M797 954v6M797 978v2M797 1000v12M797 1014v6M797 1022v4M797 1028v2M797 1044v6M797 1052v6M797 1060v10M797 1072v8M797 1084v6M797 1110v4M797 1118v6M799 912v4M799 928v2M799 932v6M799 940v2M799 944v2M799 948v2M799 968v4M799 976v4M799 996v2M799 1012v2M799 1020v2M799 1034v2M799 1044v4M799 1054v8M799 1072v12M799 1086v4M799 1092v4M799 1172v2M801 880v8M801 890v6M801 936v6M801 952v4M801 986v2M801 992v8M801 1016v2M801 1036v2M801 1040v2M801 1046v4M801 1060v8M801 1070v6M801 1078v2M801 1084v2M801 1110v2M803 890v10M803 916v4M803 922v2M803 926v4M803 934v8M803 944v4M803 950v2M803 976v4M803 982v2M803 994v4M803 1000v4M803 1018v4M803 1036v4M803 1050v4M803 1056v2M803 1060v10M803 1072v2M803 1076v6M803 1084v6M803 1096v2M803 1108v2M803 1134v2M803 1140v6M803 1150v4M803 1156v2M805 876v2M805 880v4M805 890v10M805 916v10M805 942v2M805 946v2M805 950v2M805 954v4M805 964v2M805 970v2M805 978v2M805 998v6M805 1006v4M805 1016v2M805 1028v2M805 1032v2M805 1050v4M805 1056v6M805 1078v2M805 1090v8M805 1126v2M805 1132v6M807 852v2M807 898v4M807 912v2M807 922v4M807 928v6M807 936v2M807 942v6M807 986v2M807 990v2M807 1014v16M807 1032v2M807 1058v2M807 1066v6M807 1074v2M807 1078v6M807 1132v2M809 880v2M809 918v2M809 922v2M809 928v4M809 940v6M809 950v2M809 964v4M809 984v8M809 994v2M809 1014v2M809 1018v12M809 1056v2M809 1060v2M809 1064v6M809 1072v4M809 1090v2M811 886v2M811 890v2M811 894v2M811 916v4M811 952v2M811 956v4M811 962v2M811 978v2M811 982v2M811 990v2M811 1010v2M811 1020v14M811 1036v2M811 1044v2M811 1048v2M811 1052v2M811 1068v2M811 1074v4M811 1082v4M811 1092v2M811 1138v2M813 862v6M813 882v4M813 954v4M813 970v2M813 978v4M813 994v6M813 1002v2M813 1014v2M813 1022v6M813 1034v2M813 1042v4M813 1058v2M813 1098v10M813 1118v2M813 1124v8M815 886v8M815 916v2M815 926v2M815 930v12M815 948v4M815 954v2M815 962v2M815 966v2M815 972v2M815 976v2M815 992v4M815 998v2M815 1006v10M815 1018v2M815 1026v4M815 1042v8M815 1074v4M815 1102v2M815 1106v2M815 1114v2M815 1118v2M817 900v6M817 908v2M817 918v4M817 930v2M817 934v6M817 946v2M817 952v2M817 982v2M817 992v6M817 1000v2M817 1012v4M817 1018v20M817 1040v4M817 1048v2M817 1052v2M817 1056v2M817 1066v10M817 1078v6M817 1092v6M817 1102v4M817 1108v8M817 1136v4M819 834v2M819 880v2M819 908v4M819 914v2M819 924v2M819 934v6M819 944v18M819 980v6M819 990v10M819 1004v2M819 1014v2M819 1018v6M819 1032v2M819 1036v2M819 1040v2M819 1082v2M819 1112v2M821 850v2M821 874v2M821 886v6M821 894v4M821 918v6M821 926v4M821 934v2M821 944v6M821 952v2M821 956v2M821 968v6M821 982v8M821 992v4M821 1000v8M821 1018v4M821 1040v6M821 1062v2M821 1066v2M821 1070v2M821 1094v2M821 1116v2M821 1122v4M823 840v2M823 888v2M823 894v4M823 902v12M823 930v4M823 948v10M823 960v12M823 1010v2M823 1014v2M823 1020v2M823 1028v2M823 1036v2M823 1052v4M823 1074v6M823 1084v2M823 1104v12M823 1118v4M823 1124v2M823 1128v4M825 868v4M825 874v6M825 930v4M825 938v2M825 942v2M825 952v2M825 956v4M825 964v2M825 978v4M825 998v4M825 1020v2M825 1036v2M825 1062v6M825 1070v2M825 1076v10M825 1098v4M825 1104v2M825 1108v4M825 1114v6M825 1124v8M825 1134v4M827 960v4M827 966v2M827 970v2M827 974v4M827 980v4M827 986v6M827 1002v4M827 1008v2M827 1012v2M827 1018v8M827 1032v4M827 1040v2M827 1048v2M827 1054v2M827 1080v4M827 1088v2M827 1168v2M829 906v6M829 920v4M829 926v2M829 930v6M829 968v2M829 1008v2M829 1020v2M829 1024v4M829 1030v2M829 1034v2M829 1048v4M829 1056v4M829 1062v4M829 1078v4M829 1084v4M829 1090v4M829 1122v6M829 1130v6M829 1138v2M829 1144v6M831 882v2M831 886v2M831 892v2M831 900v2M831 920v2M831 930v2M831 940v2M831 954v4M831 964v4M831 970v6M831 982v4M831 992v2M831 1016v2M831 1024v4M831 1030v4M831 1072v2M831 1100v4M831 1106v2M831 1110v4M831 1116v6M831 1124v2M831 1128v2M831 1136v2M833 836v6M833 890v2M833 926v6M833 934v4M833 942v2M833 946v4M833 958v4M833 964v2M833 976v4M833 988v12M833 1006v4M833 1014v8M833 1024v2M833 1034v2M833 1040v4M833 1048v2M833 1052v6M833 1064v12M833 1078v2M833 1088v4M833 1108v2M833 1112v8M833 1130v2M833 1148v4M833 1154v2M833 1158v2M833 1162v4M833 1184v2M833 1190v2M833 1196v6M835 874v2M835 898v2M835 928v2M835 932v4M835 952v2M835 970v4M835 994v2M835 1018v10M835 1032v4M835 1040v4M835 1050v2M835 1058v2M835 1062v4M835 1072v2M835 1076v2M835 1084v2M835 1110v4M835 1172v2M835 1180v2M837 900v2M837 904v8M837 916v4M837 932v6M837 948v2M837 952v4M837 964v2M837 968v2M837 974v4M837 984v2M837 988v4M837 994v2M837 998v2M837 1038v4M837 1070v6M837 1088v14M837 1104v4M837 1110v4M837 1116v2M837 1126v10M837 1142v2M837 1146v2M839 878v2M839 882v2M839 890v2M839 896v2M839 900v8M839 912v6M839 920v14M839 936v2M839 948v2M839 954v4M839 972v2M839 976v2M839 980v4M839 1000v4M839 1018v4M839 1036v4M839 1044v10M839 1058v4M839 1068v2M839 1076v6M839 1084v6M839 1094v2M839 1104v2M839 1138v4M839 1144v12M841 880v2M841 884v10M841 908v8M841 918v6M841 926v8M841 950v4M841 958v6M841 966v2M841 974v4M841 994v8M841 1006v2M841 1010v2M841 1016v2M841 1020v8M841 1032v2M841 1036v2M841 1040v4M841 1066v6M841 1082v6M841 1092v2M841 1096v2M841 1112v4M841 1120v4M841 1130v2M843 852v2M843 886v4M843 892v2M843 926v2M843 948v10M843 976v2M843 980v2M843 984v2M843 992v4M843 1006v2M843 1010v10M843 1050v8M843 1070v2M843 1074v2M843 1078v8M843 1088v4M843 1098v4M843 1112v2M843 1160v2M845 860v2M845 880v4M845 886v2M845 904v4M845 910v2M845 918v4M845 928v2M845 932v6M845 956v10M845 968v10M845 1010v8M845 1022v2M845 1030v2M845 1042v14M845 1060v2M845 1072v2M845 1076v4M845 1082v4M845 1092v2M845 1096v2M845 1100v2M845 1104v6M845 1112v4M845 1118v2M845 1122v4M845 1132v2M845 1136v6M847 828v2M847 866v4M847 872v2M847 920v6M847 930v4M847 936v2M847 944v6M847 954v10M847 968v2M847 982v2M847 986v2M847 1006v2M847 1010v4M847 1020v2M847 1024v4M847 1048v2M847 1056v2M847 1064v2M847 1068v6M847 1078v2M847 1112v2M849 908v6M849 924v2M849 928v4M849 964v2M849 974v2M849 978v2M849 984v2M849 1004v2M849 1010v2M849 1020v12M849 1042v2M849 1046v12M849 1060v2M849 1066v4M849 1100v2M849 1104v4M849 1110v2M851 858v2M851 866v4M851 886v6M851 898v2M851 910v4M851 918v4M851 932v2M851 938v2M851 954v2M851 960v2M851 976v10M851 988v2M851 1006v6M851 1014v2M851 1022v2M851 1040v2M851 1082v2M851 1114v2M851 1136v2M851 1184v2M853 832v2M853 908v8M853 918v8M853 930v2M853 936v2M853 940v6M853 950v4M853 956v4M853 964v2M853 974v4M853 980v2M853 984v4M853 992v2M853 996v8M853 1010v4M853 1016v16M853 1036v2M853 1060v2M853 1064v2M853 1074v4M853 1090v4M853 1096v2M853 1100v4M853 1106v4M855 866v2M855 882v2M855 888v6M855 898v2M855 908v12M855 924v12M855 942v6M855 954v6M855 962v2M855 984v6M855 1000v2M855 1004v2M855 1008v4M855 1014v4M855 1032v2M855 1042v14M855 1058v2M855 1064v2M855 1068v8M855 1086v6M855 1148v4M857 896v2M857 904v2M857 912v20M857 934v2M857 938v18M857 964v2M857 980v2M857 984v2M857 988v2M857 1000v2M857 1006v8M857 1016v10M857 1036v6M857 1044v6M857 1074v4M857 1084v4M857 1104v4M857 1112v2M857 1158v2M859 910v6M859 918v2M859 922v6M859 934v4M859 952v2M859 980v2M859 990v2M859 994v2M859 998v6M859 1016v2M859 1024v4M859 1056v2M859 1100v2M859 1104v2M859 1120v4M859 1126v4M859 1132v4M861 884v2M861 934v2M861 940v2M861 948v2M861 962v2M861 966v2M861 974v2M861 990v2M861 994v2M861 1004v2M861 1008v2M861 1012v22M861 1038v8M861 1048v4M861 1062v2M861 1066v2M861 1100v2M861 1104v8M863 894v14M863 926v2M863 954v10M863 974v2M863 978v2M863 984v8M863 994v6M863 1002v4M863 1016v4M863 1026v2M863 1030v2M863 1074v12M863 1140v2M863 1152v2M863 1158v2M865 870v2M865 880v2M865 884v2M865 922v2M865 926v4M865 942v4M865 950v8M865 978v2M865 982v6M865 1014v4M865 1038v4M865 1048v10M865 1060v8M865 1074v2M865 1080v4M865 1088v6M865 1096v2M865 1102v2M865 1124v2M865 1128v6M865 1142v2M867 884v10M867 896v2M867 900v4M867 908v4M867 950v4M867 964v2M867 970v2M867 974v8M867 990v4M867 996v2M867 1014v6M867 1032v4M867 1038v2M867 1056v2M867 1060v2M867 1080v2M867 1088v4M867 1094v2M867 1138v8M867 1198v2M869 868v2M869 900v6M869 908v2M869 912v12M869 930v2M869 936v6M869 966v8M869 1000v2M869 1004v8M869 1016v8M869 1028v14M869 1050v2M869 1076v6M869 1098v4M871 866v2M871 888v2M871 898v6M871 906v2M871 940v2M871 946v2M871 950v4M871 960v2M871 968v2M871 972v2M871 1006v2M871 1010v8M871 1036v4M871 1048v2M871 1052v4M871 1058v2M871 1074v4M871 1080v2M871 1084v6M871 1092v12M871 1138v4M873 876v2M873 932v10M873 944v4M873 950v2M873 988v4M873 994v2M873 1000v2M873 1026v6M873 1036v2M873 1050v2M873 1058v2M873 1082v2M873 1086v4M873 1098v2M873 1110v6M873 1130v4M873 1140v4M873 1172v2M875 880v2M875 918v4M875 926v2M875 930v2M875 934v2M875 964v2M875 968v6M875 976v2M875 980v4M875 1000v2M875 1004v4M875 1010v2M875 1034v6M875 1042v10M875 1058v2M875 1074v2M875 1090v2M875 1108v2M875 1120v6M875 1132v2M877 878v2M877 938v4M877 946v4M877 970v6M877 980v6M877 1004v4M877 1010v4M877 1016v10M877 1028v2M877 1050v2M877 1062v2M877 1068v4M877 1074v2M877 1080v4M877 1086v10M877 1108v2M877 1116v2M877 1124v2M877 1128v2M877 1132v2M879 906v2M879 910v4M879 916v2M879 964v2M879 968v2M879 972v2M879 998v4M879 1004v2M879 1010v2M879 1014v2M879 1020v2M879 1024v4M879 1030v4M879 1042v8M879 1096v4M879 1118v2M879 1128v2M879 1134v2M879 1138v2M879 1146v2M879 1152v2M879 1158v2M879 1164v2M881 836v2M881 888v6M881 924v4M881 936v2M881 940v2M881 944v2M881 948v8M881 982v4M881 988v10M881 1000v6M881 1008v8M881 1026v4M881 1036v2M881 1044v2M881 1050v6M881 1066v2M881 1070v6M881 1080v2M881 1104v2M881 1108v4M881 1116v4M881 1136v6M881 1166v2M883 906v2M883 912v6M883 958v6M883 976v2M883 980v2M883 986v2M883 1008v6M883 1016v2M883 1056v2M883 1060v2M883 1066v4M883 1074v4M883 1112v4M883 1136v6M883 1144v2M885 898v2M885 920v4M885 926v4M885 948v2M885 952v8M885 962v2M885 972v2M885 976v2M885 986v8M885 1008v10M885 1024v12M885 1040v8M885 1098v4M885 1104v2M887 864v2M887 920v2M887 926v2M887 930v4M887 936v6M887 946v2M887 950v2M887 978v2M887 990v2M887 994v2M887 1002v2M887 1010v4M887 1028v8M887 1042v14M887 1074v6M887 1082v2M887 1090v2M887 1094v6M887 1102v2M887 1122v2M887 1136v2M887 1144v2M889 864v2M889 944v8M889 954v4M889 962v2M889 976v8M889 1008v2M889 1012v4M889 1018v2M889 1024v2M889 1034v2M889 1038v4M889 1044v2M889 1060v2M889 1084v4M889 1122v4M889 1128v2M889 1134v2M891 958v2M891 966v2M891 990v2M891 996v2M891 1032v6M891 1048v2M891 1052v4M891 1122v2M891 1128v2M891 1132v2M891 1140v6M893 898v2M893 922v4M893 948v2M893 954v2M893 958v2M893 988v6M893 996v4M893 1018v2M893 1022v4M893 1036v2M893 1044v4M893 1054v2M893 1060v6M893 1068v2M893 1074v4M893 1082v2M893 1094v4M893 1102v8M893 1114v4M893 1122v6M893 1130v4M893 1136v2M895 982v6M895 1014v2M895 1022v14M895 1054v6M895 1080v2M897 906v4M897 932v2M897 962v2M897 966v22M897 990v2M897 996v4M897 1004v12M897 1018v2M897 1038v10M897 1060v2M897 1068v2M897 1080v2M897 1084v6M897 1092v2M897 1096v4M897 1102v2M899 894v2M899 922v2M899 936v2M899 940v2M899 952v2M899 956v6M899 964v2M899 994v2M899 998v2M899 1002v2M899 1010v6M899 1018v12M899 1034v4M899 1062v4M899 1070v2M899 1082v2M899 1094v4M899 1104v4M899 1136v2M901 910v4M901 924v4M901 930v2M901 934v4M901 950v6M901 960v2M901 964v2M901 968v10M901 994v2M901 1006v6M901 1014v6M901 1040v6M901 1060v2M901 1094v4M901 1128v2M903 922v2M903 930v4M903 938v12M903 952v2M903 968v2M903 974v8M903 988v2M903 1008v4M903 1030v4M903 1038v2M903 1050v4M903 1060v8M903 1080v12M903 1114v4M903 1122v4M903 1128v12M905 880v2M905 888v4M905 908v2M905 914v6M905 922v4M905 976v2M905 982v2M905 996v2M905 1000v6M905 1008v2M905 1026v6M905 1054v2M905 1068v2M905 1076v2M905 1084v2M905 1114v4M905 1120v4M905 1142v2M907 864v2M907 890v4M907 896v4M907 936v2M907 940v2M907 946v4M907 956v20M907 980v2M907 990v2M907 1006v4M907 1012v2M907 1016v4M907 1058v2M907 1062v6M907 1128v2M907 1134v2M909 892v2M909 896v2M909 920v2M909 924v2M909 930v4M909 992v4M909 1002v6M909 1012v10M909 1034v4M909 1052v2M909 1056v2M909 1062v6M909 1076v2M909 1080v2M911 924v12M911 960v2M911 964v2M911 984v2M911 1010v18M911 1030v4M911 1046v2M911 1050v2M911 1072v2M911 1076v2M913 904v2M913 908v2M913 912v2M913 946v4M913 952v2M913 964v2M913 976v10M913 992v6M913 1004v2M913 1028v2M913 1032v8M913 1058v4M913 1070v8M915 926v8M915 948v2M915 962v2M915 970v8M915 1002v6M915 1010v6M915 1100v6M915 1150v4M917 920v2M917 932v2M917 936v2M917 950v2M917 964v4M917 972v2M917 986v6M917 996v2M917 1002v4M917 1030v2M917 1034v4M917 1040v2M917 1044v2M917 1048v2M917 1052v8M917 1062v2M917 1072v2M917 1090v2M917 1100v2M917 1104v2M919 918v2M919 932v2M919 936v2M919 958v2M919 976v2M919 980v4M919 986v2M919 1000v2M919 1006v2M919 1014v2M919 1018v2M919 1022v2M919 1028v2M919 1088v2M919 1092v4M919 1130v4M919 1156v2M921 932v2M921 960v2M921 964v6M921 972v2M921 980v2M921 998v6M921 1010v2M921 1014v8M921 1050v2M921 1054v2M921 1058v2M921 1070v2M921 1086v2M921 1090v2M921 1114v2M921 1158v8M923 932v2M923 984v2M923 994v4M923 1002v2M923 1006v2M923 1010v2M923 1048v4M923 1060v2M925 942v2M925 946v2M925 968v2M925 972v2M925 976v2M925 980v4M925 986v2M925 992v6M925 1000v10M925 1016v2M925 1020v6M925 1028v2M925 1034v8M925 1064v6M927 952v4M927 960v8M927 980v2M927 984v2M927 998v2M927 1014v2M927 1020v2M927 1024v4M927 1062v2M927 1066v6M929 942v2M929 956v2M929 1010v4M929 1016v4M929 1028v2M929 1032v2M929 1060v2M931 940v2M931 948v4M931 974v12M931 992v4M931 998v2M931 1002v2M931 1006v2M931 1024v4M931 1030v2M931 1040v2M931 1062v8M931 1078v4M931 1086v2M931 1090v2M933 1040v2M933 1048v2M933 1052v2M933 1100v6M935 854v2M935 870v2M935 916v6M935 952v2M935 956v2M935 962v4M935 968v4M935 982v2M935 1012v2M935 1016v2M935 1024v4M935 1030v4M935 1036v2M935 1042v6M935 1050v2M935 1072v2M935 1076v10M935 1088v4M935 1122v6M937 964v2M937 982v6M937 992v6M937 1022v4M937 1030v2M937 1044v2M937 1048v2M937 1054v2M937 1066v4M937 1076v2M939 976v2M939 998v2M939 1004v10M939 1018v2M939 1074v2M941 992v2M941 996v4M941 1002v4M941 1008v2M941 1014v2M941 1040v2M943 898v2M943 1002v8M943 1042v4M943 1048v4M943 1094v2M945 902v4M945 910v2M945 970v2M945 974v2M945 982v2M945 988v2M945 994v6M945 1034v6M945 1042v2M945 1046v2M945 1050v4M945 1056v2M945 1062v4M945 1074v4M947 870v2M947 958v2M947 970v2M947 974v2M947 984v10M947 1018v2M947 1022v2M947 1030v4M947 1040v4M947 1054v2M949 934v2M949 988v2M949 1012v6M953 870v2M953 946v4M953 974v2M957 1064v2M959 1066v2M959 1070v4M961 946v2M961 1028v2M961 1032v2M961 1068v4M963 890v2M963 968v2M963 1024v8M963 1034v2M963 1044v2M963 1052v2M963 1056v2M963 1096v2M963 1100v2M963 1104v2M965 894v2M965 926v8M965 1018v2M965 1054v2M967 938v2M967 968v2M967 982v2M967 994v2M967 998v6M969 940v6M969 1108v2M971 940v4M971 1016v2M971 1022v8M973 958v2M973 962v2M973 968v2M973 1082v2M975 968v8M975 1006v2M975 1084v2M977 1028v2M979 920v2M979 1010v2M979 1076v2M979 1080v2M981 1006v4M983 1034v2M987 966v2M993 896v2M995 980v6M997 984v2M1001 1026v4M1003 972v2M1003 1052v2M1005 1102v2M1005 1106v2M1007 1046v2M1007 1052v2M1015 998v2M1019 928v2M1019 1012v2M1019 1018v2M1019 1044v8M1023 1004v2M1023 1012v4" stroke="#367aad" stroke-width="2" fill="none" shape-rendering="crispEdges"/>
<path d="M665 1032v2M671 1078v8M677 956v6M677 982v2M679 1092v2M681 994v4M681 1112v4M683 1024v2M687 984v4M689 1096v4M691 998v2M691 1006v2M691 1010v2M691 1014v2M693 1014v2M695 964v6M697 964v2M697 1010v2M697 1060v2M701 950v4M701 956v2M701 960v2M701 1032v2M701 1048v2M703 956v2M705 994v2M707 1004v2M707 1012v2M707 1078v2M707 1082v2M709 906v2M709 1042v2M711 1010v2M711 1044v2M711 1048v2M711 1062v4M711 1070v12M711 1096v2M713 944v2M713 1068v2M713 1132v2M715 908v2M715 912v4M715 1054v4M715 1066v2M715 1106v2M715 1112v2M717 906v2M717 1022v2M717 1028v4M717 1040v2M719 946v2M719 976v2M719 980v4M719 986v2M719 994v4M719 1000v8M719 1016v2M719 1022v2M719 1030v2M719 1036v2M719 1066v6M719 1080v2M719 1104v2M721 954v4M721 1046v4M721 1054v2M721 1058v2M723 1036v4M725 922v2M725 972v2M725 1022v2M725 1026v2M725 1046v4M725 1072v2M727 974v2M727 1066v2M727 1072v2M727 1086v4M727 1096v2M727 1120v2M727 1124v2M729 950v6M729 1014v2M729 1018v2M729 1036v2M729 1042v2M729 1064v2M729 1082v4M729 1090v2M731 986v4M731 996v8M731 1006v12M731 1020v2M731 1032v10M731 1090v2M733 898v2M733 918v2M733 932v2M733 936v4M733 956v4M733 1014v2M733 1064v2M733 1068v2M735 1002v2M735 1008v8M735 1020v2M735 1046v2M735 1050v8M735 1112v2M737 900v4M737 906v2M737 912v4M737 918v2M737 922v2M737 940v4M737 992v4M737 998v2M737 1004v8M737 1048v2M737 1056v2M737 1110v4M737 1144v2M737 1166v2M737 1170v2M737 1176v2M739 882v4M739 890v2M739 980v2M739 1036v6M739 1072v2M739 1076v6M741 948v14M741 966v4M741 972v6M741 980v10M741 1012v10M741 1058v10M741 1072v2M743 1032v2M743 1036v2M743 1054v2M743 1058v2M743 1064v2M743 1100v4M745 968v4M745 1046v2M745 1076v2M745 1080v4M745 1090v2M745 1096v4M745 1104v8M747 926v4M747 942v2M747 972v2M747 988v4M747 1008v2M747 1012v2M747 1018v6M747 1086v2M747 1090v4M749 950v2M749 1000v2M749 1038v4M749 1098v2M749 1102v14M749 1118v2M751 966v8M751 976v2M751 980v2M751 1004v2M751 1008v10M751 1020v8M751 1056v2M751 1086v6M751 1094v2M751 1100v4M753 912v2M753 976v4M753 982v2M753 986v2M753 1010v2M753 1078v2M753 1090v4M753 1158v2M755 988v2M755 998v4M755 1022v2M755 1036v4M755 1042v4M757 926v4M757 942v4M757 984v8M757 994v2M757 1018v2M757 1022v2M757 1026v4M757 1054v2M757 1080v6M757 1088v4M757 1094v6M757 1102v2M757 1106v2M757 1112v2M759 938v6M759 982v8M759 994v2M759 998v4M759 1008v4M759 1036v10M759 1048v2M759 1084v2M759 1088v4M759 1140v4M759 1146v4M759 1152v2M761 948v4M761 962v4M761 982v4M761 992v2M761 1082v2M761 1086v6M761 1094v2M761 1164v2M763 918v4M763 926v6M763 936v2M763 954v2M763 996v2M763 1004v2M763 1022v6M763 1030v2M763 1048v2M763 1058v4M763 1120v6M763 1128v2M765 828v2M765 832v2M765 912v4M765 918v4M765 946v2M765 974v4M765 984v2M765 990v2M765 998v2M765 1002v2M765 1006v2M765 1012v2M765 1018v4M765 1048v2M765 1068v2M765 1082v2M765 1086v4M765 1106v6M765 1152v2M767 878v2M767 886v2M767 934v6M767 952v4M767 958v4M767 964v2M767 972v10M767 990v2M767 1008v6M767 1016v6M767 1048v14M767 1070v10M767 1082v4M767 1102v2M769 924v4M769 930v2M769 940v2M769 944v2M769 950v4M769 962v10M769 976v4M769 982v2M769 998v6M769 1030v6M769 1038v2M769 1074v4M769 1080v6M769 1112v10M771 900v8M771 960v4M771 966v2M771 1028v6M771 1072v2M771 1100v4M773 890v4M773 966v6M773 1014v2M773 1022v6M773 1048v2M773 1066v2M773 1074v10M773 1086v6M775 910v4M775 954v2M775 958v4M775 966v6M775 976v2M775 986v2M775 1008v2M775 1016v8M775 1068v2M775 1072v6M775 1084v2M775 1108v2M775 1128v8M775 1138v2M777 922v2M777 978v2M777 994v2M777 1004v4M777 1010v2M777 1040v6M777 1048v6M777 1062v2M779 960v4M779 982v4M779 1004v2M779 1012v4M779 1020v2M779 1024v8M779 1038v14M779 1072v2M779 1110v2M781 974v2M781 996v8M781 1044v2M781 1050v2M781 1060v2M781 1092v2M781 1134v2M781 1138v6M781 1146v4M783 906v6M783 946v2M783 950v4M783 960v2M783 964v8M783 980v2M783 1012v2M783 1028v8M783 1082v2M783 1086v10M783 1146v2M783 1150v2M785 854v6M785 868v2M785 924v24M785 968v2M785 986v2M785 990v6M785 1010v4M785 1066v8M785 1076v4M785 1082v2M785 1112v2M785 1132v4M785 1180v2M787 908v2M787 912v4M787 922v2M787 944v2M787 974v2M787 978v4M787 984v2M787 988v2M787 992v2M787 1012v2M787 1018v2M787 1022v2M787 1028v2M787 1034v2M787 1066v2M787 1082v2M787 1086v8M787 1096v2M789 928v4M789 976v6M789 1024v2M789 1028v10M789 1042v2M789 1046v2M789 1056v2M789 1074v2M789 1082v6M789 1122v2M791 918v12M791 936v2M791 958v2M791 970v2M791 992v2M791 1026v2M791 1078v2M791 1082v2M791 1090v6M791 1112v2M791 1132v2M793 960v6M793 974v2M793 982v4M793 990v14M793 1018v2M793 1022v2M793 1026v6M793 1036v2M793 1044v2M793 1076v4M793 1112v8M795 940v6M795 952v2M795 958v2M795 976v2M795 982v2M795 990v2M795 994v2M795 998v6M795 1006v2M795 1014v4M795 1036v14M795 1054v6M795 1076v2M795 1080v2M797 896v4M797 902v2M797 932v2M797 938v2M797 944v8M797 1020v2M797 1042v2M797 1058v2M797 1082v2M797 1104v6M797 1114v4M799 930v2M799 942v2M799 972v2M799 982v8M799 992v4M799 998v8M799 1008v4M799 1014v6M799 1022v4M799 1028v4M799 1036v8M799 1048v6M799 1084v2M801 898v2M801 1000v2M801 1006v6M801 1014v2M801 1018v2M801 1032v4M801 1042v4M801 1050v6M801 1058v2M801 1068v2M801 1076v2M803 924v2M803 930v4M803 980v2M803 984v2M803 988v2M803 992v2M803 998v2M803 1006v6M803 1014v2M803 1042v8M803 1054v2M803 1082v2M803 1098v10M803 1138v2M805 886v4M805 962v2M805 966v2M805 980v2M805 986v2M805 990v2M805 994v4M805 1018v8M805 1048v2M805 1054v2M805 1062v2M805 1072v6M807 902v2M807 934v2M807 938v4M807 988v2M807 996v10M807 1008v2M807 1012v2M807 1034v4M807 1072v2M807 1076v2M809 968v2M809 972v4M809 980v4M809 992v2M809 996v4M809 1004v6M809 1012v2M809 1016v2M809 1030v2M809 1034v6M809 1062v2M811 980v2M811 986v2M811 1012v8M811 1038v2M811 1042v2M811 1046v2M811 1056v4M811 1064v2M811 1078v4M813 982v2M813 1028v4M813 1036v6M815 920v2M815 942v6M815 952v2M815 968v4M815 974v2M815 996v2M815 1000v6M815 1016v2M815 1020v6M815 1030v4M815 1050v4M815 1068v2M815 1072v2M815 1108v4M815 1120v2M817 942v2M817 954v4M817 978v4M817 1002v10M817 1016v2M817 1044v4M817 1084v8M817 1098v4M817 1106v2M817 1134v2M819 912v2M819 918v6M819 942v2M819 962v2M819 966v4M819 974v6M819 986v4M819 1000v2M819 1006v2M819 1010v4M819 1016v2M819 1070v4M819 1078v4M821 876v2M821 880v4M821 924v2M821 932v2M821 938v4M821 950v2M821 954v2M821 958v4M821 964v4M821 990v2M821 996v4M821 1022v6M821 1030v10M821 1064v2M823 892v2M823 898v2M823 958v2M823 972v8M823 986v2M823 1002v8M823 1012v2M823 1030v6M823 1064v10M823 1082v2M823 1086v10M823 1098v2M823 1102v2M823 1116v2M825 872v2M825 934v4M825 940v2M825 944v8M825 954v2M825 960v2M825 966v12M825 982v4M825 992v6M825 1002v6M825 1010v2M825 1014v4M825 1022v14M825 1038v6M825 1102v2M825 1112v2M827 978v2M827 992v4M827 998v4M827 1028v4M827 1050v4M827 1072v8M827 1084v2M829 916v2M829 924v2M829 962v6M829 970v6M829 978v6M829 990v2M829 998v2M829 1004v2M829 1028v2M829 1032v2M829 1052v4M829 1060v2M829 1136v2M831 938v2M831 968v2M831 986v6M831 994v2M831 998v2M831 1012v2M831 1036v2M831 1050v12M831 1064v8M831 1104v2M831 1108v2M831 1114v2M831 1122v2M831 1126v2M831 1132v4M833 892v6M833 950v8M833 980v8M833 1004v2M833 1010v2M833 1022v2M833 1026v2M833 1030v4M833 1036v4M833 1050v2M833 1092v4M833 1100v2M833 1104v4M833 1110v2M833 1120v10M833 1152v2M835 974v8M835 984v2M835 988v6M835 1036v4M835 1052v4M835 1060v2M835 1078v6M835 1088v16M835 1106v4M837 914v2M837 924v8M837 966v2M837 970v4M837 1000v2M837 1004v2M837 1008v12M837 1022v2M837 1034v4M837 1064v2M837 1108v2M837 1136v6M839 880v2M839 886v4M839 892v2M839 908v2M839 974v2M839 978v2M839 1032v4M839 1040v4M839 1082v2M841 882v2M841 978v4M841 988v2M841 992v2M841 1002v2M841 1028v4M841 1034v2M841 1044v4M841 1054v12M841 1088v4M841 1098v8M841 1108v2M843 890v2M843 922v4M843 982v2M843 986v6M843 1008v2M843 1058v6M843 1068v2M843 1072v2M843 1076v2M843 1092v4M843 1114v10M845 884v2M845 922v2M845 926v2M845 930v2M845 948v8M845 966v2M845 1032v2M845 1036v6M845 1080v2M845 1086v6M845 1094v2M845 1098v2M845 1102v2M845 1110v2M845 1126v6M845 1134v2M847 870v2M847 874v10M847 938v6M847 964v2M847 970v4M847 980v2M847 1014v6M847 1030v2M847 1042v6M847 1050v4M847 1062v2M849 904v4M849 966v2M849 972v2M849 976v2M849 980v2M849 1016v2M849 1038v4M849 1044v2M849 1062v4M849 1092v4M849 1102v2M851 892v6M851 986v2M851 990v4M851 1000v4M851 1020v2M851 1024v2M853 916v2M853 926v4M853 932v4M853 946v4M853 954v2M853 982v2M853 988v2M853 1072v2M853 1078v12M853 1104v2M855 884v4M855 922v2M855 948v4M855 970v8M855 980v4M855 1038v2M855 1056v2M855 1076v2M855 1080v6M857 932v2M857 956v8M857 986v2M857 994v2M857 998v2M859 916v2M859 920v2M859 984v6M859 992v2M859 996v2M859 1020v4M859 1130v2M861 968v2M861 972v2M861 996v6M861 1006v2M861 1046v2M861 1102v2M863 928v2M863 942v4M863 950v2M863 964v2M863 972v2M863 976v2M863 1006v10M863 1020v6M863 1028v2M863 1156v2M865 924v2M865 930v12M865 946v2M865 1042v2M865 1058v2M865 1068v6M865 1078v2M867 898v2M867 954v6M867 962v2M867 994v2M867 998v4M867 1010v2M867 1058v2M867 1062v4M867 1068v2M867 1074v6M867 1082v6M869 910v2M869 1012v4M869 1024v2M869 1046v2M869 1082v10M869 1096v2M871 904v2M871 1008v2M871 1018v18M871 1078v2M871 1082v2M873 942v2M873 948v2M873 1046v4M873 1052v6M873 1090v8M873 1100v10M873 1134v6M875 966v2M875 986v8M875 998v2M875 1040v2M875 1052v4M875 1076v14M875 1098v10M877 942v2M877 976v4M877 1014v2M877 1066v2M877 1072v2M877 1076v2M877 1110v4M877 1134v4M879 914v2M879 966v2M879 970v2M879 1002v2M879 1006v4M879 1028v2M879 1034v2M879 1040v2M879 1094v2M879 1100v12M879 1136v2M879 1142v4M879 1162v2M879 1166v2M881 928v4M881 942v2M881 1006v2M881 1016v8M881 1030v6M881 1112v4M883 966v2M883 970v6M883 978v2M883 982v4M883 988v2M883 1006v2M883 1014v2M883 1062v4M883 1070v2M885 924v2M885 982v2M885 1018v4M887 934v2M887 944v2M887 948v2M887 992v2M887 1022v2M887 1038v4M887 1062v4M887 1068v2M887 1072v2M887 1124v2M889 952v2M889 1026v8M889 1036v2M891 994v2M891 1038v10M891 1050v2M893 1026v8M893 1048v6M893 1078v2M893 1098v4M895 1016v4M895 1036v2M895 1040v2M895 1050v4M897 994v2M897 1000v4M899 970v4M899 984v2M899 988v6M899 1004v6M899 1016v2M899 1030v4M899 1066v4M899 1098v2M899 1102v2M901 914v4M901 920v4M901 938v12M901 1020v6M901 1038v2M901 1098v2M903 984v2M903 1034v4M903 1054v6M905 920v2M905 990v6M905 998v2M905 1056v4M905 1062v4M905 1118v2M907 942v4M907 976v2M907 1010v2M907 1014v2M909 926v2M909 988v4M909 996v6M909 1008v4M909 1042v2M909 1068v6M911 1028v2M913 1030v2M915 934v2M917 926v6M917 968v2M917 1046v2M917 1050v2M921 1072v4M921 1080v6M923 998v4M923 1004v2M923 1008v2M923 1052v8M925 998v2M925 1018v2M925 1026v2M925 1032v2M927 956v4M927 988v10M927 1064v2M927 1072v2M929 1020v2M931 986v6M931 996v2M931 1028v2M931 1034v6M931 1084v2M933 1044v4M933 1050v2M935 922v2M935 926v2M935 958v2M935 972v2M935 976v6M935 1014v2M935 1018v6M935 1034v2M935 1038v2M935 1086v2M937 988v4M937 1070v6M939 1076v2M939 1080v2M941 1000v2M943 1046v2M945 986v2M945 990v4M945 1148v2M947 964v2M947 968v2M947 1026v2M947 1034v6M963 1020v4M965 924v2M971 1018v2M989 962v2" stroke="#3088bd" stroke-width="2" fill="none" shape-rendering="crispEdges"/>
<path d="M691 1000v4M721 1050v4M727 1068v2M727 1102v2M735 1016v4M739 1082v2M741 978v2M745 1102v2M747 1014v4M749 952v2M751 974v2M751 978v2M751 982v2M755 990v4M757 992v2M757 1078v2M757 1086v2M757 1100v2M757 1104v2M759 990v4M759 996v2M759 1046v2M759 1144v2M761 952v4M761 958v4M763 922v4M763 994v2M763 1028v2M763 1052v2M763 1056v2M765 916v2M765 980v4M765 986v4M765 1050v18M767 880v4M767 956v2M767 1014v2M769 946v4M775 964v2M775 1010v6M777 996v2M779 1016v4M779 1022v2M779 1032v2M781 968v2M781 980v2M781 984v2M781 1006v2M781 1136v2M783 944v2M783 948v2M785 996v10M785 1008v2M787 982v2M787 986v2M787 1026v2M787 1030v4M787 1084v2M789 1026v2M791 1084v6M793 978v2M793 1020v2M795 978v2M795 1004v2M795 1018v10M795 1030v6M795 1050v4M797 940v2M799 974v2M799 980v2M799 990v2M799 1006v2M801 1002v4M801 1012v2M801 1020v12M801 1056v2M803 1004v2M803 1012v2M803 1040v2M805 982v4M805 988v2M805 992v2M805 1004v2M805 1026v2M805 1030v2M805 1064v8M807 992v4M807 1006v2M809 970v2M809 976v4M809 1000v2M809 1010v2M809 1032v2M811 1034v2M811 1060v4M811 1066v2M813 886v2M813 984v2M813 988v6M815 1054v6M815 1062v4M815 1070v2M817 958v20M819 916v2M819 964v2M819 972v2M819 1008v2M819 1034v2M819 1038v2M819 1074v2M821 878v2M821 962v2M821 1028v2M823 982v2M823 988v14M823 1096v2M823 1100v2M825 928v2M825 962v2M825 986v6M825 1018v2M825 1052v4M827 996v2M829 976v2M829 984v6M829 994v4M829 1000v4M831 1002v8M831 1040v10M831 1062v2M831 1130v2M833 1028v2M833 1098v2M833 1102v2M835 982v2M835 986v2M835 1056v2M835 1086v2M835 1104v2M837 920v4M837 1002v2M837 1006v2M837 1020v2M837 1024v8M839 884v2M841 982v6M841 990v2M841 1048v6M841 1106v2M841 1110v2M845 924v2M847 974v2M847 978v2M847 984v2M847 1034v2M847 1038v4M847 1054v2M849 968v4M849 1096v4M851 908v2M851 994v2M851 1004v2M853 990v2M855 952v2M855 978v2M855 1078v2M857 992v2M857 996v2M861 1002v2M863 946v4M863 966v6M867 960v2M867 1002v2M867 1006v4M867 1012v2M867 1066v2M867 1070v4M869 1092v2M875 994v4M875 1056v2M875 1092v6M879 1112v2M881 932v4M883 964v2M883 968v2M883 990v14M887 1036v2M887 1056v6M887 1066v2M887 1070v2M895 1038v2M895 1042v8M899 974v6M899 982v2M899 986v2M899 1100v2M901 918v2M901 1026v2M901 1030v8M921 1076v4M931 1032v2M935 974v2" stroke="#2b94c5" stroke-width="2" fill="none" shape-rendering="crispEdges"/>
<path d="M761 956v2M763 1054v2M767 884v2M781 986v10M793 976v2M795 1028v2M799 1026v2M799 1032v2M813 986v2M815 1060v2M815 1066v2M819 970v2M819 1076v2M823 980v2M823 984v2M825 1044v8M831 1010v2M837 1032v2M847 976v2M851 998v2M867 1004v2M899 980v2M901 1028v2" stroke="#25a1d1" stroke-width="2" fill="none" shape-rendering="crispEdges"/>
<path d="M785 960v2M833 962v2M843 964v2M765 972v2M781 972v2M841 972v2M853 978v2M771 980v2M785 980v2M763 982v2M803 986v2M761 988v2M803 990v2M857 990v2M853 994v2M769 996v2M783 996v2M831 996v2M817 998v2M771 1004v2M783 1004v2M785 1006v2M791 1008v2M795 1012v2M831 1014v2M803 1016v2M835 1016v2M783 1018v2M845 1018v2M849 1018v2M785 1026v2M785 1030v2M813 1032v2M853 1032v2M845 1034v2M787 1038v2M789 1038v2M801 1038v2M831 1038v2M819 1042v2M797 1050v2" stroke="#55f03a" stroke-width="2" fill="none" shape-rendering="crispEdges"/>
<circle cx="1221.7" cy="421.7" r="6.5" fill="#2daed9"/>
<circle cx="1232.3" cy="430" r="6.5" fill="#2b94c5"/>
<circle cx="578.5" cy="729" r="4" fill="#25a1d1"/>
<circle cx="577" cy="739.5" r="4.2" fill="#2b94c5"/>
<circle cx="573.3" cy="863.3" r="2.8" fill="#3dbb2d"/>
<rect x="805" y="742" width="13" height="6" fill="#3b6ea3"/>
<circle cx="142.3" cy="1306" r="7.5" fill="#2b94c5"/>
<circle cx="153.3" cy="1314.3" r="7.5" fill="#2b94c5"/>
<circle cx="316.3" cy="1416.7" r="7" fill="#2b94c5"/>
<circle cx="901" cy="1409.5" r="5" fill="#37aa28"/>
<circle cx="908" cy="1407.3" r="5.5" fill="#4cdf38"/>
<circle cx="914" cy="1405" r="5" fill="#4cdf38"/>
<circle cx="1299.5" cy="1245.3" r="7.5" fill="#44cd33"/>
<circle cx="1295.4" cy="1254.5" r="7.5" fill="#3dbb2d"/>
<circle cx="1253" cy="1115.8" r="8" fill="#2b94c5"/>
<circle cx="1254.5" cy="1112.6" r="2.2" fill="#44cd33"/>
<ellipse cx="1274" cy="1113" rx="6.2" ry="9" fill="#2b94c5"/>
<ellipse cx="1327.5" cy="1045.5" rx="6" ry="3.5" fill="#2b94c5"/>
<circle cx="1456" cy="1070" r="6.5" fill="#2b94c5"/>
<circle cx="1452.7" cy="1069.1" r="7" fill="#44cd33"/>
<circle cx="1448.9" cy="1081.3" r="6.5" fill="#4cdf38"/>
<circle cx="1455" cy="1081.5" r="6" fill="#2b94c5"/>
<circle cx="1489.3" cy="1074.7" r="7.5" fill="#2daed9"/>
<circle cx="1486.5" cy="1086" r="8" fill="#2b94c5"/>
<circle cx="1375.2" cy="1061.1" r="8" fill="#2b94c5"/>
<circle cx="1386" cy="1071.9" r="8" fill="#2b94c5"/>
<circle cx="1398.7" cy="1085.1" r="8.3" fill="#3088bd"/>
<circle cx="1368.2" cy="1080.4" r="7.5" fill="#2daed9"/>
<circle cx="1371" cy="1102" r="7" fill="#2daed9"/>
<circle cx="1404.8" cy="1105.7" r="7" fill="#2daed9"/>
<circle cx="1390.7" cy="1109.5" r="7" fill="#2daed9"/>
<circle cx="1396.3" cy="1096.3" r="9" fill="#2b94c5"/>
<circle cx="1379.4" cy="1092.6" r="9" fill="#2b94c5"/>
<circle cx="1370" cy="1071.9" r="7.5" fill="#37aa28"/>
<circle cx="1369.1" cy="1092.6" r="8.3" fill="#44cd33"/>
<circle cx="1400.1" cy="1096.3" r="8.3" fill="#44cd33"/>
<circle cx="1396.3" cy="1105.7" r="7.8" fill="#4cdf38"/>
<circle cx="1379.4" cy="1103.8" r="8" fill="#3dbb2d"/>
<circle cx="1387.9" cy="1082.3" r="7.5" fill="#319a23"/>
<circle cx="1386.9" cy="1096.3" r="7.5" fill="#37aa28"/>
<circle cx="1379.4" cy="1083.2" r="7" fill="#3dbb2d"/>
<circle cx="1372.4" cy="1080.8" r="8.3" fill="#e4e63a"/>
<circle cx="1377.6" cy="1070" r="5.5" fill="#e4e63a"/>
<ellipse cx="1381.3" cy="1096.3" rx="5" ry="14.5" fill="#e4e63a" transform="rotate(12 1381.3 1096.3)"/>
<ellipse cx="1371.9" cy="1081.3" rx="4.8" ry="5.3" fill="#d9961b"/>
<ellipse cx="1383.2" cy="1093.5" rx="2.2" ry="6" fill="#d9961b"/>
<rect x="1389.2" y="1099" width="4" height="4" fill="#2b94c5"/>
<circle cx="1294.5" cy="1105.1" r="7.2" fill="#2b94c5"/>
<circle cx="1291.2" cy="1121.8" r="7.2" fill="#2b94c5"/>
<circle cx="1303.7" cy="1126.8" r="7.2" fill="#2b94c5"/>
<circle cx="1315.4" cy="1108.4" r="7.2" fill="#2b94c5"/>
<circle cx="1313.7" cy="1138.5" r="7.2" fill="#2b94c5"/>
<circle cx="1340.4" cy="1125.1" r="7.2" fill="#2b94c5"/>
<circle cx="1325.4" cy="1118.4" r="7.5" fill="#2b94c5"/>
<circle cx="1303.7" cy="1108.4" r="7" fill="#2daed9"/>
<circle cx="1327.1" cy="1133.5" r="7" fill="#2b94c5"/>
<circle cx="1292" cy="1113.4" r="5.6" fill="#37aa28"/>
<circle cx="1305.4" cy="1115.9" r="6.8" fill="#3dbb2d"/>
<circle cx="1333.8" cy="1126.8" r="8.6" fill="#44cd33"/>
<circle cx="1320.4" cy="1123.4" r="7" fill="#37aa28"/>
<circle cx="1335.4" cy="1133.5" r="6.6" fill="#4cdf38"/>
<circle cx="1313.7" cy="1116.8" r="6" fill="#3dbb2d"/>
<ellipse cx="1313.7" cy="1124.3" rx="2.6" ry="8.5" fill="#e4e63a" transform="rotate(8 1313.7 1124.3)"/>
<ellipse cx="1305.4" cy="1114.3" rx="1.6" ry="3.2" fill="#e4e63a"/>
</g>
<clipPath id="cm"><rect x="20.85" y="220.9" width="1547.1" height="1538.1"/></clipPath>
<g clip-path="url(#cm)" fill="none" stroke-linejoin="round" stroke-linecap="round">
<g stroke="#888" stroke-width="3">
<path d="M20.7 231.7 L33.3 220.7"/>
<path d="M192.7 220.7 L245.7 256.7"/>
<path d="M316.7 220.7 L316.7 230.7 L245.7 232.3 L246.7 296.7 L248.3 362.3 L148.3 364.3 L150.7 501.7"/>
<path d="M247.3 296.3 L366 296.3 L366 286.7 L375 291.7 L386.7 287.3 L400 293.3 L423.3 301.7 L425 316.7 L430 328.3 L440 336.7 L461.7 345 L476.7 346.7 L488.3 351.7"/>
<path d="M136.7 568.3 L135 503.3 L202.7 501.7 L202.7 492.7 L261 492.7 L261 496.7 L281 496.7 L281.7 555 L333.3 556 L354 554.3 L370 568.3"/>
<path d="M191.7 679.3 L223.3 648.3"/>
<path d="M380 626.7 L386.7 639.3 L376.7 646.7"/>
<path d="M1471.1 494.1 L1479.4 492.4 L1489.3 489.1 L1499.3 490.8 L1510.9 497.4 L1519.3 492.4 L1529.2 485.8 L1537.5 494.1 L1539.2 483.1 L1569.1 490.8"/>
<path d="M1452.8 593.8 L1466.1 598.8 L1471.1 612 L1479.4 613.7 L1492.7 607.1 L1506 607.1 L1512.6 615.4 L1522.6 620.3 L1532.5 615.4 L1542.5 620.3 L1555.8 612 L1569.1 612"/>
<path d="M1552.5 680.2 L1569.1 671.9"/>
<path d="M1422.9 665.2 L1429.5 680.2"/>
<path d="M20.7 716.7 L70 716 L70 721.7 L85 721.7 L85 738.3 L145 738.3"/>
<path d="M85 738.3 L80 739.3 L80 750 L125 792.7 L81.7 837.3 L61.7 855 L53.3 870 L46.7 866.7 L33.3 880 L36.7 885 L20.7 900"/>
<path d="M80 750 L40 790 L40 779.3 L25 779.3 L25 795 L20.7 796"/>
<path d="M81.7 837.3 L100 860 L106.7 861.7 L115 880 L125 880 L143.3 898.3 L175 928.3 L171.7 943.3 L165 945"/>
<path d="M143.3 898.3 L100 941.7 L81.7 925 L70 936.7 L20.7 938.3"/>
<path d="M196.7 680 L161.7 711.7 L155 706.7 L145 711.7 L145 738.3 L145.7 815 L156.7 825 L171.7 823.3 L176.7 833.3 L190 841.7 L200 850 L208.3 856.7 L208.3 870 L215 880 L206.7 891.7 L203.3 908.3"/>
<path d="M328.3 880 L348.3 902.7 L340 910 L340 920 L353.3 928.3 L376.7 930 L393.3 918.3 L430 915 L456.7 920 L476.7 928.3 L490 916.7 L515 916.7 L518.3 898.3 L501.7 898.3"/>
<path d="M233.3 928.3 L233.3 943.3 L245 945 L246.7 955 L258.3 958.3 L266.7 953.3 L280 946.7 L293.3 940 L295 926.7 L340 913.3"/>
<path d="M476.7 928.3 L493.3 946.7 L513.3 953.3 L533.3 945 L538.3 973.3 L550 976.7 L550 981.7 L570 985 L570 998.3 L580 998.3 L590 986.7 L610 973.3 L620 956.7 L626.7 925"/>
<path d="M246.7 955 L240 970 L236.7 990 L220 995 L195 1008.3"/>
<path d="M236.7 990 L245 986.7 L256.7 998.3 L258.3 1021.7 L275 1021.7 L276.7 1028.3 L290 1030 L290 1040 L298.3 1040 L300 1046.7 L310 1048.3 L323.3 1048.3 L323.3 1071.7 L341.7 1071.7 L341.7 1083.3 L348.3 1103.3 L363.3 1100 L376.7 1086.7 L393.3 1085 L396.7 1073.3 L390 1063.3 L410 1056.7 L433.3 1060 L413.3 1076.7 L416.7 1086.7 L430 1085 L433.3 1100 L445 1106.7 L460 1100 L466.7 1121.7"/>
<path d="M493.3 946.7 L463.3 976.7 L456.7 986.7 L426.7 1005 L393.3 1020 L366.7 1040 L348.3 1050 L366.7 1060 L383.3 1063.3 L390 1063.3"/>
<path d="M213.3 1160 L216.7 1151.7 L240 1140 L253.3 1126.7 L280 1115 L301.7 1111.7 L320 1120 L333.3 1113.3 L348.3 1103.3"/>
<path d="M301.7 1111.7 L336.7 1160"/>
<path d="M400 1160 L416.7 1146.7 L436.7 1130 L466.7 1121.7 L510 1110 L533.3 1091.7 L546.7 1070 L566.7 1040 L596.7 1015 L623.3 996.7 L639 980"/>
<path d="M510 1110 L550 1160"/>
<path d="M640 1095 L633.7 1120.3 L625 1136.7 L620 1146.7 L623.3 1160"/>
<path d="M640 1095 L660 1080 L683.3 1053.3 L690 1038.3"/>
<path d="M806.7 1160 L820 1141.7 L840 1113.3 L853.3 1090 L860 1068.3 L873.3 1080 L893.3 1090 L910 1096.7 L923.3 1076.7 L933.3 1085 L946.7 1096.7 L953.3 1080 L970 1070 L980 1041.7 L990 1045 L1001.7 1048.3 L1006.7 1058.3 L1026.7 1065 L1040 1073.3 L1050 1085 L1063.3 1090 L1073.3 1085 L1083.3 1096.7 L1088.3 1106.7 L1086.7 1120 L1083.3 1126.7 L1095 1113.3 L1101.7 1105"/>
<path d="M1180 1105 L1186.7 1130 L1180 1160"/>
<path d="M668.2 938.2 L677.6 945.7 L675.7 953.2 L658.8 964.5 L640 977.7"/>
<path d="M762.1 972 L752.7 981.4 L741.4 986.1 L730.1 996.4 L718.9 1002.1 L711.4 1015.2 L700.1 1028.4 L690.7 1035.9 L689.8 1040 L685.1 1047.1"/>
<path d="M1426.2 680 L1446.1 729.8 L1452.8 746.5"/>
<path d="M1491 748.1 L1506 733.2 L1499.3 724.9 L1535.9 693.3 L1545.8 685 L1559.1 680"/>
<path d="M213.3 1160 L196.7 1165 L190 1176.7 L176.7 1181.7 L160 1188.3 L143.3 1193.3 L135 1185 L131.7 1196.7 L121.7 1200 L115 1191.7"/>
<path d="M135 1196.7 L133.3 1215 L145 1220 L155 1228.3 L166.7 1221.7 L183.3 1220 L185 1210 L196.7 1206.7 L213.3 1240 L215 1255 L230 1263.3 L228.3 1275 L241.7 1293.3"/>
<path d="M146.7 1406.7 L156.7 1386.7 L166.7 1366.7 L176.7 1353.3 L190 1338.3 L206.7 1333.3 L230 1320 L240 1306.7 L253.3 1286.7 L266.7 1266.7 L276.7 1251.7 L293.3 1240 L311.7 1226.7 L330 1210 L346.7 1193.3 L383.3 1173.3 L406.7 1160"/>
<path d="M346.7 1193.3 L330 1170 L340 1160"/>
<path d="M311.7 1226.7 L350 1276 L320 1296.7 L300 1313.3 L290 1326.7 L296.7 1341.7 L283.3 1356.7 L278.3 1370 L283.3 1383.3 L293.3 1390 L306.7 1386.7 L316.7 1375 L351.7 1406"/>
<path d="M106.7 1390 L131.7 1395 L131.7 1401.7 L146.7 1406.7 L173.3 1411.7 L200 1430 L233.3 1450 L253.3 1470 L266.7 1480"/>
<path d="M266.7 1480 L276.7 1460 L286.7 1450 L293.3 1438.3 L310 1436.7 L326.7 1436.7 L336.7 1423.3 L350 1410 L353.3 1393.3 L363.3 1386.7 L383.3 1376.7 L400 1368.3 L411.7 1360 L413.3 1363.3 L440 1363.3 L466.7 1360 L490 1350 L513.3 1343.3 L540 1330 L563.3 1321.7 L593.3 1319.3 L639 1316.7"/>
<path d="M266.7 1480 L253.3 1486.7 L240 1496.7 L230 1513.3 L223.3 1530 L210 1546.7 L200 1570 L190 1586.7 L185 1606.7 L175 1625 L163.3 1640"/>
<path d="M175 1625 L190 1628.3 L188.3 1640"/>
<path d="M266.7 1480 L276.7 1481.7 L286.7 1496.7 L300 1503.3 L310 1518.3 L320 1526.7 L330 1530 L336.7 1543.3 L350 1548.3 L363.3 1560 L373.3 1576.7 L383.3 1590 L390 1603.3 L400 1613.3 L413.3 1613.3 L420 1623.3 L433.3 1625 L446.7 1633.3 L453.3 1640"/>
<path d="M80 1495 L83.3 1498.3 L90 1488.3 L100 1485 L106.7 1493.3 L136.7 1496.7 L140 1488.3 L160 1491.7 L185 1496.7 L210 1503.3 L201.7 1518.3 L190 1530 L185 1543.3 L190 1551.7 L206.7 1548.3"/>
<path d="M563.3 1321.7 L550 1300 L536.7 1290 L550 1280 L553.3 1266.7 L546.7 1260 L553.3 1250 L550 1226.7 L563.3 1206.7 L553.3 1186.7 L540 1175 L555 1166.7 L546.7 1160"/>
<path d="M623.3 1160 L625 1183.3 L616.7 1203.3 L606.7 1220 L586.7 1236.7 L566.7 1246.7 L553.3 1256.7"/>
<path d="M639 1470 L623.3 1480 L613.3 1493.3 L600 1510 L593.3 1521.7 L583.3 1533.3 L581.7 1553.3 L573.3 1573.3 L583.3 1586.7 L586.7 1603.3 L593.3 1616.7 L591.7 1640"/>
<path d="M593.3 1521.7 L606.7 1525 L620 1538.3 L639 1540"/>
<path d="M806.7 1160 L796.7 1180 L783.3 1200 L753.3 1223.3 L723.3 1251.7 L681.7 1290 L660 1306.7 L640 1315"/>
<path d="M783.3 1200 L806.7 1208.3 L838.3 1210 L840 1206.7 L855 1209.3 L856.7 1220 L876.7 1223.3 L886.7 1235 L890 1246.7 L893.3 1255 L886.7 1260 L885 1268.3 L900 1266 L916.7 1270 L926.7 1280 L936.7 1296.7 L935 1320 L938.3 1331.7 L911.7 1355 L923.3 1358.3 L923.3 1373.3 L933.3 1381.7 L946.7 1386.7 L958.3 1385"/>
<path d="M885 1268.3 L873.3 1273.3 L870 1286.7 L868.3 1301.7 L850 1308.3 L846.7 1320 L848.3 1333.3 L843.3 1336.7 L853.3 1346.7 L846.7 1356.7 L835 1370 L840 1376.7 L836.7 1400 L843.3 1423.3 L848.3 1443.3 L856.7 1460 L866.7 1476.7 L871.7 1485 L866.7 1495 L873.3 1500"/>
<path d="M681.7 1290 L693.3 1316.7 L696.7 1340 L693.3 1366.7 L695 1390 L686.7 1410 L670 1436.7 L653.3 1460 L640 1471.7"/>
<path d="M640 1543.3 L663.3 1545 L706.7 1545 L716.7 1548.3 L738.3 1540 L761.7 1530 L786.7 1530 L790 1550 L788.3 1570 L791.7 1573.3 L786.7 1593.3 L791.7 1606.7 L786.7 1621.7 L793.3 1630"/>
<path d="M163.3 1640.1 L160.3 1646.8 L146.9 1651.8 L133.5 1663.5 L126.9 1675.2 L110.2 1700.2 L100.2 1710.2 L66.8 1733.6 L43.4 1747 L21.7 1753.6"/>
<path d="M187 1653.5 L213.7 1658.5 L230.4 1670.2 L237 1693.5 L233.7 1720.3 L240.4 1730.3 L230.4 1747 L223.7 1760.3"/>
<path d="M191 1629.4 L187 1653.5 L160.3 1660.2 L126.9 1673.5"/>
<path d="M140.2 1760.3 L160.3 1753.6 L176.9 1740.3 L187 1726.9"/>
<path d="M267.1 1750.3 L280.4 1760.3"/>
<path d="M453.4 1639.8 L457.4 1640.1 L477.4 1648.5 L484.1 1666.8 L485.8 1680.2 L497.4 1693.5 L504.1 1703.6 L520.8 1706.9 L530.8 1715.2 L547.5 1710.2 L564.2 1711.9 L567.6 1696.9 L582.6 1686.9 L587.6 1670.2 L594.3 1653.5 L592.6 1633.4"/>
<path d="M564.2 1711.9 L560.9 1723.6 L540.8 1728.6 L542.5 1740.3 L554.2 1743.6 L540.8 1750.3 L537.5 1760.3"/>
<path d="M427.3 1760.3 L437.4 1750.3 L450.7 1743.6 L467.4 1745.3 L477.4 1752 L482.4 1760.3"/>
<path d="M1080 1090.1 L1086.7 1105.1 L1083.3 1126.8 L1101.7 1108.4"/>
<path d="M1295.2 772.6 L1299.1 779.1 L1303 785.6 L1306.9 792.2 L1313.4 800.5 L1327.8 801.3 L1356.5 802.6 L1361.7 810.4 L1366.9 816.9 L1379.9 809.1 L1393 801.3 L1394.3 784.3 L1389.1 779.1 L1395.6 776.5 L1416.5 781.7 L1426.9 789.6 L1433.4 800 L1442.5 796.1 L1434.7 764.8 L1443.8 760.9 L1451.7 773.9 L1463.4 770 L1460.8 764.8 L1476.5 759.6 L1493.4 751.7 L1492.1 745.2 L1501.2 740"/>
<path d="M1327.8 801.3 L1328.3 839.1 L1317.4 843 L1316 873 L1309.5 876.9 L1301.7 882.1 L1288.7 891.3 L1274.3 896.5 L1271.7 920"/>
<path d="M1328.3 839.1 L1338.2 849.5 L1356.5 875.6 L1378.6 906.9 L1411.2 913.4"/>
<path d="M1378.6 903 L1379.9 922.6 L1385.2 940.8 L1391.7 951.3 L1396.9 963 L1399.5 974.7 L1395.6 987.8"/>
<path d="M1411.2 913.4 L1413.9 899.1 L1408.6 886.1 L1407.3 867.8 L1450.4 854.8 L1445.2 839.1 L1476.5 839.1 L1472.5 852.2 L1479.1 862.6 L1484.3 876.9 L1502.5 871.7 L1554.7 863.1 L1558.6 875.6 L1565.1 891.3 L1567.7 922.6"/>
<path d="M1476.5 759.6 L1486.9 784.3 L1499.9 814.3 L1513 815.6 L1514.3 831.3 L1507.8 844.3 L1502.5 857.4 L1505.1 871.7"/>
<path d="M1449.1 740 L1462.1 766.1"/>
<path d="M1210.4 880.8 L1202.6 886.1 L1205.2 896.5 L1210.4 904.3 L1222.1 912.1 L1236.5 909.5 L1246.9 914.8 L1262.6 914.8 L1271.7 920"/>
<path d="M1271.7 920 L1249.5 935.6 L1226.1 948.7 L1202.6 961.7 L1198.7 955.2 L1180.4 966.9 L1184.3 974.7 L1158.2 990.4 L1155.6 994.3"/>
<path d="M1249.5 935.6 L1262.6 939.5 L1270.4 948.7 L1286.1 956.5 L1280.8 961.7 L1276.9 970.8 L1301.7 991.7 L1331.7 991.7 L1340.8 1003.4 L1348.6 1019.1 L1356.5 1034.7 L1364.3 1042.6"/>
<path d="M1301.7 991.7 L1303 1015.2 L1297.8 1020.4 L1297.8 1033.4 L1267.8 1030.8 L1253.4 1046.5 L1246.9 1047.8 L1202.6 1039.9 L1205.2 1023 L1168.7 1017.8 L1170 998.2 L1155.6 994.3"/>
<path d="M1106.1 930.4 L1107.4 940.8 L1119.1 946.1 L1119.1 964.3 L1111.3 972.1 L1116.5 977.4 L1134.8 980 L1136.1 986.5 L1149.1 983.9 L1155.6 994.3"/>
<path d="M1168.7 1017.8 L1150.4 1020.4 L1149.1 1034.7 L1140 1028.2 L1129.6 1021.7 L1119.1 1015.2 L1117.8 1026.9 L1099.6 1037.3"/>
<path d="M1202.6 1039.9 L1194.8 1041.3 L1184.3 1060.8 L1173.9 1079.1 L1163.5 1097.3 L1179.1 1102.5 L1183 1115.6"/>
<path d="M1246.9 1047.8 L1252.1 1066 L1257.4 1081.7 L1260 1092.1 L1262.6 1105.2"/>
</g>
<g stroke="#c4c4c4" stroke-width="3">
<path d="M1501 220.6 C1499.3 223 1493.4 229.5 1491 234.9 C1488.6 240.3 1487.1 247.9 1486.7 253.2 C1486.3 258.4 1487.7 262 1488.7 266.5 C1489.7 270.9 1492.4 274.5 1492.7 279.8 C1492.9 285 1490.5 295 1490 298"/>
<path d="M668.2 938.2 C677.2 938.2 709.8 940.1 722.6 938.2 C735.5 936.3 738.9 929.6 745.2 926.9 C751.4 924.3 757.7 923 760.2 922.3"/>
<path d="M835.3 942 L840.9 936.3"/>
<path d="M867.2 928.8 C870 929.8 878.8 930.1 884.1 934.5 C889.5 938.8 894.5 949.2 899.2 955.1 C903.8 961.1 907.9 966.4 912.3 970.1 C916.7 973.9 921.1 976.7 925.4 977.7 C929.8 978.6 936.4 976.1 938.6 975.8"/>
<path d="M963 911.9 C965.2 911 972.1 907.9 976.2 906.3 C980.2 904.7 985.5 903.2 987.4 902.5"/>
</g>
<g stroke="#c8c8c8" stroke-width="3" transform="translate(2.2,2)">
<path d="M541.7 221.7 C544.7 222.8 555.2 224.7 560 228.3 C564.8 231.9 568.7 238.9 570.7 243.3 C572.6 247.8 572.3 251.1 571.7 255 C571 258.9 567.5 262.2 566.7 266.7 C565.8 271.1 567.8 277.8 566.7 281.7 C565.6 285.6 561.9 286.7 560 290 C558.1 293.3 557.2 299.4 555 301.7 C552.8 303.9 548.9 304.2 546.7 303.3 C544.4 302.5 543.6 297.5 541.7 296.7 C539.7 295.8 535.8 295 535 298.3 C534.2 301.7 537.8 313.3 536.7 316.7 C535.6 320 531.7 318.6 528.3 318.3 C525 318.1 520.3 313.6 516.7 315 C513.1 316.4 508.1 323.6 506.7 326.7 C505.3 329.7 506.4 331.7 508.3 333.3 C510.3 335 517.2 335 518.3 336.7 C519.4 338.3 517.5 340.8 515 343.3 C512.5 345.8 507.5 349.7 503.3 351.7 C499.2 353.6 491.7 352.5 490 355 C488.3 357.5 491.9 363.6 493.3 366.7 C494.7 369.7 498.3 370.6 498.3 373.3 C498.3 376.1 496.4 380.6 493.3 383.3 C490.3 386.1 483.1 387.8 480 390 C476.9 392.2 474.2 394.4 475 396.7 C475.8 398.9 484.2 400.8 485 403.3 C485.8 405.8 482.2 409.4 480 411.7 C477.8 413.9 473.9 414.4 471.7 416.7 C469.4 418.9 465.8 422.8 466.7 425 C467.5 427.2 474.4 427.2 476.7 430 C478.9 432.8 482.2 438.9 480 441.7 C477.8 444.4 468.3 443.9 463.3 446.7 C458.3 449.4 455.6 454.7 450 458.3 C444.4 461.9 436.7 465.3 430 468.3 C423.3 471.4 414.7 473.1 410 476.7 C405.3 480.3 403.9 486.1 401.7 490 C399.4 493.9 399.2 498.6 396.7 500 C394.2 501.4 386.9 497.5 386.7 498.3 C386.4 499.2 391.9 502.5 395 505 C398.1 507.5 404.2 510.6 405 513.3 C405.8 516.1 403.1 519.4 400 521.7 C396.9 523.9 389.2 523.6 386.7 526.7 C384.2 529.7 384.7 536.1 385 540 C385.3 543.9 388.6 546.7 388.3 550 C388.1 553.3 386.1 557.2 383.3 560 C380.6 562.8 374.2 563.9 371.7 566.7 C369.2 569.4 367.8 573.3 368.3 576.7 C368.9 580 372.8 583.9 375 586.7 C377.2 589.4 381.7 591.4 381.7 593.3 C381.7 595.3 377.8 597.8 375 598.3 C372.2 598.9 366.4 595.8 365 596.7 C363.6 597.5 365 601.4 366.7 603.3 C368.3 605.3 374.7 605.8 375 608.3 C375.3 610.8 368.9 614.7 368.3 618.3 C367.8 621.9 370 626.7 371.7 630 C373.3 633.3 377.8 635.3 378.3 638.3 C378.9 641.4 374.7 645 375 648.3 C375.3 651.7 380.8 656.1 380 658.3 C379.2 660.6 373.6 661.9 370 661.7 C366.4 661.4 360 655.8 358.3 656.7 C356.7 657.5 359.7 662.8 360 666.7 C360.3 670.6 360 677.8 360 680"/>
<path d="M20.7 555 C22.5 554.2 29 549.7 31.7 550 C34.3 550.3 33.9 554.7 36.7 556.7 C39.4 558.6 44.2 561.7 48.3 561.7 C52.5 561.7 57.8 559.2 61.7 556.7 C65.6 554.2 68.3 548.9 71.7 546.7 C75 544.4 78.9 543.1 81.7 543.3 C84.4 543.6 86.9 546.1 88.3 548.3 C89.7 550.6 88.1 554.4 90 556.7 C91.9 558.9 97.2 559.7 100 561.7 C102.8 563.6 104.2 567.5 106.7 568.3 C109.2 569.2 111.9 566.4 115 566.7 C118.1 566.9 121.9 569.4 125 570 C128.1 570.6 130.6 568.9 133.3 570 C136.1 571.1 139.4 573.9 141.7 576.7 C143.9 579.4 144.4 583.6 146.7 586.7 C148.9 589.7 152.8 592.8 155 595 C157.2 597.2 157.5 599.2 160 600 C162.5 600.8 167.8 598.1 170 600 C172.2 601.9 171.7 608.9 173.3 611.7 C175 614.4 176.9 615.8 180 616.7 C183.1 617.5 188.9 615.6 191.7 616.7 C194.4 617.8 194.7 621.4 196.7 623.3 C198.6 625.3 201.9 625.6 203.3 628.3 C204.7 631.1 203.6 637.2 205 640 C206.4 642.8 209.2 644.7 211.7 645 C214.2 645.3 217.5 641.9 220 641.7 C222.5 641.4 225.3 641.4 226.7 643.3 C228.1 645.3 227.2 650.3 228.3 653.3 C229.4 656.4 230.8 659.7 233.3 661.7 C235.8 663.6 240 663.3 243.3 665 C246.7 666.7 250 670.3 253.3 671.7 C256.7 673.1 261.4 671.9 263.3 673.3 C265.3 674.7 264.7 678.9 265 680"/>
<path d="M1489.3 299.7 C1491.3 299.7 1497.7 298 1501 299.7 C1504.3 301.3 1506.5 308.4 1509.3 309.7 C1512.1 310.9 1514.5 306.2 1517.6 307 C1520.6 307.8 1524.5 311.7 1527.6 314.6 C1530.6 317.6 1533.6 321.3 1535.9 324.6 C1538.1 327.9 1539.5 334.3 1540.8 334.6 C1542.2 334.9 1542.8 328.8 1544.2 326.3 C1545.6 323.8 1547.2 321.8 1549.2 319.6 C1551.1 317.4 1554.1 315.5 1555.8 313 C1557.5 310.5 1556.9 305.7 1559.1 304.7 C1561.3 303.7 1567.4 306.6 1569.1 307"/>
<path d="M1497.7 306.3 C1497.7 307.4 1498.5 310.2 1497.7 313 C1496.8 315.7 1495.7 321 1492.7 322.9 C1489.6 324.9 1482.8 323.2 1479.4 324.6 C1475.9 326 1472.6 327.7 1472.1 331.3 C1471.5 334.9 1474.6 340.9 1476.1 346.2 C1477.5 351.5 1479.1 358.1 1481 362.8 C1483 367.5 1485.7 371.1 1487.7 374.5 C1489.6 377.8 1492.4 379.2 1492.7 382.8 C1492.9 386.4 1490.9 391.6 1489.3 396.1 C1487.8 400.5 1484.6 405.2 1483.4 409.3 C1482.1 413.5 1481.6 417.7 1482 421 C1482.5 424.3 1486.5 426.8 1486 429.3 C1485.6 431.8 1482.4 435.1 1479.4 435.9 C1476.3 436.8 1470.5 433.2 1467.7 434.3 C1465 435.4 1463 439.3 1462.8 442.6 C1462.5 445.9 1464.7 450.3 1466.1 454.2 C1467.5 458.1 1470 462.2 1471.1 465.8 C1472.2 469.4 1473.6 472.5 1472.7 475.8 C1471.9 479.1 1467.6 482.7 1466.1 485.8 C1464.6 488.8 1463.2 491.3 1463.8 494.1 C1464.3 496.8 1467.1 500.2 1469.4 502.4 C1471.7 504.6 1475.9 505.4 1477.7 507.4 C1479.5 509.3 1481.2 511.5 1480.4 514 C1479.5 516.5 1475.7 519.8 1472.7 522.3 C1469.8 524.8 1464.5 526.8 1462.8 529 C1461 531.2 1461 533.7 1462.1 535.6 C1463.2 537.6 1468.1 538.4 1469.4 540.6 C1470.7 542.8 1471.2 546.1 1470.1 548.9 C1469 551.7 1465.1 554.2 1462.8 557.2 C1460.4 560.3 1457.5 563 1456.1 567.2 C1454.7 571.3 1456.1 577.4 1454.5 582.1 C1452.8 586.8 1449.2 591.6 1446.1 595.4 C1443.1 599.3 1439.5 602.1 1436.2 605.4 C1432.9 608.7 1428.7 612 1426.2 615.4 C1423.7 618.7 1422.1 622.3 1421.2 625.3 C1420.4 628.4 1420.4 630.9 1421.2 633.6 C1422.1 636.4 1425.4 638.6 1426.2 641.9 C1427 645.3 1427.3 649.7 1426.2 653.6 C1425.1 657.5 1421.8 662.4 1419.6 665.2 C1417.3 668 1415.1 670.2 1412.9 670.2 C1410.7 670.2 1409 666.3 1406.3 665.2 C1403.5 664.1 1400.2 663 1396.3 663.5 C1392.4 664.1 1386.3 665.8 1383 668.5 C1379.7 671.3 1377.5 678.2 1376.4 680.2"/>
<path d="M260 680 C260.8 681.1 262.8 684.4 265 686.7 C267.2 688.9 270.3 691.1 273.3 693.3 C276.4 695.6 280.3 696.7 283.3 700 C286.4 703.3 288.9 710 291.7 713.3 C294.4 716.7 296.9 718.3 300 720 C303.1 721.7 306.9 721.4 310 723.3 C313.1 725.3 316.1 729.4 318.3 731.7 C320.6 733.9 322.5 735.8 323.3 736.7"/>
<path d="M361.7 680 C361.9 682.2 364.7 690.3 363.3 693.3 C361.9 696.4 355.3 695.8 353.3 698.3 C351.4 700.8 353.6 705.8 351.7 708.3 C349.7 710.8 344.7 711.4 341.7 713.3 C338.6 715.3 333.9 717.2 333.3 720 C332.8 722.8 337.8 726.9 338.3 730 C338.9 733.1 339.2 736.8 336.7 738.3 C334.2 739.9 328.3 737.7 323.3 739.3 C318.3 741 311.9 745.4 306.7 748.3 C301.4 751.2 294.4 753.9 291.7 756.7 C288.9 759.4 289.4 761.9 290 765 C290.6 768.1 295.6 772.2 295 775 C294.4 777.8 289.2 779.4 286.7 781.7 C284.2 783.9 280.3 785.8 280 788.3 C279.7 790.8 285.3 795 285 796.7 C284.7 798.3 280.8 798.6 278.3 798.3 C275.8 798.1 271.7 793.6 270 795 C268.3 796.4 268.9 803.3 268.3 806.7 C267.8 810 269.2 813.1 266.7 815 C264.2 816.9 257.5 816.7 253.3 818.3 C249.2 820 244.4 821.9 241.7 825 C238.9 828.1 236.9 833.1 236.7 836.7 C236.4 840.3 237.8 843.9 240 846.7 C242.2 849.4 247.2 850.8 250 853.3 C252.8 855.8 255.6 858.3 256.7 861.7 C257.8 865 257.2 869.4 256.7 873.3 C256.1 877.2 253.9 882.5 253.3 885 C252.8 887.5 253.3 887.8 253.3 888.3"/>
<path d="M253.3 888.3 C250 890.6 240 898.1 233.3 901.7 C226.7 905.3 218.9 907.2 213.3 910 C207.8 912.8 203.9 914.7 200 918.3 C196.1 921.9 192.5 928.1 190 931.7 C187.5 935.3 187.2 937.5 185 940 C182.8 942.5 178.9 943.9 176.7 946.7 C174.4 949.4 172.2 952.8 171.7 956.7 C171.1 960.6 172.8 966.1 173.3 970 C173.9 973.9 175.3 976.9 175 980 C174.7 983.1 170.8 985.3 171.7 988.3 C172.5 991.4 176.9 994.7 180 998.3 C183.1 1001.9 187.9 1005.3 190 1010 C192.1 1014.7 191.8 1020.6 192.7 1026.7 C193.5 1032.8 195.4 1040 195 1046.7 C194.6 1053.3 191.7 1060.6 190 1066.7 C188.3 1072.8 185.6 1078.3 185 1083.3 C184.4 1088.3 185.7 1092.2 186.7 1096.7 C187.6 1101.1 190.9 1105.6 190.7 1110 C190.4 1114.4 186.8 1118.9 185 1123.3 C183.2 1127.8 180.8 1132.8 180 1136.7 C179.2 1140.6 182.2 1142.8 180 1146.7 C177.8 1150.6 168.9 1157.8 166.7 1160"/>
<path d="M20.7 1126 C46.4 1125.6 149.2 1122.1 175 1123.3 C200.8 1124.6 176.2 1131.1 175.7 1133.3 C175.1 1135.6 171.9 1135 171.7 1136.7 C171.4 1138.3 172.6 1141.9 174 1143.3 C175.4 1144.7 179 1144.7 180 1145"/>
<path d="M941.7 976.7 C942.2 974.4 942.2 968.9 945 963.3 C947.8 957.8 955.6 950 958.3 943.3 C961.1 936.7 960 928.3 961.7 923.3 C963.3 918.3 964.2 916.4 968.3 913.3 C972.5 910.3 981.1 908.9 986.7 905 C992.2 901.1 996.7 893.7 1001.7 890 C1006.7 886.3 1011.4 883.9 1016.7 882.7 C1021.9 881.4 1029.2 881.2 1033.3 882.7 C1037.5 884.2 1037.8 889.3 1041.7 891.7 C1045.6 894 1051.4 896.4 1056.7 896.7 C1061.9 896.9 1068.9 892.5 1073.3 893.3 C1077.8 894.2 1079.7 898.9 1083.3 901.7 C1086.9 904.4 1091.1 906.9 1095 910 C1098.9 913.1 1102.5 916.9 1106.7 920 C1110.8 923.1 1115.6 927.2 1120 928.3 C1124.4 929.4 1129.4 929.2 1133.3 926.7 C1137.2 924.2 1139.4 917.2 1143.3 913.3 C1147.2 909.4 1151.7 906.1 1156.7 903.3 C1161.7 900.6 1168.9 900 1173.3 896.7 C1177.8 893.3 1181.1 888.3 1183.3 883.3 C1185.6 878.3 1187.2 871.1 1186.7 866.7 C1186.1 862.2 1182.8 860 1180 856.7 C1177.2 853.3 1171.1 850.3 1170 846.7 C1168.9 843.1 1170.6 837.8 1173.3 835 C1176.1 832.2 1184.4 833.1 1186.7 830 C1188.9 826.9 1184.4 819.4 1186.7 816.7 C1188.9 813.9 1195 814.4 1200 813.3 C1205 812.2 1213.3 813.3 1216.7 810 C1220 806.7 1218.3 798.9 1220 793.3 C1221.7 787.8 1223.3 780.8 1226.7 776.7 C1230 772.5 1234.4 770.3 1240 768.3 C1245.6 766.4 1253.5 766.7 1260 765 C1266.5 763.3 1275.8 759.4 1279 758.3"/>
<path d="M1041.7 891.7 C1041.1 895.3 1039.7 907.5 1038.3 913.3 C1036.9 919.2 1033.1 921.1 1033.3 926.7 C1033.6 932.2 1036.1 940 1040 946.7 C1043.9 953.3 1051.1 958.3 1056.7 966.7 C1062.2 975 1068.3 987.8 1073.3 996.7 C1078.3 1005.6 1081.9 1011.4 1086.7 1020 C1091.4 1028.6 1099.7 1041.1 1101.7 1048.3 C1103.6 1055.6 1098.3 1058.1 1098.3 1063.3 C1098.3 1068.6 1101.1 1077.2 1101.7 1080"/>
<path d="M946.1 968.3 C948.3 965.1 956.7 954.8 959.2 949.5 C961.8 944.2 961 941.3 961.1 936.3 C961.3 931.3 959.2 923.2 960.2 919.4 C961.1 915.7 963.8 915.2 966.8 913.8 C969.7 912.4 975.2 911.9 978 911 C980.8 910 981.2 910.8 983.7 908.2 C986.2 905.5 990.3 898.2 993.1 895 C995.8 891.9 998.8 890.3 1000 889.4"/>
<path d="M1376.4 679 C1376.8 681.4 1380.1 688.4 1379 693.3 C1377.9 698.2 1375.1 705.2 1369.7 708.2 C1364.3 711.3 1353.1 709.1 1346.5 711.6 C1339.8 714.1 1335.1 718.5 1329.8 723.2 C1324.6 727.9 1316.6 734.3 1314.9 739.8 C1313.2 745.4 1320.2 752.3 1319.9 756.4 C1319.6 760.6 1317.1 762.5 1313.2 764.7 C1309.4 766.9 1302.2 770.5 1296.6 769.7 C1291.1 768.9 1282.8 761.4 1280 759.8"/>
<path d="M166.7 1159 C165 1160.8 160.6 1167.6 156.7 1170 C152.8 1172.4 148.9 1173.6 143.3 1173.3 C137.8 1173.1 128.1 1167.8 123.3 1168.3 C118.6 1168.9 116.7 1173.1 115 1176.7 C113.3 1180.3 114.7 1186.1 113.3 1190 C111.9 1193.9 107.8 1196.1 106.7 1200 C105.6 1203.9 106.1 1208.9 106.7 1213.3 C107.2 1217.8 109.4 1222.2 110 1226.7 C110.6 1231.1 108.9 1236.7 110 1240 C111.1 1243.3 115.3 1243.3 116.7 1246.7 C118.1 1250 118.6 1255.6 118.3 1260 C118.1 1264.4 114.2 1269.4 115 1273.3 C115.8 1277.2 121.4 1280 123.3 1283.3 C125.3 1286.7 127.2 1290 126.7 1293.3 C126.1 1296.7 121.9 1299.7 120 1303.3 C118.1 1306.9 116.4 1311.1 115 1315 C113.6 1318.9 112.2 1322.5 111.7 1326.7 C111.1 1330.8 110.6 1336.1 111.7 1340 C112.8 1343.9 118.1 1346.1 118.3 1350 C118.6 1353.9 115.3 1358.9 113.3 1363.3 C111.4 1367.8 108.6 1372.8 106.7 1376.7 C104.7 1380.6 103.3 1383.9 101.7 1386.7 C100 1389.4 97.8 1390 96.7 1393.3 C95.6 1396.7 95 1401.7 95 1406.7 C95 1411.7 97.5 1418.3 96.7 1423.3 C95.8 1428.3 92.2 1432.2 90 1436.7 C87.8 1441.1 84.7 1445.8 83.3 1450 C81.9 1454.2 81.4 1457.8 81.7 1461.7 C81.9 1465.6 85.6 1469.4 85 1473.3 C84.4 1477.2 81.4 1481.4 78.3 1485 C75.3 1488.6 70.3 1492.2 66.7 1495 C63.1 1497.8 60.6 1500 56.7 1501.7 C52.8 1503.3 46.9 1503.1 43.3 1505 C39.7 1506.9 36.7 1510.6 35 1513.3 C33.3 1516.1 34.7 1518.3 33.3 1521.7 C31.9 1525 28.3 1529.4 26.7 1533.3 C25 1537.2 23.9 1543.1 23.3 1545"/>
<path d="M1080 1251.7 C1079.7 1251.9 1078.3 1250.3 1078.3 1253.3 C1078.3 1256.4 1080.8 1265 1080 1270 C1079.2 1275 1078.3 1280 1073.3 1283.3 C1068.3 1286.7 1055.3 1287.2 1050 1290 C1044.7 1292.8 1044.2 1296.9 1041.7 1300 C1039.2 1303.1 1034.2 1305 1035 1308.3 C1035.8 1311.7 1045.8 1316.4 1046.7 1320 C1047.5 1323.6 1043.9 1326.7 1040 1330 C1036.1 1333.3 1028.9 1335.6 1023.3 1340 C1017.8 1344.4 1012.2 1350 1006.7 1356.7 C1001.1 1363.3 996.1 1375.6 990 1380 C983.9 1384.4 975.3 1381.7 970 1383.3 C964.7 1385 960.6 1386.1 958.3 1390 C956.1 1393.9 956.9 1401.1 956.7 1406.7 C956.4 1412.2 958.3 1418.3 956.7 1423.3 C955 1428.3 951.1 1433.1 946.7 1436.7 C942.2 1440.3 933.9 1441.7 930 1445 C926.1 1448.3 924.2 1452.5 923.3 1456.7 C922.5 1460.8 925.6 1465 925 1470 C924.4 1475 924.7 1483.1 920 1486.7 C915.3 1490.3 903.3 1489.4 896.7 1491.7 C890 1493.9 884.7 1497.8 880 1500 C875.3 1502.2 871.1 1502.2 868.3 1505 C865.6 1507.8 865.8 1512.5 863.3 1516.7 C860.8 1520.8 855.6 1525.6 853.3 1530 C851.1 1534.4 850.6 1538.9 850 1543.3 C849.4 1547.8 851.7 1551.7 850 1556.7 C848.3 1561.7 843.3 1568.6 840 1573.3 C836.7 1578.1 834.2 1582.2 830 1585 C825.8 1587.8 818.1 1586.4 815 1590 C811.9 1593.6 813.6 1602.2 811.7 1606.7 C809.7 1611.1 805.3 1613.3 803.3 1616.7 C801.4 1620 803.9 1622.6 800 1626.7 C796.1 1630.7 783.3 1638.6 780 1641"/>
<path d="M780.2 1640 C778 1642.8 771 1651.7 766.9 1656.7 C762.7 1661.7 756.8 1666.2 755.2 1670.1 C753.5 1674 758.2 1677.6 756.8 1680.1 C755.5 1682.6 750.2 1682 746.8 1685.1 C743.5 1688.2 741.8 1693.2 736.8 1698.5 C731.8 1703.7 723.5 1712.1 716.8 1716.8 C710.1 1721.5 704 1724.1 696.8 1726.8 C689.5 1729.6 679.5 1730.5 673.4 1733.5 C667.3 1736.6 664.2 1740.5 660 1745.2 C655.9 1749.9 650.3 1759.1 648.3 1761.9"/>
<path d="M1325.4 1072.5 C1324.3 1072.9 1320.7 1072.9 1318.7 1075 C1316.8 1077.1 1315.9 1084.8 1313.7 1085 C1311.5 1085.3 1308.2 1078.6 1305.4 1076.7 C1302.6 1074.7 1300.1 1072.8 1297 1073.4 C1294 1073.9 1290.4 1076.7 1287 1080 C1283.7 1083.4 1280.9 1090.6 1277 1093.4 C1273.1 1096.2 1267.5 1096 1263.6 1096.7 C1259.7 1097.4 1255.8 1095.6 1253.6 1097.6 C1251.4 1099.5 1252.5 1106 1250.3 1108.4 C1248.1 1110.8 1242.6 1110.1 1240.3 1111.8 C1237.9 1113.4 1236 1115.6 1236.1 1118.4 C1236.2 1121.2 1241.2 1125.7 1241.1 1128.4 C1241 1131.2 1237.9 1132.9 1235.3 1135.1 C1232.6 1137.4 1228.3 1138.5 1225.2 1141.8 C1222.2 1145.1 1219.4 1153.8 1216.9 1155.2 C1214.4 1156.5 1212.4 1151.5 1210.2 1150.2 C1208 1148.8 1205.8 1145.7 1203.5 1146.8 C1201.3 1147.9 1199.4 1154 1196.9 1156.8 C1194.4 1159.6 1190.7 1160.2 1188.5 1163.5 C1186.3 1166.8 1185.7 1175.5 1183.5 1176.9 C1181.3 1178.3 1177.2 1174.4 1175.2 1171.9 C1173.1 1169.3 1172.7 1162.7 1171 1161.8 C1169.3 1161 1167 1163.8 1165.1 1166.8 C1163.3 1169.9 1163.2 1176.6 1160.1 1180.2 C1157.1 1183.8 1150.7 1185.8 1146.8 1188.5 C1142.9 1191.3 1140.7 1194.8 1136.8 1196.9 C1132.9 1199 1127 1199.4 1123.4 1201.1 C1119.8 1202.7 1115.9 1204.5 1115.1 1206.9 C1114.2 1209.3 1115.9 1213 1118.4 1215.3 C1120.9 1217.5 1125.6 1218.3 1130.1 1220.3 C1134.5 1222.2 1141.8 1224.7 1145.1 1226.9 C1148.4 1229.2 1150 1230.3 1150.1 1233.6 C1150.3 1237 1147.3 1242.5 1145.9 1247 C1144.6 1251.4 1143.3 1257.1 1141.8 1260.3 C1140.2 1263.5 1138.4 1267 1136.8 1266.2 C1135.1 1265.3 1133.4 1258.5 1131.8 1255.3 C1130.1 1252.1 1129.8 1248.9 1126.7 1247 C1123.7 1245 1118.4 1244.6 1113.4 1243.6 C1108.4 1242.7 1101.4 1240.9 1096.7 1241.1 C1092 1241.4 1087.8 1243.5 1085 1245.3 C1082.2 1247.1 1080.8 1250.9 1080 1252"/>
<path d="M1098.4 1080 C1099.5 1082.3 1103.7 1089.5 1105 1093.4 C1106.4 1097.3 1104.8 1099.2 1106.7 1103.4 C1108.7 1107.6 1113.9 1113.4 1116.7 1118.4 C1119.5 1123.4 1120.3 1129.8 1123.4 1133.5 C1126.5 1137.1 1132.6 1137.6 1135.1 1140.1 C1137.6 1142.6 1135.9 1145.7 1138.4 1148.5 C1140.9 1151.3 1146.5 1153.5 1150.1 1156.8 C1153.7 1160.2 1158.5 1166.6 1160.1 1168.5"/>
<path d="M1569 926.5 C1567.5 925.8 1562.1 921.9 1559.9 922.6 C1557.7 923.2 1556.2 927.1 1556 930.4 C1555.8 933.7 1559.7 940.4 1558.6 942.1 C1557.5 943.9 1552.3 943.4 1549.5 940.8 C1546.7 938.2 1544.7 929.5 1541.7 926.5 C1538.6 923.4 1534.7 922.4 1531.2 922.6 C1527.7 922.8 1523 925.8 1520.8 927.8 C1518.6 929.7 1517.3 932.4 1518.2 934.3 C1519.1 936.3 1525.6 937.6 1526 939.5 C1526.4 941.5 1523.4 944.5 1520.8 946.1 C1518.2 947.6 1513.8 946.9 1510.4 948.7 C1506.9 950.4 1502.8 956.9 1499.9 956.5 C1497.1 956 1495.6 949.1 1493.4 946.1 C1491.2 943 1489.3 938.9 1486.9 938.2 C1484.5 937.6 1481.7 938.2 1479.1 942.1 C1476.5 946.1 1473.4 957.1 1471.2 961.7 C1469.1 966.3 1468.2 969.5 1466 969.5 C1463.8 969.5 1459.9 964.3 1458.2 961.7 C1456.5 959.1 1457.1 954.7 1455.6 953.9 C1454.1 953 1450.8 953.9 1449.1 956.5 C1447.3 959.1 1444.9 966 1445.2 969.5 C1445.4 973 1453.4 975.8 1450.4 977.4 C1447.3 978.9 1432.1 980 1426.9 978.7 C1421.7 977.4 1420.8 972.4 1419.1 969.5 C1417.3 966.7 1418.2 962.1 1416.5 961.7 C1414.7 961.3 1410.6 963.9 1408.6 966.9 C1406.7 970 1406.5 976 1404.7 980 C1403 983.9 1401 987.6 1398.2 990.4 C1395.4 993.2 1390.2 993.9 1387.8 996.9 C1385.4 1000 1384.7 1004.1 1383.9 1008.6 C1383 1013.2 1383.6 1019.5 1382.6 1024.3 C1381.5 1029.1 1380.4 1033.9 1377.3 1037.3 C1374.3 1040.8 1368.6 1042.6 1364.3 1045.2 C1360 1047.8 1355.6 1052.8 1351.3 1053 C1346.9 1053.2 1341.7 1048 1338.2 1046.5 C1334.7 1044.9 1332.3 1043.2 1330.4 1043.9 C1328.4 1044.5 1326 1047.8 1326.5 1050.4 C1326.9 1053 1329.7 1056.9 1333 1059.5 C1336.3 1062.1 1344.3 1063.6 1346 1066 C1347.8 1068.4 1346.9 1072.8 1343.4 1073.9 C1340 1074.9 1328.2 1072.8 1325.2 1072.6"/>
<path d="M640 917.6 C641.6 917.7 645.6 917.1 649.4 918.5 C653.1 919.9 657.8 923.3 662.5 926 C667.2 928.7 672.6 932.1 677.6 934.5 C682.6 936.8 687.6 938.4 692.6 940.1 C697.6 941.8 702.6 944.6 707.6 944.8 C712.6 944.9 717.6 942 722.6 941 C727.6 940.1 733.3 939.9 737.7 939.2 C742 938.4 745.2 938.4 748.9 936.3 C752.7 934.3 756.4 929.5 760.2 926.9 C763.9 924.4 768 922.3 771.5 921.3 C774.9 920.4 777.7 920.4 780.8 921.3 C784 922.3 787.1 924.8 790.2 926.9 C793.4 929.1 796.5 932.3 799.6 934.5 C802.8 936.7 805.6 937.9 809 940.1 C812.5 942.3 816.8 945.9 820.3 947.6 C823.7 949.3 827.8 952 829.7 950.4 C831.5 948.9 830.3 941.2 831.5 938.2 C832.8 935.2 834.7 933.5 837.2 932.6 C839.7 931.6 843.1 933.2 846.6 932.6 C850 932 854.4 930.1 857.8 928.8 C861.3 927.6 864.1 924.9 867.2 925.1 C870.4 925.2 873.5 927.9 876.6 929.8 C879.7 931.6 883.2 933.4 886 936.3 C888.8 939.3 891 943.5 893.5 947.6 C896 951.7 898.2 956.7 901 960.8 C903.8 964.8 907.3 968.6 910.4 972 C913.6 975.5 916.4 979.4 919.8 981.4 C923.3 983.4 927.6 984.5 931.1 984.2 C934.5 983.9 938 982.2 940.5 979.5 C943 976.9 944.9 971.7 946.1 968.3 C947.4 964.8 949.2 960.1 948 958.9 C946.7 957.6 940.2 960.4 938.6 960.8"/>
<path d="M253.3 888.3 C256.1 887.2 263.9 883.7 270 881.3 C276.2 878.9 282.6 874.8 290.1 873.8 C297.6 872.8 306.8 875.5 315.1 875.1 C323.5 874.6 331.8 872.1 340.2 871.3 C348.5 870.5 356.8 870 365.2 870 C373.5 870 381.9 871.3 390.2 871.3 C398.6 871.3 406.9 870.6 415.3 870 C423.6 869.5 432 867.8 440.3 868 C448.6 868.3 457 869.1 465.3 871.3 C473.7 873.5 482 878.2 490.4 881.3 C498.7 884.4 507.1 887.6 515.4 890.1 C523.8 892.6 532.1 892.8 540.5 896.3 C548.8 899.9 557.1 907.4 565.5 911.4 C573.8 915.3 582.2 918.7 590.5 920.1 C598.9 921.6 607.2 920.5 615.6 920.1 C623.9 919.7 636.4 918 640.6 917.6"/>
</g>
<g stroke="#fff" stroke-width="6">
<path d="M541.7 221.7 C544.7 222.8 555.2 224.7 560 228.3 C564.8 231.9 568.7 238.9 570.7 243.3 C572.6 247.8 572.3 251.1 571.7 255 C571 258.9 567.5 262.2 566.7 266.7 C565.8 271.1 567.8 277.8 566.7 281.7 C565.6 285.6 561.9 286.7 560 290 C558.1 293.3 557.2 299.4 555 301.7 C552.8 303.9 548.9 304.2 546.7 303.3 C544.4 302.5 543.6 297.5 541.7 296.7 C539.7 295.8 535.8 295 535 298.3 C534.2 301.7 537.8 313.3 536.7 316.7 C535.6 320 531.7 318.6 528.3 318.3 C525 318.1 520.3 313.6 516.7 315 C513.1 316.4 508.1 323.6 506.7 326.7 C505.3 329.7 506.4 331.7 508.3 333.3 C510.3 335 517.2 335 518.3 336.7 C519.4 338.3 517.5 340.8 515 343.3 C512.5 345.8 507.5 349.7 503.3 351.7 C499.2 353.6 491.7 352.5 490 355 C488.3 357.5 491.9 363.6 493.3 366.7 C494.7 369.7 498.3 370.6 498.3 373.3 C498.3 376.1 496.4 380.6 493.3 383.3 C490.3 386.1 483.1 387.8 480 390 C476.9 392.2 474.2 394.4 475 396.7 C475.8 398.9 484.2 400.8 485 403.3 C485.8 405.8 482.2 409.4 480 411.7 C477.8 413.9 473.9 414.4 471.7 416.7 C469.4 418.9 465.8 422.8 466.7 425 C467.5 427.2 474.4 427.2 476.7 430 C478.9 432.8 482.2 438.9 480 441.7 C477.8 444.4 468.3 443.9 463.3 446.7 C458.3 449.4 455.6 454.7 450 458.3 C444.4 461.9 436.7 465.3 430 468.3 C423.3 471.4 414.7 473.1 410 476.7 C405.3 480.3 403.9 486.1 401.7 490 C399.4 493.9 399.2 498.6 396.7 500 C394.2 501.4 386.9 497.5 386.7 498.3 C386.4 499.2 391.9 502.5 395 505 C398.1 507.5 404.2 510.6 405 513.3 C405.8 516.1 403.1 519.4 400 521.7 C396.9 523.9 389.2 523.6 386.7 526.7 C384.2 529.7 384.7 536.1 385 540 C385.3 543.9 388.6 546.7 388.3 550 C388.1 553.3 386.1 557.2 383.3 560 C380.6 562.8 374.2 563.9 371.7 566.7 C369.2 569.4 367.8 573.3 368.3 576.7 C368.9 580 372.8 583.9 375 586.7 C377.2 589.4 381.7 591.4 381.7 593.3 C381.7 595.3 377.8 597.8 375 598.3 C372.2 598.9 366.4 595.8 365 596.7 C363.6 597.5 365 601.4 366.7 603.3 C368.3 605.3 374.7 605.8 375 608.3 C375.3 610.8 368.9 614.7 368.3 618.3 C367.8 621.9 370 626.7 371.7 630 C373.3 633.3 377.8 635.3 378.3 638.3 C378.9 641.4 374.7 645 375 648.3 C375.3 651.7 380.8 656.1 380 658.3 C379.2 660.6 373.6 661.9 370 661.7 C366.4 661.4 360 655.8 358.3 656.7 C356.7 657.5 359.7 662.8 360 666.7 C360.3 670.6 360 677.8 360 680"/>
<path d="M20.7 555 C22.5 554.2 29 549.7 31.7 550 C34.3 550.3 33.9 554.7 36.7 556.7 C39.4 558.6 44.2 561.7 48.3 561.7 C52.5 561.7 57.8 559.2 61.7 556.7 C65.6 554.2 68.3 548.9 71.7 546.7 C75 544.4 78.9 543.1 81.7 543.3 C84.4 543.6 86.9 546.1 88.3 548.3 C89.7 550.6 88.1 554.4 90 556.7 C91.9 558.9 97.2 559.7 100 561.7 C102.8 563.6 104.2 567.5 106.7 568.3 C109.2 569.2 111.9 566.4 115 566.7 C118.1 566.9 121.9 569.4 125 570 C128.1 570.6 130.6 568.9 133.3 570 C136.1 571.1 139.4 573.9 141.7 576.7 C143.9 579.4 144.4 583.6 146.7 586.7 C148.9 589.7 152.8 592.8 155 595 C157.2 597.2 157.5 599.2 160 600 C162.5 600.8 167.8 598.1 170 600 C172.2 601.9 171.7 608.9 173.3 611.7 C175 614.4 176.9 615.8 180 616.7 C183.1 617.5 188.9 615.6 191.7 616.7 C194.4 617.8 194.7 621.4 196.7 623.3 C198.6 625.3 201.9 625.6 203.3 628.3 C204.7 631.1 203.6 637.2 205 640 C206.4 642.8 209.2 644.7 211.7 645 C214.2 645.3 217.5 641.9 220 641.7 C222.5 641.4 225.3 641.4 226.7 643.3 C228.1 645.3 227.2 650.3 228.3 653.3 C229.4 656.4 230.8 659.7 233.3 661.7 C235.8 663.6 240 663.3 243.3 665 C246.7 666.7 250 670.3 253.3 671.7 C256.7 673.1 261.4 671.9 263.3 673.3 C265.3 674.7 264.7 678.9 265 680"/>
<path d="M1489.3 299.7 C1491.3 299.7 1497.7 298 1501 299.7 C1504.3 301.3 1506.5 308.4 1509.3 309.7 C1512.1 310.9 1514.5 306.2 1517.6 307 C1520.6 307.8 1524.5 311.7 1527.6 314.6 C1530.6 317.6 1533.6 321.3 1535.9 324.6 C1538.1 327.9 1539.5 334.3 1540.8 334.6 C1542.2 334.9 1542.8 328.8 1544.2 326.3 C1545.6 323.8 1547.2 321.8 1549.2 319.6 C1551.1 317.4 1554.1 315.5 1555.8 313 C1557.5 310.5 1556.9 305.7 1559.1 304.7 C1561.3 303.7 1567.4 306.6 1569.1 307"/>
<path d="M1497.7 306.3 C1497.7 307.4 1498.5 310.2 1497.7 313 C1496.8 315.7 1495.7 321 1492.7 322.9 C1489.6 324.9 1482.8 323.2 1479.4 324.6 C1475.9 326 1472.6 327.7 1472.1 331.3 C1471.5 334.9 1474.6 340.9 1476.1 346.2 C1477.5 351.5 1479.1 358.1 1481 362.8 C1483 367.5 1485.7 371.1 1487.7 374.5 C1489.6 377.8 1492.4 379.2 1492.7 382.8 C1492.9 386.4 1490.9 391.6 1489.3 396.1 C1487.8 400.5 1484.6 405.2 1483.4 409.3 C1482.1 413.5 1481.6 417.7 1482 421 C1482.5 424.3 1486.5 426.8 1486 429.3 C1485.6 431.8 1482.4 435.1 1479.4 435.9 C1476.3 436.8 1470.5 433.2 1467.7 434.3 C1465 435.4 1463 439.3 1462.8 442.6 C1462.5 445.9 1464.7 450.3 1466.1 454.2 C1467.5 458.1 1470 462.2 1471.1 465.8 C1472.2 469.4 1473.6 472.5 1472.7 475.8 C1471.9 479.1 1467.6 482.7 1466.1 485.8 C1464.6 488.8 1463.2 491.3 1463.8 494.1 C1464.3 496.8 1467.1 500.2 1469.4 502.4 C1471.7 504.6 1475.9 505.4 1477.7 507.4 C1479.5 509.3 1481.2 511.5 1480.4 514 C1479.5 516.5 1475.7 519.8 1472.7 522.3 C1469.8 524.8 1464.5 526.8 1462.8 529 C1461 531.2 1461 533.7 1462.1 535.6 C1463.2 537.6 1468.1 538.4 1469.4 540.6 C1470.7 542.8 1471.2 546.1 1470.1 548.9 C1469 551.7 1465.1 554.2 1462.8 557.2 C1460.4 560.3 1457.5 563 1456.1 567.2 C1454.7 571.3 1456.1 577.4 1454.5 582.1 C1452.8 586.8 1449.2 591.6 1446.1 595.4 C1443.1 599.3 1439.5 602.1 1436.2 605.4 C1432.9 608.7 1428.7 612 1426.2 615.4 C1423.7 618.7 1422.1 622.3 1421.2 625.3 C1420.4 628.4 1420.4 630.9 1421.2 633.6 C1422.1 636.4 1425.4 638.6 1426.2 641.9 C1427 645.3 1427.3 649.7 1426.2 653.6 C1425.1 657.5 1421.8 662.4 1419.6 665.2 C1417.3 668 1415.1 670.2 1412.9 670.2 C1410.7 670.2 1409 666.3 1406.3 665.2 C1403.5 664.1 1400.2 663 1396.3 663.5 C1392.4 664.1 1386.3 665.8 1383 668.5 C1379.7 671.3 1377.5 678.2 1376.4 680.2"/>
<path d="M260 680 C260.8 681.1 262.8 684.4 265 686.7 C267.2 688.9 270.3 691.1 273.3 693.3 C276.4 695.6 280.3 696.7 283.3 700 C286.4 703.3 288.9 710 291.7 713.3 C294.4 716.7 296.9 718.3 300 720 C303.1 721.7 306.9 721.4 310 723.3 C313.1 725.3 316.1 729.4 318.3 731.7 C320.6 733.9 322.5 735.8 323.3 736.7"/>
<path d="M361.7 680 C361.9 682.2 364.7 690.3 363.3 693.3 C361.9 696.4 355.3 695.8 353.3 698.3 C351.4 700.8 353.6 705.8 351.7 708.3 C349.7 710.8 344.7 711.4 341.7 713.3 C338.6 715.3 333.9 717.2 333.3 720 C332.8 722.8 337.8 726.9 338.3 730 C338.9 733.1 339.2 736.8 336.7 738.3 C334.2 739.9 328.3 737.7 323.3 739.3 C318.3 741 311.9 745.4 306.7 748.3 C301.4 751.2 294.4 753.9 291.7 756.7 C288.9 759.4 289.4 761.9 290 765 C290.6 768.1 295.6 772.2 295 775 C294.4 777.8 289.2 779.4 286.7 781.7 C284.2 783.9 280.3 785.8 280 788.3 C279.7 790.8 285.3 795 285 796.7 C284.7 798.3 280.8 798.6 278.3 798.3 C275.8 798.1 271.7 793.6 270 795 C268.3 796.4 268.9 803.3 268.3 806.7 C267.8 810 269.2 813.1 266.7 815 C264.2 816.9 257.5 816.7 253.3 818.3 C249.2 820 244.4 821.9 241.7 825 C238.9 828.1 236.9 833.1 236.7 836.7 C236.4 840.3 237.8 843.9 240 846.7 C242.2 849.4 247.2 850.8 250 853.3 C252.8 855.8 255.6 858.3 256.7 861.7 C257.8 865 257.2 869.4 256.7 873.3 C256.1 877.2 253.9 882.5 253.3 885 C252.8 887.5 253.3 887.8 253.3 888.3"/>
<path d="M253.3 888.3 C250 890.6 240 898.1 233.3 901.7 C226.7 905.3 218.9 907.2 213.3 910 C207.8 912.8 203.9 914.7 200 918.3 C196.1 921.9 192.5 928.1 190 931.7 C187.5 935.3 187.2 937.5 185 940 C182.8 942.5 178.9 943.9 176.7 946.7 C174.4 949.4 172.2 952.8 171.7 956.7 C171.1 960.6 172.8 966.1 173.3 970 C173.9 973.9 175.3 976.9 175 980 C174.7 983.1 170.8 985.3 171.7 988.3 C172.5 991.4 176.9 994.7 180 998.3 C183.1 1001.9 187.9 1005.3 190 1010 C192.1 1014.7 191.8 1020.6 192.7 1026.7 C193.5 1032.8 195.4 1040 195 1046.7 C194.6 1053.3 191.7 1060.6 190 1066.7 C188.3 1072.8 185.6 1078.3 185 1083.3 C184.4 1088.3 185.7 1092.2 186.7 1096.7 C187.6 1101.1 190.9 1105.6 190.7 1110 C190.4 1114.4 186.8 1118.9 185 1123.3 C183.2 1127.8 180.8 1132.8 180 1136.7 C179.2 1140.6 182.2 1142.8 180 1146.7 C177.8 1150.6 168.9 1157.8 166.7 1160"/>
<path d="M20.7 1126 C46.4 1125.6 149.2 1122.1 175 1123.3 C200.8 1124.6 176.2 1131.1 175.7 1133.3 C175.1 1135.6 171.9 1135 171.7 1136.7 C171.4 1138.3 172.6 1141.9 174 1143.3 C175.4 1144.7 179 1144.7 180 1145"/>
<path d="M941.7 976.7 C942.2 974.4 942.2 968.9 945 963.3 C947.8 957.8 955.6 950 958.3 943.3 C961.1 936.7 960 928.3 961.7 923.3 C963.3 918.3 964.2 916.4 968.3 913.3 C972.5 910.3 981.1 908.9 986.7 905 C992.2 901.1 996.7 893.7 1001.7 890 C1006.7 886.3 1011.4 883.9 1016.7 882.7 C1021.9 881.4 1029.2 881.2 1033.3 882.7 C1037.5 884.2 1037.8 889.3 1041.7 891.7 C1045.6 894 1051.4 896.4 1056.7 896.7 C1061.9 896.9 1068.9 892.5 1073.3 893.3 C1077.8 894.2 1079.7 898.9 1083.3 901.7 C1086.9 904.4 1091.1 906.9 1095 910 C1098.9 913.1 1102.5 916.9 1106.7 920 C1110.8 923.1 1115.6 927.2 1120 928.3 C1124.4 929.4 1129.4 929.2 1133.3 926.7 C1137.2 924.2 1139.4 917.2 1143.3 913.3 C1147.2 909.4 1151.7 906.1 1156.7 903.3 C1161.7 900.6 1168.9 900 1173.3 896.7 C1177.8 893.3 1181.1 888.3 1183.3 883.3 C1185.6 878.3 1187.2 871.1 1186.7 866.7 C1186.1 862.2 1182.8 860 1180 856.7 C1177.2 853.3 1171.1 850.3 1170 846.7 C1168.9 843.1 1170.6 837.8 1173.3 835 C1176.1 832.2 1184.4 833.1 1186.7 830 C1188.9 826.9 1184.4 819.4 1186.7 816.7 C1188.9 813.9 1195 814.4 1200 813.3 C1205 812.2 1213.3 813.3 1216.7 810 C1220 806.7 1218.3 798.9 1220 793.3 C1221.7 787.8 1223.3 780.8 1226.7 776.7 C1230 772.5 1234.4 770.3 1240 768.3 C1245.6 766.4 1253.5 766.7 1260 765 C1266.5 763.3 1275.8 759.4 1279 758.3"/>
<path d="M1041.7 891.7 C1041.1 895.3 1039.7 907.5 1038.3 913.3 C1036.9 919.2 1033.1 921.1 1033.3 926.7 C1033.6 932.2 1036.1 940 1040 946.7 C1043.9 953.3 1051.1 958.3 1056.7 966.7 C1062.2 975 1068.3 987.8 1073.3 996.7 C1078.3 1005.6 1081.9 1011.4 1086.7 1020 C1091.4 1028.6 1099.7 1041.1 1101.7 1048.3 C1103.6 1055.6 1098.3 1058.1 1098.3 1063.3 C1098.3 1068.6 1101.1 1077.2 1101.7 1080"/>
<path d="M946.1 968.3 C948.3 965.1 956.7 954.8 959.2 949.5 C961.8 944.2 961 941.3 961.1 936.3 C961.3 931.3 959.2 923.2 960.2 919.4 C961.1 915.7 963.8 915.2 966.8 913.8 C969.7 912.4 975.2 911.9 978 911 C980.8 910 981.2 910.8 983.7 908.2 C986.2 905.5 990.3 898.2 993.1 895 C995.8 891.9 998.8 890.3 1000 889.4"/>
<path d="M1376.4 679 C1376.8 681.4 1380.1 688.4 1379 693.3 C1377.9 698.2 1375.1 705.2 1369.7 708.2 C1364.3 711.3 1353.1 709.1 1346.5 711.6 C1339.8 714.1 1335.1 718.5 1329.8 723.2 C1324.6 727.9 1316.6 734.3 1314.9 739.8 C1313.2 745.4 1320.2 752.3 1319.9 756.4 C1319.6 760.6 1317.1 762.5 1313.2 764.7 C1309.4 766.9 1302.2 770.5 1296.6 769.7 C1291.1 768.9 1282.8 761.4 1280 759.8"/>
<path d="M166.7 1159 C165 1160.8 160.6 1167.6 156.7 1170 C152.8 1172.4 148.9 1173.6 143.3 1173.3 C137.8 1173.1 128.1 1167.8 123.3 1168.3 C118.6 1168.9 116.7 1173.1 115 1176.7 C113.3 1180.3 114.7 1186.1 113.3 1190 C111.9 1193.9 107.8 1196.1 106.7 1200 C105.6 1203.9 106.1 1208.9 106.7 1213.3 C107.2 1217.8 109.4 1222.2 110 1226.7 C110.6 1231.1 108.9 1236.7 110 1240 C111.1 1243.3 115.3 1243.3 116.7 1246.7 C118.1 1250 118.6 1255.6 118.3 1260 C118.1 1264.4 114.2 1269.4 115 1273.3 C115.8 1277.2 121.4 1280 123.3 1283.3 C125.3 1286.7 127.2 1290 126.7 1293.3 C126.1 1296.7 121.9 1299.7 120 1303.3 C118.1 1306.9 116.4 1311.1 115 1315 C113.6 1318.9 112.2 1322.5 111.7 1326.7 C111.1 1330.8 110.6 1336.1 111.7 1340 C112.8 1343.9 118.1 1346.1 118.3 1350 C118.6 1353.9 115.3 1358.9 113.3 1363.3 C111.4 1367.8 108.6 1372.8 106.7 1376.7 C104.7 1380.6 103.3 1383.9 101.7 1386.7 C100 1389.4 97.8 1390 96.7 1393.3 C95.6 1396.7 95 1401.7 95 1406.7 C95 1411.7 97.5 1418.3 96.7 1423.3 C95.8 1428.3 92.2 1432.2 90 1436.7 C87.8 1441.1 84.7 1445.8 83.3 1450 C81.9 1454.2 81.4 1457.8 81.7 1461.7 C81.9 1465.6 85.6 1469.4 85 1473.3 C84.4 1477.2 81.4 1481.4 78.3 1485 C75.3 1488.6 70.3 1492.2 66.7 1495 C63.1 1497.8 60.6 1500 56.7 1501.7 C52.8 1503.3 46.9 1503.1 43.3 1505 C39.7 1506.9 36.7 1510.6 35 1513.3 C33.3 1516.1 34.7 1518.3 33.3 1521.7 C31.9 1525 28.3 1529.4 26.7 1533.3 C25 1537.2 23.9 1543.1 23.3 1545"/>
<path d="M1080 1251.7 C1079.7 1251.9 1078.3 1250.3 1078.3 1253.3 C1078.3 1256.4 1080.8 1265 1080 1270 C1079.2 1275 1078.3 1280 1073.3 1283.3 C1068.3 1286.7 1055.3 1287.2 1050 1290 C1044.7 1292.8 1044.2 1296.9 1041.7 1300 C1039.2 1303.1 1034.2 1305 1035 1308.3 C1035.8 1311.7 1045.8 1316.4 1046.7 1320 C1047.5 1323.6 1043.9 1326.7 1040 1330 C1036.1 1333.3 1028.9 1335.6 1023.3 1340 C1017.8 1344.4 1012.2 1350 1006.7 1356.7 C1001.1 1363.3 996.1 1375.6 990 1380 C983.9 1384.4 975.3 1381.7 970 1383.3 C964.7 1385 960.6 1386.1 958.3 1390 C956.1 1393.9 956.9 1401.1 956.7 1406.7 C956.4 1412.2 958.3 1418.3 956.7 1423.3 C955 1428.3 951.1 1433.1 946.7 1436.7 C942.2 1440.3 933.9 1441.7 930 1445 C926.1 1448.3 924.2 1452.5 923.3 1456.7 C922.5 1460.8 925.6 1465 925 1470 C924.4 1475 924.7 1483.1 920 1486.7 C915.3 1490.3 903.3 1489.4 896.7 1491.7 C890 1493.9 884.7 1497.8 880 1500 C875.3 1502.2 871.1 1502.2 868.3 1505 C865.6 1507.8 865.8 1512.5 863.3 1516.7 C860.8 1520.8 855.6 1525.6 853.3 1530 C851.1 1534.4 850.6 1538.9 850 1543.3 C849.4 1547.8 851.7 1551.7 850 1556.7 C848.3 1561.7 843.3 1568.6 840 1573.3 C836.7 1578.1 834.2 1582.2 830 1585 C825.8 1587.8 818.1 1586.4 815 1590 C811.9 1593.6 813.6 1602.2 811.7 1606.7 C809.7 1611.1 805.3 1613.3 803.3 1616.7 C801.4 1620 803.9 1622.6 800 1626.7 C796.1 1630.7 783.3 1638.6 780 1641"/>
<path d="M780.2 1640 C778 1642.8 771 1651.7 766.9 1656.7 C762.7 1661.7 756.8 1666.2 755.2 1670.1 C753.5 1674 758.2 1677.6 756.8 1680.1 C755.5 1682.6 750.2 1682 746.8 1685.1 C743.5 1688.2 741.8 1693.2 736.8 1698.5 C731.8 1703.7 723.5 1712.1 716.8 1716.8 C710.1 1721.5 704 1724.1 696.8 1726.8 C689.5 1729.6 679.5 1730.5 673.4 1733.5 C667.3 1736.6 664.2 1740.5 660 1745.2 C655.9 1749.9 650.3 1759.1 648.3 1761.9"/>
<path d="M1325.4 1072.5 C1324.3 1072.9 1320.7 1072.9 1318.7 1075 C1316.8 1077.1 1315.9 1084.8 1313.7 1085 C1311.5 1085.3 1308.2 1078.6 1305.4 1076.7 C1302.6 1074.7 1300.1 1072.8 1297 1073.4 C1294 1073.9 1290.4 1076.7 1287 1080 C1283.7 1083.4 1280.9 1090.6 1277 1093.4 C1273.1 1096.2 1267.5 1096 1263.6 1096.7 C1259.7 1097.4 1255.8 1095.6 1253.6 1097.6 C1251.4 1099.5 1252.5 1106 1250.3 1108.4 C1248.1 1110.8 1242.6 1110.1 1240.3 1111.8 C1237.9 1113.4 1236 1115.6 1236.1 1118.4 C1236.2 1121.2 1241.2 1125.7 1241.1 1128.4 C1241 1131.2 1237.9 1132.9 1235.3 1135.1 C1232.6 1137.4 1228.3 1138.5 1225.2 1141.8 C1222.2 1145.1 1219.4 1153.8 1216.9 1155.2 C1214.4 1156.5 1212.4 1151.5 1210.2 1150.2 C1208 1148.8 1205.8 1145.7 1203.5 1146.8 C1201.3 1147.9 1199.4 1154 1196.9 1156.8 C1194.4 1159.6 1190.7 1160.2 1188.5 1163.5 C1186.3 1166.8 1185.7 1175.5 1183.5 1176.9 C1181.3 1178.3 1177.2 1174.4 1175.2 1171.9 C1173.1 1169.3 1172.7 1162.7 1171 1161.8 C1169.3 1161 1167 1163.8 1165.1 1166.8 C1163.3 1169.9 1163.2 1176.6 1160.1 1180.2 C1157.1 1183.8 1150.7 1185.8 1146.8 1188.5 C1142.9 1191.3 1140.7 1194.8 1136.8 1196.9 C1132.9 1199 1127 1199.4 1123.4 1201.1 C1119.8 1202.7 1115.9 1204.5 1115.1 1206.9 C1114.2 1209.3 1115.9 1213 1118.4 1215.3 C1120.9 1217.5 1125.6 1218.3 1130.1 1220.3 C1134.5 1222.2 1141.8 1224.7 1145.1 1226.9 C1148.4 1229.2 1150 1230.3 1150.1 1233.6 C1150.3 1237 1147.3 1242.5 1145.9 1247 C1144.6 1251.4 1143.3 1257.1 1141.8 1260.3 C1140.2 1263.5 1138.4 1267 1136.8 1266.2 C1135.1 1265.3 1133.4 1258.5 1131.8 1255.3 C1130.1 1252.1 1129.8 1248.9 1126.7 1247 C1123.7 1245 1118.4 1244.6 1113.4 1243.6 C1108.4 1242.7 1101.4 1240.9 1096.7 1241.1 C1092 1241.4 1087.8 1243.5 1085 1245.3 C1082.2 1247.1 1080.8 1250.9 1080 1252"/>
<path d="M1098.4 1080 C1099.5 1082.3 1103.7 1089.5 1105 1093.4 C1106.4 1097.3 1104.8 1099.2 1106.7 1103.4 C1108.7 1107.6 1113.9 1113.4 1116.7 1118.4 C1119.5 1123.4 1120.3 1129.8 1123.4 1133.5 C1126.5 1137.1 1132.6 1137.6 1135.1 1140.1 C1137.6 1142.6 1135.9 1145.7 1138.4 1148.5 C1140.9 1151.3 1146.5 1153.5 1150.1 1156.8 C1153.7 1160.2 1158.5 1166.6 1160.1 1168.5"/>
<path d="M1569 926.5 C1567.5 925.8 1562.1 921.9 1559.9 922.6 C1557.7 923.2 1556.2 927.1 1556 930.4 C1555.8 933.7 1559.7 940.4 1558.6 942.1 C1557.5 943.9 1552.3 943.4 1549.5 940.8 C1546.7 938.2 1544.7 929.5 1541.7 926.5 C1538.6 923.4 1534.7 922.4 1531.2 922.6 C1527.7 922.8 1523 925.8 1520.8 927.8 C1518.6 929.7 1517.3 932.4 1518.2 934.3 C1519.1 936.3 1525.6 937.6 1526 939.5 C1526.4 941.5 1523.4 944.5 1520.8 946.1 C1518.2 947.6 1513.8 946.9 1510.4 948.7 C1506.9 950.4 1502.8 956.9 1499.9 956.5 C1497.1 956 1495.6 949.1 1493.4 946.1 C1491.2 943 1489.3 938.9 1486.9 938.2 C1484.5 937.6 1481.7 938.2 1479.1 942.1 C1476.5 946.1 1473.4 957.1 1471.2 961.7 C1469.1 966.3 1468.2 969.5 1466 969.5 C1463.8 969.5 1459.9 964.3 1458.2 961.7 C1456.5 959.1 1457.1 954.7 1455.6 953.9 C1454.1 953 1450.8 953.9 1449.1 956.5 C1447.3 959.1 1444.9 966 1445.2 969.5 C1445.4 973 1453.4 975.8 1450.4 977.4 C1447.3 978.9 1432.1 980 1426.9 978.7 C1421.7 977.4 1420.8 972.4 1419.1 969.5 C1417.3 966.7 1418.2 962.1 1416.5 961.7 C1414.7 961.3 1410.6 963.9 1408.6 966.9 C1406.7 970 1406.5 976 1404.7 980 C1403 983.9 1401 987.6 1398.2 990.4 C1395.4 993.2 1390.2 993.9 1387.8 996.9 C1385.4 1000 1384.7 1004.1 1383.9 1008.6 C1383 1013.2 1383.6 1019.5 1382.6 1024.3 C1381.5 1029.1 1380.4 1033.9 1377.3 1037.3 C1374.3 1040.8 1368.6 1042.6 1364.3 1045.2 C1360 1047.8 1355.6 1052.8 1351.3 1053 C1346.9 1053.2 1341.7 1048 1338.2 1046.5 C1334.7 1044.9 1332.3 1043.2 1330.4 1043.9 C1328.4 1044.5 1326 1047.8 1326.5 1050.4 C1326.9 1053 1329.7 1056.9 1333 1059.5 C1336.3 1062.1 1344.3 1063.6 1346 1066 C1347.8 1068.4 1346.9 1072.8 1343.4 1073.9 C1340 1074.9 1328.2 1072.8 1325.2 1072.6"/>
</g>
<g stroke="#fff" stroke-width="7">
<path d="M640 917.6 C641.6 917.7 645.6 917.1 649.4 918.5 C653.1 919.9 657.8 923.3 662.5 926 C667.2 928.7 672.6 932.1 677.6 934.5 C682.6 936.8 687.6 938.4 692.6 940.1 C697.6 941.8 702.6 944.6 707.6 944.8 C712.6 944.9 717.6 942 722.6 941 C727.6 940.1 733.3 939.9 737.7 939.2 C742 938.4 745.2 938.4 748.9 936.3 C752.7 934.3 756.4 929.5 760.2 926.9 C763.9 924.4 768 922.3 771.5 921.3 C774.9 920.4 777.7 920.4 780.8 921.3 C784 922.3 787.1 924.8 790.2 926.9 C793.4 929.1 796.5 932.3 799.6 934.5 C802.8 936.7 805.6 937.9 809 940.1 C812.5 942.3 816.8 945.9 820.3 947.6 C823.7 949.3 827.8 952 829.7 950.4 C831.5 948.9 830.3 941.2 831.5 938.2 C832.8 935.2 834.7 933.5 837.2 932.6 C839.7 931.6 843.1 933.2 846.6 932.6 C850 932 854.4 930.1 857.8 928.8 C861.3 927.6 864.1 924.9 867.2 925.1 C870.4 925.2 873.5 927.9 876.6 929.8 C879.7 931.6 883.2 933.4 886 936.3 C888.8 939.3 891 943.5 893.5 947.6 C896 951.7 898.2 956.7 901 960.8 C903.8 964.8 907.3 968.6 910.4 972 C913.6 975.5 916.4 979.4 919.8 981.4 C923.3 983.4 927.6 984.5 931.1 984.2 C934.5 983.9 938 982.2 940.5 979.5 C943 976.9 944.9 971.7 946.1 968.3 C947.4 964.8 949.2 960.1 948 958.9 C946.7 957.6 940.2 960.4 938.6 960.8"/>
<path d="M253.3 888.3 C256.1 887.2 263.9 883.7 270 881.3 C276.2 878.9 282.6 874.8 290.1 873.8 C297.6 872.8 306.8 875.5 315.1 875.1 C323.5 874.6 331.8 872.1 340.2 871.3 C348.5 870.5 356.8 870 365.2 870 C373.5 870 381.9 871.3 390.2 871.3 C398.6 871.3 406.9 870.6 415.3 870 C423.6 869.5 432 867.8 440.3 868 C448.6 868.3 457 869.1 465.3 871.3 C473.7 873.5 482 878.2 490.4 881.3 C498.7 884.4 507.1 887.6 515.4 890.1 C523.8 892.6 532.1 892.8 540.5 896.3 C548.8 899.9 557.1 907.4 565.5 911.4 C573.8 915.3 582.2 918.7 590.5 920.1 C598.9 921.6 607.2 920.5 615.6 920.1 C623.9 919.7 636.4 918 640.6 917.6"/>
</g>
<g stroke="#fff" stroke-width="3.6">
<path d="M642.1 918.6 C642.6 917.8 643.7 913.7 644.8 913.6 C646 913.4 647.2 916.4 649.1 917.6 C650.9 918.8 653.6 919.5 655.9 920.7 C658.1 922 660.4 922.9 662.5 924.9 C664.6 926.8 665.8 930.1 668.5 932.4 C671.2 934.6 675.8 937.9 678.6 938.6 C681.4 939.2 682.9 936.7 685.1 936.3 C687.3 935.9 689.2 935.8 691.9 936.4 C694.6 937 698.9 938.5 701.3 939.8 C703.6 941.1 703.6 943.7 706.2 944.3 C708.8 944.9 714.4 944.3 716.9 943.5 C719.4 942.7 719.1 940 721.4 939.3 C723.7 938.7 728.3 939.8 730.9 939.7 C733.4 939.6 734.5 938.1 736.7 938.6 C738.9 939.1 742.4 943.1 744.2 942.5 C746 941.9 745.9 937.6 747.4 934.8 C749 932.1 751.6 927.6 753.6 925.8 C755.5 924.1 756.8 924.8 759.1 924.5 C761.3 924.2 765.4 924.1 767.2 923.8 C768.9 923.5 768.1 924 769.5 922.9 C770.9 921.8 774 917.6 775.7 917.1 C777.5 916.6 778.7 918.7 780.1 919.9 C781.6 921.1 783.3 923.1 784.5 924.2 C785.7 925.3 785.6 924.9 787.5 926.3 C789.5 927.7 793.9 930.9 796.1 932.8 C798.4 934.6 799.3 936.8 801 937.1 C802.6 937.5 804.6 934.8 806.1 934.6 C807.6 934.3 808.7 934.9 810 935.6 C811.3 936.4 812 936.7 813.9 939.3 C815.8 941.8 819.7 948.5 821.5 950.8 C823.3 953.1 823.5 953.3 824.7 953.3 C826 953.3 827.9 952.7 828.9 950.8 C829.9 948.9 830.3 943.1 830.8 941.8 C831.3 940.4 831.7 943.6 832.1 942.9 C832.5 942.2 832.3 938.6 833.1 937.6 C834 936.6 835.4 937.4 837 936.8 C838.6 936.3 840.7 934.8 842.5 934.2 C844.2 933.6 846 933.2 847.3 933.2 C848.7 933.2 849.1 934.7 850.5 934 C852 933.4 854.1 930.9 856.2 929.4 C858.3 927.9 861.4 925.2 863.3 924.9 C865.1 924.7 866 927.8 867.4 927.9 C868.8 927.9 870.9 925.4 871.9 925.3 C872.8 925.2 871.7 926.3 873.1 927.4 C874.6 928.5 878.6 930.2 880.6 931.8 C882.6 933.4 883.4 935.6 884.9 937.2 C886.3 938.9 887.5 940.3 889.1 941.7 C890.7 943.1 893 942.6 894.3 945.6 C895.6 948.5 895.6 957.3 896.9 959.4 C898.2 961.4 900.6 956.2 902.1 957.6 C903.5 959 904 965.3 905.6 967.7 C907.3 970.2 910.4 971.2 911.9 972.4 C913.4 973.6 913 973.3 914.5 975 C915.9 976.6 918.9 980.9 920.6 982.2 C922.3 983.4 923.2 981.7 924.8 982.4 C926.5 983 928.9 985.9 930.6 986 C932.3 986.1 933.1 983.9 934.9 983 C936.8 982.2 940.3 981.7 941.5 980.7 C942.7 979.7 941.7 979 942.3 977.1 C942.9 975.2 944.6 972.2 945.3 969.3 C945.9 966.3 945.6 961 946.1 959.4 C946.6 957.8 948.7 959.4 948.3 959.6 C947.8 959.7 944.8 960.3 943.2 960.5 C941.6 960.7 939.4 960.7 938.6 960.8"/>
<path d="M639.2 915.8 C640.1 916.9 642.6 922.4 644.5 922.6 C646.4 922.9 648.3 917.5 650.4 917.2 C652.4 917 654.7 919.3 656.6 921.1 C658.6 922.9 659.9 927.2 662 928.1 C664.1 928.9 667 925.1 669.4 926.2 C671.8 927.3 673.8 932.3 676.5 934.7 C679.1 937 682.7 939.1 685.2 940.3 C687.8 941.5 689.2 941.5 691.7 941.8 C694.3 942.2 697.8 941.4 700.6 942.1 C703.4 942.8 706.4 945.4 708.6 946 C710.9 946.5 712 946.3 714.1 945.5 C716.2 944.7 718.5 941.9 721.2 941.2 C723.8 940.4 727.5 941.5 730.1 941.1 C732.7 940.8 734.6 939.2 736.8 939.1 C738.9 938.9 741.3 940.6 743.1 940.1 C745 939.7 746.1 938.4 748 936.5 C749.8 934.6 751.7 930.2 754.2 928.5 C756.8 926.9 761.8 926.9 763.4 926.8 C765 926.6 762.9 928.3 764 927.5 C765.2 926.8 768 923.5 770.2 922.2 C772.4 920.9 775.5 920.1 777.2 919.8 C778.9 919.4 779 919.9 780.3 920 C781.7 920.1 784 919.1 785.4 920.2 C786.8 921.3 787 924.6 788.8 926.6 C790.6 928.6 794 930.6 796.2 932.2 C798.3 933.8 800.4 935.3 801.7 936.1 C803 936.9 802.9 936.7 803.7 937 C804.5 937.3 805 936.5 806.6 937.8 C808.2 939 811 943.1 813.4 944.5 C815.8 945.9 819.3 946.1 821.1 946.3 C822.9 946.4 822.9 944.5 824.3 945.3 C825.7 946.1 828.4 951.5 829.5 951 C830.7 950.5 830.4 944.1 831.1 942.4 C831.9 940.8 833.4 942.5 833.9 941.1 C834.5 939.7 833.8 935.5 834.3 934.1 C834.7 932.8 835.5 933 836.8 932.9 C838.1 932.9 840.1 933.3 841.9 933.7 C843.6 934.2 845.5 936.4 847.5 935.9 C849.5 935.3 851.8 931.8 853.6 930.4 C855.4 929.1 856.9 927.7 858.3 927.9 C859.7 928.1 860.4 931.2 861.8 931.5 C863.2 931.9 865.1 930.4 866.7 929.8 C868.3 929.3 869.6 928 871.5 928 C873.4 928 876.2 929.1 877.9 929.8 C879.6 930.6 880.5 931.5 881.8 932.5 C883 933.5 884.2 933.7 885.4 935.9 C886.6 938.2 887.7 943.3 889 945.9 C890.3 948.5 892.5 950.4 893.3 951.7 C894.2 953.1 892.7 952.8 894.1 954.2 C895.5 955.6 899.5 957.8 901.7 960 C903.9 962.3 905.6 965.8 907 967.9 C908.4 970.1 908.2 971.5 910.1 973.1 C912 974.6 916.8 976.1 918.5 977.3 C920.2 978.5 919 980 920.2 980.4 C921.4 980.8 923.8 978.1 925.6 979.7 C927.4 981.4 928.9 989.5 930.8 990.1 C932.8 990.7 935.2 984.4 937.1 983.4 C938.9 982.4 940.6 984.8 941.8 984 C943 983.3 943.1 981.4 944 978.9 C944.9 976.3 946.5 972.2 947.4 968.7 C948.2 965.2 949.1 959.4 949.1 957.9 C949.1 956.4 948.4 959.3 947.3 959.5 C946.1 959.8 943.6 959.2 942.2 959.4 C940.7 959.6 939.2 960.5 938.6 960.8"/>
<path d="M252.5 886.8 C254.6 886.7 262 886.7 264.9 886.3 C267.8 885.9 267.5 885.6 270 884.5 C272.5 883.4 276.4 880.8 279.8 879.7 C283.2 878.6 287 878.3 290.5 877.7 C294 877.1 296.8 877.2 300.9 876.3 C305 875.4 310.6 873.1 315.3 872.3 C319.9 871.4 324.4 871 328.9 871.1 C333.4 871.1 338 872.6 342.1 872.5 C346.2 872.5 349.5 872 353.5 870.9 C357.5 869.7 362.2 865.9 366.3 865.6 C370.3 865.3 373.7 868.2 377.8 869.2 C381.8 870.1 386.3 871.3 390.6 871.2 C394.8 871.1 399 867.9 403.5 868.7 C408 869.4 413.5 875.5 417.5 875.6 C421.5 875.7 423.7 869.8 427.5 869 C431.4 868.3 436.1 871.4 440.6 871.1 C445.2 870.7 451.1 867.2 455.1 866.8 C459.1 866.4 461 867.8 464.6 868.7 C468.2 869.7 472.2 870.7 476.5 872.4 C480.9 874 486.1 875.9 490.8 878.5 C495.5 881.1 500.8 886.4 504.7 887.9 C508.6 889.4 510.4 886.2 514.2 887.6 C517.9 889.1 523 895.7 527.2 896.6 C531.4 897.4 535.1 891.4 539.4 892.7 C543.7 894.1 548.7 901 552.9 904.7 C557.1 908.5 560.5 913.2 564.7 915.2 C568.9 917.3 574.2 916 578.3 916.8 C582.4 917.6 585.4 920.4 589.5 920 C593.6 919.7 598.5 915.4 602.9 914.7 C607.3 914 611.7 915.7 615.9 915.8 C620.1 915.9 623.9 915 628 915.3 C632.2 915.6 638.5 917.2 640.6 917.6"/>
<path d="M255.7 889.1 C256.9 888.8 260.6 889.2 262.7 887 C264.8 884.8 265.6 877.1 268.5 875.8 C271.3 874.6 276 879.7 279.7 879.7 C283.3 879.7 286.2 877.2 290.2 875.7 C294.2 874.2 299.5 870.2 303.7 870.8 C307.9 871.5 311.6 880.2 315.5 879.8 C319.3 879.3 322.9 869.9 326.9 868.3 C331 866.7 335.5 870.1 339.9 870.2 C344.2 870.2 348.9 869.4 353.2 868.5 C357.4 867.6 361 863.7 365.3 864.7 C369.6 865.7 374.3 874 378.7 874.5 C383.1 875 387.7 869.5 391.8 867.7 C395.8 865.8 399.2 863.1 403.1 863.5 C407.1 863.9 411.7 868.8 415.6 869.9 C419.5 871 422.4 869.8 426.6 869.9 C430.7 869.9 436.1 870.2 440.5 870.3 C444.9 870.4 449.2 870.5 453 870.2 C456.7 869.9 459 867.4 463 868.5 C467.1 869.6 472.7 874.3 477.3 877 C481.8 879.8 486.3 883.6 490.4 884.9 C494.5 886.3 497.6 884.4 501.9 885.1 C506.1 885.9 511.3 888.4 515.7 889.5 C520.2 890.6 524.1 890.8 528.5 891.8 C532.9 892.8 537.9 893.6 542.2 895.6 C546.5 897.6 550.1 901.7 554.3 903.8 C558.5 905.8 563.2 906.2 567.3 908 C571.3 909.8 574.7 912.2 578.6 914.7 C582.5 917.2 587 922.6 590.8 923 C594.6 923.4 597.8 917.3 601.7 916.9 C605.6 916.6 610.3 920.4 614.4 920.7 C618.4 921.1 621.4 919.6 625.8 919.1 C630.2 918.6 638.1 917.9 640.6 917.6"/>
</g>
<g stroke="#fff" stroke-width="9.5">
<path d="M748.9 940.1 C750.2 941.7 754.2 946.4 756.4 949.5 C758.6 952.6 759.6 955.4 762.1 958.9 C764.6 962.3 768.6 967 771.5 970.1 C774.3 973.3 775.8 975.6 779 977.7 C782.1 979.7 786.8 981.7 790.2 982.3 C793.7 983 796.5 982.5 799.6 981.4 C802.8 980.3 805.9 976.1 809 975.8 C812.1 975.5 815.3 978.6 818.4 979.5 C821.5 980.5 824.7 981.7 827.8 981.4 C830.9 981.1 834.4 979.2 837.2 977.7 C840 976.1 843.3 974.2 844.7 972 C846.1 969.8 846.6 967 845.6 964.5 C844.7 962 841.1 959.2 839.1 957 C837 954.8 835 952.5 833.4 951.4 C831.9 950.3 830.3 950.6 829.7 950.4"/>
</g>
<circle cx="794" cy="989.7" r="743.8" stroke="#fff" stroke-width="3.1"/>
</g>
<g clip-path="url(#cm)">
<circle cx="95" cy="349" r="6.6" fill="#fff"/>
<circle cx="480.3" cy="442.3" r="6.6" fill="#fff"/>
<circle cx="387.3" cy="499" r="6.6" fill="#fff"/>
<circle cx="699.3" cy="305.3" r="6.6" fill="#fff"/>
<circle cx="914" cy="357" r="6.6" fill="#fff"/>
<circle cx="674.3" cy="425.3" r="6.6" fill="#fff"/>
<circle cx="709" cy="575" r="6.6" fill="#fff"/>
<circle cx="702.3" cy="664.7" r="6.6" fill="#fff"/>
<circle cx="1497.7" cy="307" r="6.6" fill="#fff"/>
<circle cx="1305.6" cy="429.3" r="6.6" fill="#fff"/>
<circle cx="1482.4" cy="578.1" r="6.6" fill="#fff"/>
<circle cx="1282.7" cy="618" r="6.6" fill="#fff"/>
<circle cx="355.7" cy="773.3" r="6.6" fill="#fff"/>
<circle cx="460.7" cy="826" r="6.6" fill="#fff"/>
<circle cx="185.3" cy="940" r="6.6" fill="#fff"/>
<circle cx="203" cy="1106.7" r="6.6" fill="#fff"/>
<circle cx="738" cy="739.7" r="6.6" fill="#fff"/>
<circle cx="1083.3" cy="902.7" r="6.6" fill="#fff"/>
<circle cx="1194.3" cy="864.3" r="6.6" fill="#fff"/>
<circle cx="1125" cy="1090.7" r="6.6" fill="#fff"/>
<circle cx="843" cy="968.3" r="6.6" fill="#fff"/>
<circle cx="1326.5" cy="945.8" r="6.6" fill="#fff"/>
<circle cx="1312.2" cy="1083.1" r="6.6" fill="#fff"/>
<circle cx="1518.3" cy="1080.4" r="6.6" fill="#fff"/>
<circle cx="476.7" cy="1254.3" r="6.6" fill="#fff"/>
<circle cx="230" cy="1320.3" r="6.6" fill="#fff"/>
<circle cx="422.7" cy="1525.7" r="6.6" fill="#fff"/>
<circle cx="694.3" cy="1304.3" r="6.6" fill="#fff"/>
<circle cx="1035" cy="1309" r="6.6" fill="#fff"/>
<text class="m" x="104.5" y="338.3" font-size="33.4" fill="#fff" textLength="110.2" lengthAdjust="spacingAndGlyphs" stroke="#fff" stroke-width="0.5">PIRANE</text>
<text class="m" x="489.5" y="431.7" font-size="33.4" fill="#fff" textLength="165.2" lengthAdjust="spacingAndGlyphs" stroke="#fff" stroke-width="0.5">VA. OLIVA</text>
<text class="m" x="397.8" y="488.3" font-size="33.4" fill="#fff" textLength="128.5" lengthAdjust="spacingAndGlyphs" stroke="#fff" stroke-width="0.5">FORMOSA</text>
<text class="m" x="708.5" y="296" font-size="33.4" fill="#fff" textLength="165.2" lengthAdjust="spacingAndGlyphs" stroke="#fff" stroke-width="0.5">PARAGUARÍ</text>
<text class="m" x="923.5" y="347.7" font-size="33.4" fill="#fff" textLength="183.6" lengthAdjust="spacingAndGlyphs" stroke="#fff" stroke-width="0.5">VILLARRICA</text>
<text class="m" x="684.5" y="415.7" font-size="33.4" fill="#fff" textLength="128.5" lengthAdjust="spacingAndGlyphs" stroke="#fff" stroke-width="0.5">QUIINDY</text>
<text class="m" x="718.2" y="565.3" font-size="33.4" fill="#fff" textLength="202" lengthAdjust="spacingAndGlyphs" stroke="#fff" stroke-width="0.5">VA. FLORIDA</text>
<text class="m" x="711.5" y="654.7" font-size="33.4" fill="#fff" textLength="312.1" lengthAdjust="spacingAndGlyphs" stroke="#fff" stroke-width="0.5">SAN JUAN BAUTISTA</text>
<text class="m" x="1510.4" y="296.4" font-size="33.4" fill="#fff" textLength="238.7" lengthAdjust="spacingAndGlyphs" stroke="#fff" stroke-width="0.5">PUERTO IGUAZÚ</text>
<text class="m" x="1315.4" y="419.3" font-size="33.4" fill="#fff" textLength="146.9" lengthAdjust="spacingAndGlyphs" stroke="#fff" stroke-width="0.5">NARANJAL</text>
<text class="m" x="1492.2" y="567.2" font-size="33.4" fill="#fff" textLength="146.9" lengthAdjust="spacingAndGlyphs" stroke="#fff" stroke-width="0.5">ELDORADO</text>
<text class="m" x="1289.5" y="608.1" font-size="33.4" fill="#fff" textLength="312.1" lengthAdjust="spacingAndGlyphs" stroke="#fff" stroke-width="0.5">MARÍA AUXILIADORA</text>
<text class="m" x="366.2" y="763.3" font-size="33.4" fill="#fff" textLength="165.2" lengthAdjust="spacingAndGlyphs" stroke="#fff" stroke-width="0.5">ISLA UMBÚ</text>
<text class="m" x="471.2" y="815.7" font-size="33.4" fill="#fff" textLength="165.2" lengthAdjust="spacingAndGlyphs" stroke="#fff" stroke-width="0.5">VILLALBÍN</text>
<text class="m" x="196.2" y="930" font-size="33.4" fill="#fff" textLength="183.6" lengthAdjust="spacingAndGlyphs" stroke="#fff" stroke-width="0.5">CORRIENTES</text>
<text class="m" x="211.8" y="1096" font-size="33.4" fill="#fff" textLength="165.2" lengthAdjust="spacingAndGlyphs" stroke="#fff" stroke-width="0.5">EMPEDRADO</text>
<text class="m" x="747.8" y="729.3" font-size="33.4" fill="#fff" textLength="202" lengthAdjust="spacingAndGlyphs" stroke="#fff" stroke-width="0.5">SAN IGNACIO</text>
<text class="m" x="1093.5" y="893.3" font-size="33.4" fill="#fff" textLength="128.5" lengthAdjust="spacingAndGlyphs" stroke="#fff" stroke-width="0.5">POSADAS</text>
<text class="m" x="1204.5" y="854.3" font-size="33.4" fill="#fff" textLength="202" lengthAdjust="spacingAndGlyphs" stroke="#fff" stroke-width="0.5">SAN IGNACIO</text>
<text class="m" x="1134.5" y="1080" font-size="33.4" fill="#fff" textLength="165.2" lengthAdjust="spacingAndGlyphs" stroke="#fff" stroke-width="0.5">APÓSTOLES</text>
<text class="m" x="852.6" y="957.9" font-size="33.4" fill="#fff" textLength="165.2" lengthAdjust="spacingAndGlyphs" stroke="#fff" stroke-width="0.5">ITUZAINGÓ</text>
<text class="m" x="1336.7" y="935.2" font-size="33.4" fill="#fff" textLength="91.8" lengthAdjust="spacingAndGlyphs" stroke="#fff" stroke-width="0.5">OBERÁ</text>
<text class="m" x="1322.7" y="1071.4" font-size="33.4" fill="#fff" textLength="183.6" lengthAdjust="spacingAndGlyphs" stroke="#fff" stroke-width="0.5">SAN JAVIER</text>
<text class="m" x="1527.7" y="1069.4" font-size="33.4" fill="#fff" textLength="183.6" lengthAdjust="spacingAndGlyphs" stroke="#fff" stroke-width="0.5">SANTA ROSA</text>
<text class="m" x="486.2" y="1243.3" font-size="33.4" fill="#fff" textLength="183.6" lengthAdjust="spacingAndGlyphs" stroke="#fff" stroke-width="0.5">CONCEPCIÓN</text>
<text class="m" x="239.5" y="1310" font-size="33.4" fill="#fff" textLength="165.2" lengthAdjust="spacingAndGlyphs" stroke="#fff" stroke-width="0.5">SAN ROQUE</text>
<text class="m" x="432.2" y="1515" font-size="33.4" fill="#fff" textLength="146.9" lengthAdjust="spacingAndGlyphs" stroke="#fff" stroke-width="0.5">MERCEDES</text>
<text class="m" x="703.8" y="1293.3" font-size="33.4" fill="#fff" textLength="330.5" lengthAdjust="spacingAndGlyphs" stroke="#fff" stroke-width="0.5">COL. C. PELLEGRINI</text>
<text class="m" x="1044.5" y="1298.3" font-size="33.4" fill="#fff" textLength="183.6" lengthAdjust="spacingAndGlyphs" stroke="#fff" stroke-width="0.5">SANTO TOMÉ</text>
</g>
<rect x="26.1" y="1653.5" width="332.9" height="101.5" fill="#686868" fill-opacity="0.86"/>
<rect x="39.5" y="1668" width="303.9" height="72.2" fill="none" stroke="#ffa500" stroke-width="5.6"/>
<text class="m" x="51" y="1697.5" font-size="24.3" fill="#fff" textLength="278.7" lengthAdjust="spacingAndGlyphs">Avisos Meteorológicos</text>
<text class="m" x="51" y="1724.5" font-size="24.3" fill="#fff" textLength="225.6" lengthAdjust="spacingAndGlyphs">a Muy Corto Plazo</text>
<clipPath id="cr"><rect x="1570.9" y="220.9" width="148" height="1538.1"/></clipPath>
<g clip-path="url(#cr)">
<path d="M1573 812h14.8M1573 820h16.9M1573 824h19.1M1573 826h19.3M1573 862h28.9M1573 866h7.1M1573 868h8.6M1573 870h7.2M1573 872h28.7M1573 876h27.5M1573 884h29.7M1573 884h10.1M1573 886h28M1573 886h11.4M1573 892h6.4M1573 896h26.3M1573 898h10.7M1573 900h26.8M1573 900h11.4M1573 902h27.8M1573 910h10.7M1573 912h13.7M1573 918h24.1M1573 920h13M1573 922h14.8M1573 924h26.5M1573 930h26.1M1573 934h11.2M1573 936h29.4M1573 944h9M1573 946h13.8M1573 948h15.1M1573 950h16M1573 956h9.1M1573 960h27.9M1573 960h10.8M1573 962h13.7M1573 966h14M1573 968h18.1M1573 970h30M1573 970h10.2M1573 976h15.4M1573 982h27.6M1573 984h28.7M1573 990h15.6M1573 996h27.5M1573 996h10M1573 998h14.9M1573 1002h16.7M1573 1006h29.7M1573 1006h12.5M1573 1010h31.6M1573 1010h16.4M1573 1012h19.6M1573 1014h18.8M1573 1016h12M1573 1018h17.8M1573 1020h13.1M1573 1022h28.9M1573 1022h16.1M1573 1028h30.2M1573 1034h31.2M1573 1034h11.7M1573 1036h34M1573 1038h14.2M1573 1040h34.6M1573 1044h11.3M1573 1046h29.8M1573 1052h14.6M1573 1060h9.7M1573 1062h29.9M1573 1062h10.4M1573 1064h11.1M1573 1072h11.5M1573 1074h11.7M1573 1078h31.7M1573 1078h7.6M1573 1086h31.6M1573 1086h10.6M1573 1088h15.3M1573 1094h27.9M1573 1094h13.7M1573 1098h28.1M1573 1098h9.8M1573 1100h28.5M1573 1100h7.6M1573 1102h6.9M1573 1106h9.7M1573 1112h29.2M1573 1112h11.6M1573 1118h6.3M1573 1120h13.3M1573 1122h27.6M1573 1122h11.3M1573 1134h11.4M1573 1136h6.3M1573 1140h12M1573 1142h25.9M1573 1144h10.7M1573 1146h9M1573 1148h5.2M1573 1152h25.5M1573 1152h9.2M1573 1154h8.6M1573 1156h7.2M1573 1158h9.8M1573 1160h8.7M1573 1172h7M1573 1178h7.1M1573 1180h5.5M1573 1182h26.3M1573 1184h7.2M1573 1186h8.1M1573 1192h27.4M1573 1192h5M1573 1196h25.9M1573 1198h8M1573 1200h10M1573 1202h22.8M1573 1202h6M1573 1206h6.4" stroke="#367aad" stroke-width="2" fill="none" shape-rendering="crispEdges"/>
<path d="M1573 814h16.5M1573 818h17.1M1573 822h18.2M1573 830h20M1573 832h22.7M1573 838h24M1573 840h22.9M1573 842h25.8M1573 844h25.8M1573 848h25.4M1573 850h24.6M1573 854h25.7M1573 856h26.1M1573 858h27M1573 860h27.1M1573 862h6.9M1573 874h28.9M1573 876h8.2M1573 878h25.5M1573 878h10.8M1573 880h25.3M1573 880h6M1573 882h27.9M1573 882h8M1605.4 884h13.7M1573 888h26.5M1573 888h6.3M1573 890h26.1M1573 890h6.7M1573 892h26.7M1573 894h7.8M1573 896h11.4M1609.2 902h10.6M1573 904h27.3M1573 906h30M1573 908h11.6M1573 910h27.6M1573 914h28.3M1573 916h13.9M1573 918h8.1M1573 920h23.1M1573 922h25.9M1573 926h15M1573 928h24.9M1602.4 930h9.8M1611.2 934h8.5M1573 934h30.1M1573 940h27.4M1573 944h25.2M1573 946h26.6M1573 948h26.9M1573 950h28.1M1573 952h9.9M1573 954h27.6M1573 956h26.6M1573 962h28.8M1573 964h10.6M1609.4 966h6.7M1573 966h29.3M1609.9 974h7.5M1573 974h29.9M1573 978h29.6M1605.8 980h8.2M1573 986h28.9M1573 988h19.1M1573 990h27.2M1573 992h27.7M1605.9 996h10M1573 998h28.9M1573 1000h28.7M1573 1002h28.8M1573 1004h26.6M1606.9 1008h11.7M1573 1008h30.8M1573 1008h19.1M1573 1012h28.8M1573 1014h29.5M1609.7 1016h12.4M1573 1020h27.5M1573 1024h18M1573 1026h31.3M1573 1028h10.9M1573 1030h9.2M1573 1032h31.5M1573 1040h12.3M1573 1042h31.7M1613 1044h5.3M1573 1044h31.6M1604.3 1046h13.6M1573 1048h10.8M1573 1050h30.1M1573 1050h10.1M1573 1052h31.4M1573 1054h31.2M1573 1054h7.8M1573 1056h32.5M1604 1058h8.4M1573 1058h14M1573 1060h28.9M1614.4 1064h5.1M1611.7 1066h7.7M1573 1066h32.4M1573 1068h33.4M1573 1070h30.9M1573 1072h29.9M1573 1074h28.9M1573 1076h30.3M1573 1080h32.2M1573 1082h32.2M1573 1084h31.9M1573 1084h7.8M1573 1088h31.2M1573 1090h29.7M1608 1092h10.7M1573 1092h13.4M1573 1096h7.8M1573 1102h26.5M1573 1104h27.7M1573 1106h26.5M1573 1108h28.7M1573 1108h9.7M1573 1110h8.2M1573 1114h28.6M1573 1114h13.3M1573 1116h27.1M1573 1116h10.2M1573 1118h28.4M1573 1120h26.6M1573 1124h26.1M1573 1124h7M1573 1126h27.8M1573 1126h12.1M1573 1128h27.3M1573 1128h7.5M1573 1130h29M1573 1132h10.4M1573 1140h23.5M1573 1146h26.7M1573 1150h25.2M1573 1150h6.4M1573 1158h23.9M1573 1160h25.1M1573 1162h26.5M1573 1164h28.1M1573 1164h10.4M1573 1166h27.5M1573 1166h6.5M1573 1168h26.1M1573 1168h7.8M1573 1170h25M1573 1172h23.2M1573 1174h25M1573 1174h10M1573 1180h25.5M1573 1184h23.7M1573 1186h24.7M1573 1188h7M1573 1190h9.8M1573 1194h26.2M1573 1198h25.6M1573 1200h23.4M1573 1204h22.9M1573 1204h5.3M1573 1206h22.2M1573 1208h19.9" stroke="#3b6ea3" stroke-width="2" fill="none" shape-rendering="crispEdges"/>
<path d="M1573 816h17.4M1573 828h19.6M1573 834h24.7M1573 836h24.4M1573 846h25.9M1573 852h25.2M1573 864h26.5M1573 866h25.7M1573 868h25.7M1573 870h27.4M1602.4 886h10.5M1606.7 890h5.7M1600.9 894h13.2M1573 894h26.9M1573 898h27.7M1603.3 900h12M1573 908h27.8M1573 912h26.7M1608.7 914h6M1573 916h26.2M1573 926h26.4M1573 932h28.3M1573 938h30.3M1573 942h27.9M1607.8 952h11.3M1573 952h28.5M1606.4 954h4M1573 958h25.9M1573 964h30.2M1573 968h29.4M1573 972h30.3M1573 976h30.9M1573 980h29M1604.1 982h4.2M1573 988h27M1573 994h27.7M1573 1016h30.6M1573 1018h30.8M1608.7 1024h13.9M1573 1024h30.6M1573 1030h29.3M1610.4 1036h7.5M1573 1038h32.9M1573 1048h32M1573 1058h29.1M1573 1064h33.3M1606 1076h6.1M1612.2 1082h4.9M1573 1092h29.5M1573 1096h29.3M1608.2 1108h7.3M1573 1110h27.9M1573 1132h29.5M1573 1134h31M1573 1136h27.6M1573 1138h25M1573 1144h26.5M1573 1148h24.3M1573 1154h26.7M1573 1156h24.9M1573 1176h23.7M1573 1178h26.5M1573 1188h26.3M1573 1190h28.1" stroke="#3c6298" stroke-width="2" fill="none" shape-rendering="crispEdges"/>
<path d="M1573 864h5.4M1573 872h6.7M1573 874h10.4M1573 902h8.6M1573 904h6.7M1573 906h8.6M1573 908h4.4M1573 914h12.9M1573 924h10.7M1573 928h7.7M1573 930h11.8M1573 932h11.9M1573 932h3.1M1573 936h15.9M1573 938h13.4M1573 940h8.7M1573 942h9.7M1573 942h3.6M1573 954h9.6M1573 958h12.6M1573 968h2.8M1573 972h9.5M1573 974h15.6M1573 974h2.6M1573 976h2.1M1573 978h14.1M1573 980h9.8M1573 980h4.9M1573 982h11.7M1573 984h9.9M1573 986h10.8M1573 990h2.3M1573 992h8.6M1573 994h11.9M1573 1000h14.3M1573 1000h5.8M1573 1004h14.4M1573 1008h4.9M1573 1012h5.6M1573 1026h8.9M1573 1030h3.5M1573 1032h11.1M1573 1036h9.1M1573 1042h15.6M1573 1044h2.7M1573 1046h16.1M1573 1056h14.8M1573 1066h10M1573 1068h11.9M1573 1068h5.7M1573 1070h9.5M1573 1070h2.6M1573 1074h4.1M1573 1076h14.3M1573 1080h15.7M1573 1082h9.8M1573 1090h7.8M1573 1104h9.1M1573 1130h8.9M1573 1138h8.5M1573 1142h6.2M1573 1162h9.9M1573 1170h10.8M1573 1176h6.1M1573 1182h6.1M1573 1194h9.8M1573 1196h9.4M1573 1208h6.9" stroke="#3088bd" stroke-width="2" fill="none" shape-rendering="crispEdges"/>
<path d="M1573 914h5.9M1573 916h3.8M1573 920h3.2M1573 926h3.6M1573 928h2.2M1573 930h5.8M1573 938h3M1573 940h5.2M1573 950h5.9M1573 956h3.3M1573 962h2.5M1573 964h5.4M1573 970h5.4M1573 982h2.6M1573 986h3.5M1573 988h3.2M1573 1002h3.4M1573 1004h4.8M1573 1006h5.5M1573 1010h2.2M1573 1016h2.2M1573 1018h3M1573 1024h2.6M1573 1026h3.8M1573 1028h3.6M1573 1032h2.3M1573 1034h3.4M1573 1040h4.2M1573 1054h4.5M1573 1066h2.9M1573 1076h3.6M1573 1078h5.4M1573 1082h5M1573 1084h3.6M1573 1088h4.3M1573 1092h5.5M1573 1098h3.6M1573 1106h2.8M1573 1110h5.6M1573 1120h4.7" stroke="#2b94c5" stroke-width="2" fill="none" shape-rendering="crispEdges"/>
<path d="M1577.1 952h3.9M1575 960h2M1573.9 964h2.8M1572.8 966h3.6M1577.4 968h3M1575 972h3.6M1577.6 978h2.5M1576.6 980h3.3M1578.5 982h3.9M1578.1 988h3.3M1573.8 998h2.2M1574.4 1002h2.9M1574 1008h3.7M1575.9 1014h2.9M1577.3 1016h3.3M1578.6 1018h2.7M1573.4 1020h2.8M1576.4 1026h3.7M1578.5 1030h2.9" stroke="#55f03a" stroke-width="2" fill="none" shape-rendering="crispEdges"/>
<rect x="1574" y="741.4" width="20" height="8.6" rx="8" ry="4.3" fill="#3b6ea3"/>
<rect x="1573.5" y="789.6" width="16" height="9.4" rx="6.4" ry="4.7" fill="#3b6ea3"/>
<rect x="1623.9" y="733" width="21.6" height="12" rx="8.6" ry="6" fill="#2b94c5"/>
<rect x="1643.9" y="723" width="21.6" height="12" rx="8.6" ry="6" fill="#2b94c5"/>
<rect x="1659" y="860.3" width="16.4" height="6.4" rx="6.6" ry="3.2" fill="#3dbb2d"/>
<rect x="1668" y="1239" width="39" height="21.4" rx="15.6" ry="10.7" fill="#3dbb2d"/>
<rect x="1599" y="1299.6" width="63" height="23.2" rx="25.2" ry="11.6" fill="#2b94c5"/>
<rect x="1593" y="1410" width="42" height="14" rx="16.8" ry="7" fill="#2b94c5"/>
<rect x="1671" y="1403.3" width="24" height="6" rx="9.6" ry="3" fill="#2b94c5"/>
<rect x="1665.5" y="1404.7" width="30" height="10.6" rx="12" ry="5.3" fill="#37aa28"/>
<rect x="1640.4" y="1401" width="28.4" height="11" rx="11.4" ry="5.5" fill="#55f03a"/>
<clipPath id="h1"><rect x="1600" y="410" width="80" height="19.5"/></clipPath>
<rect x="1612.9" y="416" width="47.2" height="23" rx="18.9" ry="11.5" fill="#2b94c5"/>
<rect x="1612.9" y="416" width="47.2" height="23" rx="18.9" ry="11.5" fill="#2daed9" clip-path="url(#h1)"/>
<clipPath id="h2"><rect x="1660" y="1235" width="60" height="14.5"/></clipPath>
<rect x="1668" y="1239" width="39" height="21.4" rx="15.6" ry="10.7" fill="#44cd33" clip-path="url(#h2)"/>
<rect x="1584.9" y="1040.7" width="48.5" height="11.3" rx="19.4" ry="5.7" fill="#2b94c5"/>
<rect x="1629.9" y="1054.8" width="40.7" height="9.4" rx="16.3" ry="4.7" fill="#3088bd"/>
<rect x="1645.1" y="1063.8" width="25" height="34.4" fill="#2b94c5" rx="4"/>
<rect x="1660" y="1088.9" width="15.3" height="9.4" rx="6.1" ry="4.7" fill="#2b94c5"/>
<rect x="1645.1" y="1098.2" width="14.9" height="3.1" fill="#2b94c5" rx="2"/>
<rect x="1624.8" y="1110.8" width="24.3" height="13.3" rx="9.7" ry="6.7" fill="#2daed9"/>
<rect x="1624.8" y="1121.7" width="24.3" height="22.7" rx="9.7" ry="11.3" fill="#2daed9"/>
<rect x="1588" y="1137.4" width="57.1" height="7.2" fill="#2daed9" rx="4"/>
<rect x="1620.1" y="1110" width="25" height="7.8" rx="10" ry="3.9" fill="#2b94c5"/>
<rect x="1590" y="1064.6" width="58.3" height="11.1" fill="#37aa28" rx="5"/>
<rect x="1590" y="1064.8" width="18" height="11" fill="#2b851f" rx="4"/>
<rect x="1607.9" y="1064.8" width="22.3" height="11" fill="#e4e63a" rx="2"/>
<rect x="1630.3" y="1065.4" width="8.6" height="10.3" fill="#2b851f" rx="0"/>
<rect x="1643.6" y="1066.2" width="4.7" height="9.5" fill="#44cd33" rx="3"/>
<rect x="1590" y="1075.7" width="65.3" height="10" fill="#44cd33" rx="6"/>
<rect x="1590" y="1075.7" width="48.1" height="9.4" fill="#e4e63a" rx="6"/>
<rect x="1590" y="1076" width="34.8" height="8.9" fill="#d9961b" rx="6"/>
<rect x="1638.1" y="1076.3" width="7" height="9.4" fill="#319a23" rx="0"/>
<rect x="1590" y="1086.5" width="63" height="11.7" fill="#44cd33" rx="6"/>
<rect x="1592.7" y="1087.3" width="42.3" height="11" fill="#e4e63a" rx="5"/>
<rect x="1592.7" y="1088.9" width="28.2" height="8.2" fill="#c3c62d" rx="5"/>
<rect x="1634.9" y="1088.1" width="7.8" height="10.2" fill="#2b851f" rx="0"/>
<rect x="1590" y="1098.9" width="65.3" height="11" fill="#44cd33" rx="7"/>
<rect x="1590" y="1099" width="33.3" height="10.8" fill="#e4e63a" rx="6"/>
<rect x="1623.2" y="1099.8" width="11" height="9.4" fill="#2b851f" rx="3"/>
<rect x="1634.2" y="1099.8" width="6.3" height="9.4" fill="#37aa28" rx="0"/>
<rect x="1582.9" y="1106.1" width="45" height="9" fill="#3dbb2d" rx="6"/>
<rect x="1585.6" y="1110.8" width="34.4" height="4.3" fill="#2b851f" rx="3"/>
<rect x="1584.9" y="1113.5" width="45.4" height="20" fill="#44cd33" rx="6"/>
<rect x="1584.9" y="1114.3" width="23.5" height="18.4" fill="#eef040" rx="5"/>
<rect x="1608.3" y="1113.9" width="11.7" height="18.8" fill="#2b851f" rx="2"/>
<rect x="1620.1" y="1113.9" width="4.7" height="18.8" fill="#37aa28" rx="0"/>
<rect x="1584.9" y="1132.7" width="39.1" height="6.7" fill="#3dbb2d" rx="5"/>
<rect x="1593.5" y="1135" width="30.5" height="4.3" fill="#55f03a" rx="4"/>
<rect x="1619.6" y="220" width="1.5" height="1540" fill="#fff"/>
<rect x="1669.7" y="220" width="1.5" height="1540" fill="#fff"/>
</g>
<text transform="translate(1597.6,221.3) rotate(90)" font-size="24.6" fill="#fff" textLength="56.5" lengthAdjust="spacingAndGlyphs">5 km</text>
<text transform="translate(1646.8,221.3) rotate(90)" font-size="24.6" fill="#fff" textLength="71.2" lengthAdjust="spacingAndGlyphs">10 km</text>
<text transform="translate(1696.6,221.3) rotate(90)" font-size="24.6" fill="#fff" textLength="71.2" lengthAdjust="spacingAndGlyphs">15 km</text>
<rect x="1718.9" y="218.9" width="40.1" height="1542.1" fill="#000"/>
<rect x="1720.9" y="220.9" width="36.1" height="120.5" fill="#88dfbd"/>
<rect x="1720.9" y="341.1" width="36.1" height="48.4" fill="#93e3c6"/>
<rect x="1720.9" y="389.1" width="36.1" height="24.3" fill="#a5ebd1"/>
<rect x="1720.9" y="413.2" width="36.1" height="24.3" fill="#b3eed8"/>
<rect x="1720.9" y="437.2" width="36.1" height="24.3" fill="#c5f2e0"/>
<rect x="1720.9" y="461.2" width="36.1" height="24.3" fill="#e0f6ec"/>
<rect x="1720.9" y="485.3" width="36.1" height="24.3" fill="#ffffff"/>
<rect x="1720.9" y="509.3" width="36.1" height="24.3" fill="#9a009a"/>
<rect x="1720.9" y="533.3" width="36.1" height="24.3" fill="#b300b3"/>
<rect x="1720.9" y="557.4" width="36.1" height="24.3" fill="#cc00cc"/>
<rect x="1720.9" y="581.4" width="36.1" height="24.3" fill="#e600e6"/>
<rect x="1720.9" y="605.4" width="36.1" height="24.3" fill="#d9009a"/>
<rect x="1720.9" y="629.5" width="36.1" height="24.3" fill="#c0005a"/>
<rect x="1720.9" y="653.5" width="36.1" height="24.3" fill="#9a0000"/>
<rect x="1720.9" y="677.5" width="36.1" height="24.3" fill="#b0000c"/>
<rect x="1720.9" y="701.6" width="36.1" height="24.3" fill="#c00018"/>
<rect x="1720.9" y="725.6" width="36.1" height="24.3" fill="#c80020"/>
<rect x="1720.9" y="749.6" width="36.1" height="24.3" fill="#ea0c30"/>
<rect x="1720.9" y="773.7" width="36.1" height="24.3" fill="#dd7f17"/>
<rect x="1720.9" y="797.7" width="36.1" height="24.3" fill="#d9961b"/>
<rect x="1720.9" y="821.7" width="36.1" height="24.3" fill="#d1ac22"/>
<rect x="1720.9" y="845.8" width="36.1" height="24.3" fill="#c3c62d"/>
<rect x="1720.9" y="869.8" width="36.1" height="24.3" fill="#d0d432"/>
<rect x="1720.9" y="893.8" width="36.1" height="24.3" fill="#d8dc37"/>
<rect x="1720.9" y="917.9" width="36.1" height="24.3" fill="#e4e63a"/>
<rect x="1720.9" y="941.9" width="36.1" height="24.3" fill="#eef040"/>
<rect x="1720.9" y="965.9" width="36.1" height="24.3" fill="#256e1a"/>
<rect x="1720.9" y="989.9" width="36.1" height="24.3" fill="#2b851f"/>
<rect x="1720.9" y="1014" width="36.1" height="24.3" fill="#319a23"/>
<rect x="1720.9" y="1038" width="36.1" height="24.3" fill="#37aa28"/>
<rect x="1720.9" y="1062" width="36.1" height="24.3" fill="#3dbb2d"/>
<rect x="1720.9" y="1086.1" width="36.1" height="24.3" fill="#44cd33"/>
<rect x="1720.9" y="1110.1" width="36.1" height="24.3" fill="#4cdf38"/>
<rect x="1720.9" y="1134.1" width="36.1" height="24.3" fill="#55f03a"/>
<rect x="1720.9" y="1158.2" width="36.1" height="24.3" fill="#2daed9"/>
<rect x="1720.9" y="1182.2" width="36.1" height="24.3" fill="#25a1d1"/>
<rect x="1720.9" y="1206.2" width="36.1" height="48.4" fill="#2b94c5"/>
<rect x="1720.9" y="1254.3" width="36.1" height="48.4" fill="#3088bd"/>
<rect x="1720.9" y="1302.4" width="36.1" height="48.4" fill="#367aad"/>
<rect x="1720.9" y="1350.4" width="36.1" height="72.4" fill="#3b6ea3"/>
<rect x="1720.9" y="1422.5" width="36.1" height="72.4" fill="#3c6298"/>
<rect x="1720.9" y="1494.6" width="36.1" height="72.4" fill="#3d5788"/>
<rect x="1720.9" y="1566.7" width="36.1" height="72.4" fill="#3e4c7a"/>
<rect x="1720.9" y="1638.8" width="36.1" height="120.2" fill="#3e3f6e"/>
<rect x="1759" y="1685.7" width="8.8" height="2" fill="#000"/>
<text x="1778.3" y="1698.2" font-size="30.4" fill="#000" textLength="57.1" lengthAdjust="spacingAndGlyphs">−15</text>
<rect x="1759" y="1605.5" width="8.8" height="2" fill="#000"/>
<text x="1778.3" y="1618" font-size="30.4" fill="#000" textLength="57.1" lengthAdjust="spacingAndGlyphs">−10</text>
<rect x="1759" y="1525.4" width="8.8" height="2" fill="#000"/>
<text x="1778.3" y="1537.9" font-size="30.4" fill="#000" textLength="40.3" lengthAdjust="spacingAndGlyphs">−5</text>
<rect x="1759" y="1445.2" width="8.8" height="2" fill="#000"/>
<text x="1778.3" y="1457.8" font-size="30.4" fill="#000" textLength="16.8" lengthAdjust="spacingAndGlyphs">0</text>
<rect x="1759" y="1365.1" width="8.8" height="2" fill="#000"/>
<text x="1778.3" y="1377.6" font-size="30.4" fill="#000" textLength="16.8" lengthAdjust="spacingAndGlyphs">5</text>
<rect x="1759" y="1285" width="8.8" height="2" fill="#000"/>
<text x="1778.3" y="1297.5" font-size="30.4" fill="#000" textLength="33.6" lengthAdjust="spacingAndGlyphs">10</text>
<rect x="1759" y="1204.8" width="8.8" height="2" fill="#000"/>
<text x="1778.3" y="1217.3" font-size="30.4" fill="#000" textLength="33.6" lengthAdjust="spacingAndGlyphs">15</text>
<rect x="1759" y="1124.7" width="8.8" height="2" fill="#000"/>
<text x="1778.3" y="1137.2" font-size="30.4" fill="#000" textLength="33.6" lengthAdjust="spacingAndGlyphs">20</text>
<rect x="1759" y="1044.5" width="8.8" height="2" fill="#000"/>
<text x="1778.3" y="1057" font-size="30.4" fill="#000" textLength="33.6" lengthAdjust="spacingAndGlyphs">25</text>
<rect x="1759" y="964.3" width="8.8" height="2" fill="#000"/>
<text x="1778.3" y="976.8" font-size="30.4" fill="#000" textLength="33.6" lengthAdjust="spacingAndGlyphs">30</text>
<rect x="1759" y="884.2" width="8.8" height="2" fill="#000"/>
<text x="1778.3" y="896.7" font-size="30.4" fill="#000" textLength="33.6" lengthAdjust="spacingAndGlyphs">35</text>
<rect x="1759" y="804" width="8.8" height="2" fill="#000"/>
<text x="1778.3" y="816.5" font-size="30.4" fill="#000" textLength="33.6" lengthAdjust="spacingAndGlyphs">40</text>
<rect x="1759" y="723.9" width="8.8" height="2" fill="#000"/>
<text x="1778.3" y="736.4" font-size="30.4" fill="#000" textLength="33.6" lengthAdjust="spacingAndGlyphs">45</text>
<rect x="1759" y="643.8" width="8.8" height="2" fill="#000"/>
<text x="1778.3" y="656.2" font-size="30.4" fill="#000" textLength="33.6" lengthAdjust="spacingAndGlyphs">50</text>
<rect x="1759" y="563.6" width="8.8" height="2" fill="#000"/>
<text x="1778.3" y="576.1" font-size="30.4" fill="#000" textLength="33.6" lengthAdjust="spacingAndGlyphs">55</text>
<rect x="1759" y="483.4" width="8.8" height="2" fill="#000"/>
<text x="1778.3" y="495.9" font-size="30.4" fill="#000" textLength="33.6" lengthAdjust="spacingAndGlyphs">60</text>
<rect x="1759" y="403.3" width="8.8" height="2" fill="#000"/>
<text x="1778.3" y="415.8" font-size="30.4" fill="#000" textLength="33.6" lengthAdjust="spacingAndGlyphs">65</text>
<rect x="1759" y="323.1" width="8.8" height="2" fill="#000"/>
<text x="1778.3" y="335.6" font-size="30.4" fill="#000" textLength="33.6" lengthAdjust="spacingAndGlyphs">70</text>
<rect x="1759" y="243" width="8.8" height="2" fill="#000"/>
<text x="1778.3" y="255.5" font-size="30.4" fill="#000" textLength="33.6" lengthAdjust="spacingAndGlyphs">75</text>
<g>
<circle cx="105.7" cy="1833.7" r="38.5" fill="none" stroke="#ffb300" stroke-width="18.4"/>
<path d="M118.9 1814.3 C130.1 1813.9 137.7 1820.3 148.9 1820.7 C156.4 1820.7 162.1 1816.9 166.2 1814.1 L166.2 1847.9 C162.1 1850.8 156.4 1853 148.9 1853 C137.7 1852.6 130.1 1846.2 118.9 1846.6 Z" fill="#e6e6e6" stroke="#e6e6e6" stroke-width="2.6"/>
<path d="M99.7 1819.2 C105.7 1816.6 110.4 1814.7 118.9 1814.3 C130.1 1813.9 137.7 1820.3 148.9 1820.7 C156.4 1820.7 162.1 1816.9 166.2 1814.1 L166.2 1827.3 C162.1 1830.1 156.4 1832.3 148.9 1832.3 C137.7 1832 130.1 1825.6 118.9 1826 C110.4 1826.3 105.7 1828.6 99.7 1832 Z" fill="#0093d7" stroke="#e6e6e6" stroke-width="2.6" stroke-linejoin="round"/>
<path d="M99.7 1819.2 C105.7 1816.6 110.4 1814.7 118.9 1814.3 C130.1 1813.9 137.7 1820.3 148.9 1820.7 C156.4 1820.7 162.1 1816.9 166.2 1814.1 L166.2 1827.3 C162.1 1830.1 156.4 1832.3 148.9 1832.3 C137.7 1832 130.1 1825.6 118.9 1826 C110.4 1826.3 105.7 1828.6 99.7 1832 Z" fill="#0093d7"/>
<path d="M99.7 1839.9 C105.7 1837.2 110.4 1835.4 118.9 1835 C130.1 1834.6 137.7 1841 148.9 1841.4 C156.4 1841.4 162.1 1837.6 166.2 1834.8 L166.2 1847.9 C162.1 1850.8 156.4 1853 148.9 1853 C137.7 1852.6 130.1 1846.2 118.9 1846.6 C110.4 1847 105.7 1849.2 99.7 1852.6 Z" fill="#0093d7" stroke="#e6e6e6" stroke-width="2.6" stroke-linejoin="round"/>
<path d="M99.7 1839.9 C105.7 1837.2 110.4 1835.4 118.9 1835 C130.1 1834.6 137.7 1841 148.9 1841.4 C156.4 1841.4 162.1 1837.6 166.2 1834.8 L166.2 1847.9 C162.1 1850.8 156.4 1853 148.9 1853 C137.7 1852.6 130.1 1846.2 118.9 1846.6 C110.4 1847 105.7 1849.2 99.7 1852.6 Z" fill="#0093d7"/>
<text x="177.8" y="1806.6" font-size="28" fill="#1d1d1b" textLength="114.5" lengthAdjust="spacingAndGlyphs">Servicio</text>
<text x="178" y="1833.5" font-size="28" fill="#1d1d1b" textLength="203" lengthAdjust="spacingAndGlyphs">Meteorológico</text>
<text x="178" y="1859.8" font-size="28" fill="#1d1d1b" textLength="121" lengthAdjust="spacingAndGlyphs">Nacional</text>
<text x="180.3" y="1879.9" font-size="17" stroke="#1d1d1b" stroke-width="0.5" fill="#1d1d1b" textLength="93" lengthAdjust="spacingAndGlyphs">Argentina</text>
</g>
<g transform="translate(0,0) translate(894,1843) scale(1) translate(-894,-1843)" fill="none" stroke="#2d3558" opacity="1" stroke-linecap="round">
<path d="M886.7 1801.3L871.5 1808.4M886.4 1800.3L874 1804.3M886.1 1799.4L869.6 1802.5M886 1798.4L873 1799.2M886 1797.4L869.3 1796.3M886.1 1796.4L873.4 1793.9M886.4 1795.4L870.4 1790.2M886.8 1794.5L875 1788.9M887.3 1793.6L873.1 1784.6M887.8 1792.8L877.8 1784.5M888.5 1792.1L877 1779.8M889.3 1791.4L881.7 1780.9M890.2 1790.9L882.1 1776.2M891.1 1790.5L886.3 1778.4M892 1790.2L887.8 1773.9M893 1790L891.4 1777.1M894 1789.9L894 1773.1M895 1790L896.6 1777.1M896 1790.2L900.2 1773.9M896.9 1790.5L901.7 1778.4M897.8 1790.9L905.9 1776.2M898.7 1791.4L906.3 1780.9M899.5 1792.1L911 1779.8M900.2 1792.8L910.2 1784.5M900.7 1793.6L914.9 1784.6M901.2 1794.5L913 1788.9M901.6 1795.4L917.6 1790.2M901.9 1796.4L914.6 1793.9M902 1797.4L918.7 1796.3M902 1798.4L915 1799.2M901.9 1799.4L918.4 1802.5M901.6 1800.3L914 1804.3M901.3 1801.3L916.5 1808.4" stroke-width="0.95" stroke="#56608a"/>
<circle cx="894" cy="1795.6" r="6.6" stroke-width="1.1" fill="#e6e6e6"/>
<path d="M889.8 1794.3h2.8M895.4 1794.3h2.8M892.7 1798.2h2.6" stroke-width="1.1"/>
<path d="M909.3 1806.9A35.2 40.3 0 1 1 878.5 1806.9" stroke="#56608a" stroke-width="5.6" stroke-dasharray="2.7 1.7" stroke-linecap="butt"/>
<path d="M909.3 1806.9A35.2 40.3 0 1 1 878.5 1806.9" stroke="#e6e6e6" stroke-width="2.4" stroke-dasharray="2.7 1.7" stroke-dashoffset="2.2" stroke-linecap="butt"/>
<path d="M909.3 1806.9A35.2 40.3 0 1 1 878.5 1806.9" stroke-width="0.8"/>
<ellipse cx="894" cy="1841" rx="28.5" ry="40.2" fill="#e6e6e6" stroke-width="1.5"/>
<clipPath id="ov894"><ellipse cx="894" cy="1841" rx="27.8" ry="39.5"/></clipPath>
<path d="M860 1807.4h70M860 1813.2h70M860 1819.1h70M860 1824.9h70M860 1830.8h70M860 1836.6h70M860 1842.4h70" stroke-width="0.8" stroke="#56608a" clip-path="url(#ov894)"/>
<path d="M865.6 1852.9 L883.8 1847.7 L890.4 1850 M869.9 1862.1 L885.3 1855 M923.3 1851.8 L904.3 1847.7 L898.4 1850 M917.4 1861.4 L902.8 1855" stroke-width="1" stroke="#56608a" clip-path="url(#ov894)"/>
<path d="M894.3 1829.3L894.3 1872.4" stroke-width="1.9" stroke-linecap="butt"/>
<path d="M887.7 1828.4 Q886.5 1827.5 885.1 1825.1 Q883.8 1822.7 884.4 1819.6 Q885 1816.4 887.7 1814.5 Q890.4 1812.6 894 1813.1 Q897.7 1813.5 900.4 1816.3 Q903.1 1819 903.8 1822.6 Q904.6 1826.1 903.3 1827.7 Q902.1 1829.3 895.5 1829.3 Q888.9 1829.3 887.7 1828.4Z" fill="#e6e6e6" stroke-width="1.3"/>
<ellipse cx="890.8" cy="1854.3" rx="6" ry="3.1" fill="#e6e6e6" stroke-width="1.2" transform="rotate(-14 890.8 1854.3)"/>
<ellipse cx="897.2" cy="1853.1" rx="6" ry="3.1" fill="#e6e6e6" stroke-width="1.2" transform="rotate(14 897.2 1853.1)"/>
<rect x="889.3" y="1882.3" width="9.4" height="5.6" fill="#2d3558" stroke="none"/>
<path d="M891 1887.1L883.5 1895.6M897 1887.1L904.5 1895.6" stroke-width="2.6" stroke-linecap="butt"/>
<path d="M886.5 1890.3l3.5 3.2M901.5 1890.3l-3.5 3.2" stroke-width="1.6"/>
</g>
<g transform="translate(-361.4,0) translate(894,1843) scale(1) translate(-894,-1843)" fill="none" stroke="#3a4370" opacity="1" stroke-linecap="round">
<path d="M886.7 1801.3L871.5 1808.4M886.4 1800.3L874 1804.3M886.1 1799.4L869.6 1802.5M886 1798.4L873 1799.2M886 1797.4L869.3 1796.3M886.1 1796.4L873.4 1793.9M886.4 1795.4L870.4 1790.2M886.8 1794.5L875 1788.9M887.3 1793.6L873.1 1784.6M887.8 1792.8L877.8 1784.5M888.5 1792.1L877 1779.8M889.3 1791.4L881.7 1780.9M890.2 1790.9L882.1 1776.2M891.1 1790.5L886.3 1778.4M892 1790.2L887.8 1773.9M893 1790L891.4 1777.1M894 1789.9L894 1773.1M895 1790L896.6 1777.1M896 1790.2L900.2 1773.9M896.9 1790.5L901.7 1778.4M897.8 1790.9L905.9 1776.2M898.7 1791.4L906.3 1780.9M899.5 1792.1L911 1779.8M900.2 1792.8L910.2 1784.5M900.7 1793.6L914.9 1784.6M901.2 1794.5L913 1788.9M901.6 1795.4L917.6 1790.2M901.9 1796.4L914.6 1793.9M902 1797.4L918.7 1796.3M902 1798.4L915 1799.2M901.9 1799.4L918.4 1802.5M901.6 1800.3L914 1804.3M901.3 1801.3L916.5 1808.4" stroke-width="0.95" stroke="#656e96"/>
<circle cx="894" cy="1795.6" r="6.6" stroke-width="1.1" fill="#e6e6e6"/>
<path d="M889.8 1794.3h2.8M895.4 1794.3h2.8M892.7 1798.2h2.6" stroke-width="1.1"/>
<path d="M909.3 1806.9A35.2 40.3 0 1 1 878.5 1806.9" stroke="#656e96" stroke-width="5.6" stroke-dasharray="2.7 1.7" stroke-linecap="butt"/>
<path d="M909.3 1806.9A35.2 40.3 0 1 1 878.5 1806.9" stroke="#e6e6e6" stroke-width="2.4" stroke-dasharray="2.7 1.7" stroke-dashoffset="2.2" stroke-linecap="butt"/>
<path d="M909.3 1806.9A35.2 40.3 0 1 1 878.5 1806.9" stroke-width="0.8"/>
<ellipse cx="894" cy="1841" rx="28.5" ry="40.2" fill="#e6e6e6" stroke-width="1.5"/>
<clipPath id="ov532"><ellipse cx="894" cy="1841" rx="27.8" ry="39.5"/></clipPath>
<path d="M860 1807.4h70M860 1813.2h70M860 1819.1h70M860 1824.9h70M860 1830.8h70M860 1836.6h70M860 1842.4h70" stroke-width="0.8" stroke="#656e96" clip-path="url(#ov532)"/>
<path d="M865.6 1852.9 L883.8 1847.7 L890.4 1850 M869.9 1862.1 L885.3 1855 M923.3 1851.8 L904.3 1847.7 L898.4 1850 M917.4 1861.4 L902.8 1855" stroke-width="1" stroke="#656e96" clip-path="url(#ov532)"/>
<path d="M894.3 1829.3L894.3 1872.4" stroke-width="1.9" stroke-linecap="butt"/>
<path d="M887.7 1828.4 Q886.5 1827.5 885.1 1825.1 Q883.8 1822.7 884.4 1819.6 Q885 1816.4 887.7 1814.5 Q890.4 1812.6 894 1813.1 Q897.7 1813.5 900.4 1816.3 Q903.1 1819 903.8 1822.6 Q904.6 1826.1 903.3 1827.7 Q902.1 1829.3 895.5 1829.3 Q888.9 1829.3 887.7 1828.4Z" fill="#e6e6e6" stroke-width="1.3"/>
<ellipse cx="890.8" cy="1854.3" rx="6" ry="3.1" fill="#e6e6e6" stroke-width="1.2" transform="rotate(-14 890.8 1854.3)"/>
<ellipse cx="897.2" cy="1853.1" rx="6" ry="3.1" fill="#e6e6e6" stroke-width="1.2" transform="rotate(14 897.2 1853.1)"/>
<rect x="889.3" y="1882.3" width="9.4" height="5.6" fill="#3a4370" stroke="none"/>
<path d="M891 1887.1L883.5 1895.6M897 1887.1L904.5 1895.6" stroke-width="2.6" stroke-linecap="butt"/>
<path d="M886.5 1890.3l3.5 3.2M901.5 1890.3l-3.5 3.2" stroke-width="1.6"/>
</g>
<text class="s" x="946.3" y="1827.1" font-size="28.5" font-weight="bold" fill="#232b50" textLength="135.2" lengthAdjust="spacingAndGlyphs">Ministerio</text>
<text class="s" x="946.3" y="1852.6" font-size="28.5" font-weight="bold" fill="#232b50" textLength="162.2" lengthAdjust="spacingAndGlyphs">de Economía</text>
<text class="s" x="946.3" y="1873.1" font-size="17.6" fill="#232b50" textLength="153.3" lengthAdjust="spacingAndGlyphs">República Argentina</text>
<text class="s" x="582.7" y="1828.1" font-size="28.5" font-weight="bold" fill="#2d3560" textLength="133" lengthAdjust="spacingAndGlyphs">Ministerio</text>
<text class="s" x="582.7" y="1853.4" font-size="28.5" font-weight="bold" fill="#2d3560" textLength="133.8" lengthAdjust="spacingAndGlyphs">de Defensa</text>
<text class="s" x="583.6" y="1873.1" font-size="17.6" fill="#3f476b" textLength="150" lengthAdjust="spacingAndGlyphs">República Argentina</text>
</svg>
</body></html>
